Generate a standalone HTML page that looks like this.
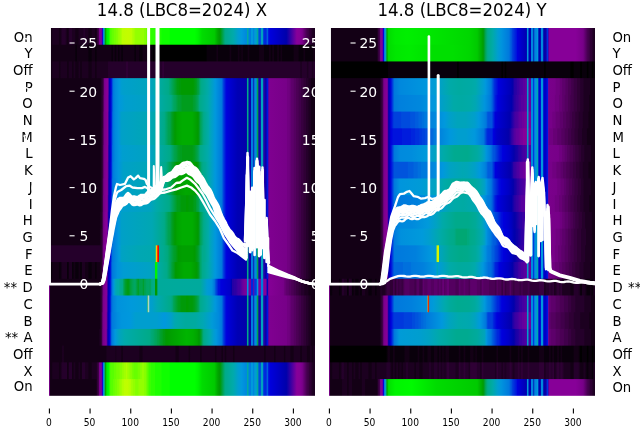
<!DOCTYPE html>
<html><head><meta charset="utf-8"><title>14.8 (LBC8=2024)</title>
<style>html,body{margin:0;padding:0;background:#fff}svg{display:block}text{font-family:"DejaVu Sans","Liberation Sans",sans-serif}</style>
</head><body>
<svg width="640" height="440" viewBox="0 0 640 440">
<defs><linearGradient id="gL0"><stop offset="0" stop-color="#7d008e"/><stop offset="0.001543" stop-color="#7d008e"/><stop offset="0.00463" stop-color="#1c0020"/><stop offset="0.007716" stop-color="#130015"/><stop offset="0.0108" stop-color="#130015"/><stop offset="0.01389" stop-color="#1c0020"/><stop offset="0.03549" stop-color="#1c0020"/><stop offset="0.03858" stop-color="#130015"/><stop offset="0.04167" stop-color="#130015"/><stop offset="0.05093" stop-color="#25002b"/><stop offset="0.06019" stop-color="#25002b"/><stop offset="0.06944" stop-color="#130015"/><stop offset="0.07253" stop-color="#130015"/><stop offset="0.07562" stop-color="#25002b"/><stop offset="0.08488" stop-color="#25002b"/><stop offset="0.08796" stop-color="#1c0020"/><stop offset="0.09722" stop-color="#1c0020"/><stop offset="0.1003" stop-color="#130015"/><stop offset="0.1096" stop-color="#130015"/><stop offset="0.1127" stop-color="#1c0020"/><stop offset="0.1281" stop-color="#1c0020"/><stop offset="0.1312" stop-color="#25002b"/><stop offset="0.1343" stop-color="#25002b"/><stop offset="0.1373" stop-color="#1c0020"/><stop offset="0.1466" stop-color="#1c0020"/><stop offset="0.1497" stop-color="#130015"/><stop offset="0.159" stop-color="#130015"/><stop offset="0.162" stop-color="#1c0020"/><stop offset="0.1713" stop-color="#1c0020"/><stop offset="0.1744" stop-color="#130015"/><stop offset="0.1775" stop-color="#130015"/><stop offset="0.1836" stop-color="#380040"/><stop offset="0.1867" stop-color="#41004b"/><stop offset="0.1898" stop-color="#79008a"/><stop offset="0.196" stop-color="#870098"/><stop offset="0.1991" stop-color="#58009f"/><stop offset="0.2022" stop-color="#0000dd"/><stop offset="0.2052" stop-color="#0098dd"/><stop offset="0.2083" stop-color="#00aa98"/><stop offset="0.2114" stop-color="#009a00"/><stop offset="0.2176" stop-color="#00ea00"/><stop offset="0.2238" stop-color="#00fc00"/><stop offset="0.2269" stop-color="#1dff00"/><stop offset="0.2299" stop-color="#49ff00"/><stop offset="0.233" stop-color="#58ff00"/><stop offset="0.2361" stop-color="#58ff00"/><stop offset="0.2392" stop-color="#67ff00"/><stop offset="0.2423" stop-color="#67ff00"/><stop offset="0.2454" stop-color="#75ff00"/><stop offset="0.2515" stop-color="#75ff00"/><stop offset="0.2546" stop-color="#84ff00"/><stop offset="0.2577" stop-color="#84ff00"/><stop offset="0.2608" stop-color="#93ff00"/><stop offset="0.2639" stop-color="#93ff00"/><stop offset="0.267" stop-color="#a1ff00"/><stop offset="0.2701" stop-color="#a1ff00"/><stop offset="0.2762" stop-color="#bcff00"/><stop offset="0.2978" stop-color="#c4fc00"/><stop offset="0.3102" stop-color="#bcff00"/><stop offset="0.3133" stop-color="#b0ff00"/><stop offset="0.3164" stop-color="#b0ff00"/><stop offset="0.3194" stop-color="#a1ff00"/><stop offset="0.3225" stop-color="#a1ff00"/><stop offset="0.3256" stop-color="#93ff00"/><stop offset="0.3565" stop-color="#93ff00"/><stop offset="0.3596" stop-color="#84ff00"/><stop offset="0.3627" stop-color="#84ff00"/><stop offset="0.3781" stop-color="#3bff00"/><stop offset="0.3812" stop-color="#3bff00"/><stop offset="0.3843" stop-color="#2cff00"/><stop offset="0.3966" stop-color="#2cff00"/><stop offset="0.3997" stop-color="#1dff00"/><stop offset="0.4213" stop-color="#1dff00"/><stop offset="0.4244" stop-color="#0fff00"/><stop offset="0.4522" stop-color="#0fff00"/><stop offset="0.4552" stop-color="#00ff00"/><stop offset="0.5478" stop-color="#00ff00"/><stop offset="0.5602" stop-color="#00f400"/><stop offset="0.5756" stop-color="#00dc00"/><stop offset="0.6219" stop-color="#00ca00"/><stop offset="0.6343" stop-color="#00a700"/><stop offset="0.6404" stop-color="#009c00"/><stop offset="0.6435" stop-color="#009a08"/><stop offset="0.662" stop-color="#00aa88"/><stop offset="0.6929" stop-color="#00aaab"/><stop offset="0.7114" stop-color="#009ecf"/><stop offset="0.7238" stop-color="#0098dd"/><stop offset="0.7423" stop-color="#0088dd"/><stop offset="0.7454" stop-color="#00aaa3"/><stop offset="0.7485" stop-color="#00aaa3"/><stop offset="0.7515" stop-color="#0080dd"/><stop offset="0.7577" stop-color="#007ddd"/><stop offset="0.7608" stop-color="#0098dd"/><stop offset="0.767" stop-color="#0098dd"/><stop offset="0.7701" stop-color="#0078dd"/><stop offset="0.7731" stop-color="#009cd3"/><stop offset="0.7793" stop-color="#009cd3"/><stop offset="0.7824" stop-color="#00aa9d"/><stop offset="0.7855" stop-color="#00aa9d"/><stop offset="0.7886" stop-color="#0054dd"/><stop offset="0.7917" stop-color="#004bdd"/><stop offset="0.7948" stop-color="#004bdd"/><stop offset="0.7978" stop-color="#00a3bf"/><stop offset="0.804" stop-color="#00a3bf"/><stop offset="0.8071" stop-color="#002fdd"/><stop offset="0.8164" stop-color="#0025dd"/><stop offset="0.8194" stop-color="#005ddd"/><stop offset="0.8225" stop-color="#005ddd"/><stop offset="0.8256" stop-color="#0013dd"/><stop offset="0.8318" stop-color="#0000dd"/><stop offset="0.8904" stop-color="#0000ad"/><stop offset="0.8935" stop-color="#0300aa"/><stop offset="0.9306" stop-color="#83009a"/><stop offset="0.9336" stop-color="#870098"/><stop offset="0.9429" stop-color="#850096"/><stop offset="0.9522" stop-color="#7a008b"/><stop offset="0.9707" stop-color="#41004b"/><stop offset="0.9738" stop-color="#41004b"/><stop offset="0.9799" stop-color="#2f0035"/><stop offset="0.983" stop-color="#2f0035"/><stop offset="0.9923" stop-color="#1c0020"/><stop offset="1" stop-color="#1c0020"/></linearGradient>
<linearGradient id="gL1"><stop offset="0" stop-color="#7d008e"/><stop offset="0.001543" stop-color="#7d008e"/><stop offset="0.00463" stop-color="#130015"/><stop offset="0.09722" stop-color="#130015"/><stop offset="0.1003" stop-color="#09000b"/><stop offset="0.1034" stop-color="#09000b"/><stop offset="0.1065" stop-color="#130015"/><stop offset="0.1466" stop-color="#130015"/><stop offset="0.1497" stop-color="#09000b"/><stop offset="0.159" stop-color="#09000b"/><stop offset="0.162" stop-color="#130015"/><stop offset="0.1713" stop-color="#130015"/><stop offset="0.1744" stop-color="#09000b"/><stop offset="0.1775" stop-color="#09000b"/><stop offset="0.1806" stop-color="#130015"/><stop offset="0.233" stop-color="#130015"/><stop offset="0.2361" stop-color="#09000b"/><stop offset="0.2392" stop-color="#09000b"/><stop offset="0.2423" stop-color="#130015"/><stop offset="0.2454" stop-color="#130015"/><stop offset="0.2485" stop-color="#09000b"/><stop offset="0.2515" stop-color="#09000b"/><stop offset="0.2546" stop-color="#130015"/><stop offset="0.2577" stop-color="#130015"/><stop offset="0.2608" stop-color="#09000b"/><stop offset="0.2639" stop-color="#09000b"/><stop offset="0.267" stop-color="#130015"/><stop offset="0.2701" stop-color="#130015"/><stop offset="0.2731" stop-color="#09000b"/><stop offset="0.2762" stop-color="#09000b"/><stop offset="0.2793" stop-color="#130015"/><stop offset="0.3194" stop-color="#130015"/><stop offset="0.3225" stop-color="#09000b"/><stop offset="0.3256" stop-color="#09000b"/><stop offset="0.3287" stop-color="#130015"/><stop offset="0.338" stop-color="#130015"/><stop offset="0.341" stop-color="#09000b"/><stop offset="0.3503" stop-color="#09000b"/><stop offset="0.3534" stop-color="#130015"/><stop offset="0.3812" stop-color="#130015"/><stop offset="0.3843" stop-color="#09000b"/><stop offset="0.3904" stop-color="#09000b"/><stop offset="0.3935" stop-color="#000000"/><stop offset="0.3966" stop-color="#09000b"/><stop offset="0.3997" stop-color="#000000"/><stop offset="0.591" stop-color="#000000"/><stop offset="0.5941" stop-color="#09000b"/><stop offset="0.6281" stop-color="#09000b"/><stop offset="0.6312" stop-color="#130015"/><stop offset="0.6343" stop-color="#130015"/><stop offset="0.6373" stop-color="#09000b"/><stop offset="0.6775" stop-color="#09000b"/><stop offset="0.6806" stop-color="#130015"/><stop offset="0.6836" stop-color="#130015"/><stop offset="0.6867" stop-color="#09000b"/><stop offset="0.7083" stop-color="#09000b"/><stop offset="0.7114" stop-color="#130015"/><stop offset="0.7145" stop-color="#130015"/><stop offset="0.7176" stop-color="#09000b"/><stop offset="0.7269" stop-color="#130015"/><stop offset="0.7299" stop-color="#09000b"/><stop offset="0.7454" stop-color="#09000b"/><stop offset="0.7485" stop-color="#130015"/><stop offset="0.7515" stop-color="#130015"/><stop offset="0.7546" stop-color="#09000b"/><stop offset="0.7886" stop-color="#09000b"/><stop offset="0.7917" stop-color="#130015"/><stop offset="0.8071" stop-color="#130015"/><stop offset="0.8102" stop-color="#09000b"/><stop offset="0.8256" stop-color="#09000b"/><stop offset="0.8287" stop-color="#130015"/><stop offset="0.8318" stop-color="#130015"/><stop offset="0.8349" stop-color="#09000b"/><stop offset="0.838" stop-color="#09000b"/><stop offset="0.841" stop-color="#130015"/><stop offset="0.8441" stop-color="#130015"/><stop offset="0.8472" stop-color="#09000b"/><stop offset="0.8565" stop-color="#09000b"/><stop offset="0.8596" stop-color="#130015"/><stop offset="0.8627" stop-color="#130015"/><stop offset="0.8657" stop-color="#09000b"/><stop offset="0.8688" stop-color="#09000b"/><stop offset="0.8719" stop-color="#130015"/><stop offset="0.875" stop-color="#130015"/><stop offset="0.8781" stop-color="#09000b"/><stop offset="0.9182" stop-color="#09000b"/><stop offset="0.9213" stop-color="#130015"/><stop offset="0.9367" stop-color="#130015"/><stop offset="0.9398" stop-color="#09000b"/><stop offset="0.9552" stop-color="#09000b"/><stop offset="0.9583" stop-color="#130015"/><stop offset="0.9614" stop-color="#130015"/><stop offset="0.9645" stop-color="#09000b"/><stop offset="0.9923" stop-color="#09000b"/><stop offset="0.9954" stop-color="#130015"/><stop offset="1" stop-color="#130015"/></linearGradient>
<linearGradient id="gL2"><stop offset="0" stop-color="#7d008e"/><stop offset="0.001543" stop-color="#7d008e"/><stop offset="0.00463" stop-color="#130015"/><stop offset="0.0108" stop-color="#130015"/><stop offset="0.01389" stop-color="#1c0020"/><stop offset="0.03549" stop-color="#1c0020"/><stop offset="0.03858" stop-color="#130015"/><stop offset="0.04167" stop-color="#130015"/><stop offset="0.04475" stop-color="#1c0020"/><stop offset="0.06636" stop-color="#1c0020"/><stop offset="0.06944" stop-color="#130015"/><stop offset="0.07253" stop-color="#130015"/><stop offset="0.07562" stop-color="#1c0020"/><stop offset="0.08488" stop-color="#1c0020"/><stop offset="0.08796" stop-color="#130015"/><stop offset="0.09105" stop-color="#130015"/><stop offset="0.09414" stop-color="#1c0020"/><stop offset="0.09722" stop-color="#1c0020"/><stop offset="0.1003" stop-color="#130015"/><stop offset="0.1065" stop-color="#130015"/><stop offset="0.1096" stop-color="#130015"/><stop offset="0.1127" stop-color="#1c0020"/><stop offset="0.1157" stop-color="#1c0020"/><stop offset="0.1188" stop-color="#130015"/><stop offset="0.1219" stop-color="#130015"/><stop offset="0.125" stop-color="#1c0020"/><stop offset="0.1466" stop-color="#1c0020"/><stop offset="0.1497" stop-color="#130015"/><stop offset="0.159" stop-color="#130015"/><stop offset="0.162" stop-color="#1c0020"/><stop offset="0.1713" stop-color="#1c0020"/><stop offset="0.1744" stop-color="#130015"/><stop offset="0.1775" stop-color="#130015"/><stop offset="0.1806" stop-color="#1c0020"/><stop offset="0.2207" stop-color="#1c0020"/><stop offset="0.2238" stop-color="#25002b"/><stop offset="0.2886" stop-color="#25002b"/><stop offset="0.2917" stop-color="#2f0035"/><stop offset="0.2948" stop-color="#2f0035"/><stop offset="0.2978" stop-color="#25002b"/><stop offset="0.375" stop-color="#25002b"/><stop offset="0.3781" stop-color="#2f0035"/><stop offset="0.3812" stop-color="#2f0035"/><stop offset="0.3843" stop-color="#25002b"/><stop offset="0.4244" stop-color="#25002b"/><stop offset="0.4275" stop-color="#2f0035"/><stop offset="0.4306" stop-color="#2f0035"/><stop offset="0.4336" stop-color="#25002b"/><stop offset="0.9429" stop-color="#25002b"/><stop offset="0.946" stop-color="#1c0020"/><stop offset="0.9491" stop-color="#1c0020"/><stop offset="0.9522" stop-color="#25002b"/><stop offset="0.9676" stop-color="#25002b"/><stop offset="0.9707" stop-color="#1c0020"/><stop offset="0.9738" stop-color="#1c0020"/><stop offset="0.9769" stop-color="#25002b"/><stop offset="0.9861" stop-color="#25002b"/><stop offset="0.9892" stop-color="#1c0020"/><stop offset="0.9923" stop-color="#1c0020"/><stop offset="0.9954" stop-color="#25002b"/><stop offset="1" stop-color="#25002b"/></linearGradient>
<linearGradient id="gL3"><stop offset="0" stop-color="#7d008e"/><stop offset="0.001543" stop-color="#7d008e"/><stop offset="0.00463" stop-color="#130015"/><stop offset="0.1929" stop-color="#130015"/><stop offset="0.2022" stop-color="#2f0035"/><stop offset="0.2052" stop-color="#4b0055"/><stop offset="0.2083" stop-color="#7a008b"/><stop offset="0.2145" stop-color="#850096"/><stop offset="0.2207" stop-color="#870098"/><stop offset="0.2238" stop-color="#4d00a0"/><stop offset="0.2269" stop-color="#0000ad"/><stop offset="0.233" stop-color="#0000d9"/><stop offset="0.2361" stop-color="#0025dd"/><stop offset="0.2392" stop-color="#005ddd"/><stop offset="0.2423" stop-color="#007add"/><stop offset="0.2485" stop-color="#0088dd"/><stop offset="0.2639" stop-color="#0098dd"/><stop offset="0.2731" stop-color="#009ecf"/><stop offset="0.2824" stop-color="#009fcb"/><stop offset="0.3873" stop-color="#00a4bb"/><stop offset="0.3997" stop-color="#00aaab"/><stop offset="0.4491" stop-color="#00aa88"/><stop offset="0.483" stop-color="#009b13"/><stop offset="0.4861" stop-color="#009b13"/><stop offset="0.4892" stop-color="#009a08"/><stop offset="0.4954" stop-color="#009a08"/><stop offset="0.4985" stop-color="#009a00"/><stop offset="0.5417" stop-color="#009a00"/><stop offset="0.554" stop-color="#009d1d"/><stop offset="0.5571" stop-color="#009f33"/><stop offset="0.5633" stop-color="#00a248"/><stop offset="0.5664" stop-color="#00a668"/><stop offset="0.5694" stop-color="#00a97d"/><stop offset="0.5725" stop-color="#00aa88"/><stop offset="0.5972" stop-color="#00aaa8"/><stop offset="0.625" stop-color="#0098dd"/><stop offset="0.6497" stop-color="#0078dd"/><stop offset="0.6559" stop-color="#0041dd"/><stop offset="0.6651" stop-color="#0009dd"/><stop offset="0.6682" stop-color="#0000dd"/><stop offset="0.7083" stop-color="#0000b5"/><stop offset="0.7423" stop-color="#0300aa"/><stop offset="0.7454" stop-color="#00aa88"/><stop offset="0.7485" stop-color="#00aa88"/><stop offset="0.7515" stop-color="#0300aa"/><stop offset="0.7546" stop-color="#0d00a8"/><stop offset="0.7577" stop-color="#0d00a8"/><stop offset="0.7608" stop-color="#007ddd"/><stop offset="0.767" stop-color="#007ddd"/><stop offset="0.7701" stop-color="#0d00a8"/><stop offset="0.7731" stop-color="#008add"/><stop offset="0.7793" stop-color="#008add"/><stop offset="0.7824" stop-color="#00a353"/><stop offset="0.7855" stop-color="#00a353"/><stop offset="0.7886" stop-color="#1800a7"/><stop offset="0.7948" stop-color="#1800a7"/><stop offset="0.7978" stop-color="#00a3bf"/><stop offset="0.804" stop-color="#00a3bf"/><stop offset="0.8071" stop-color="#2300a6"/><stop offset="0.8102" stop-color="#2300a6"/><stop offset="0.8133" stop-color="#0d00a8"/><stop offset="0.8164" stop-color="#0300aa"/><stop offset="0.8194" stop-color="#0013dd"/><stop offset="0.8225" stop-color="#0013dd"/><stop offset="0.8256" stop-color="#63009e"/><stop offset="0.8287" stop-color="#7f0090"/><stop offset="0.8935" stop-color="#770088"/><stop offset="0.8966" stop-color="#700080"/><stop offset="0.9028" stop-color="#700080"/><stop offset="0.912" stop-color="#5d006b"/><stop offset="0.9182" stop-color="#5d006b"/><stop offset="0.9213" stop-color="#540060"/><stop offset="0.9275" stop-color="#540060"/><stop offset="0.9306" stop-color="#4b0055"/><stop offset="0.9367" stop-color="#4b0055"/><stop offset="0.9398" stop-color="#41004b"/><stop offset="0.946" stop-color="#41004b"/><stop offset="0.9491" stop-color="#380040"/><stop offset="0.9552" stop-color="#380040"/><stop offset="0.9583" stop-color="#2f0035"/><stop offset="0.9645" stop-color="#2f0035"/><stop offset="0.9676" stop-color="#25002b"/><stop offset="0.9738" stop-color="#25002b"/><stop offset="0.9769" stop-color="#1c0020"/><stop offset="0.983" stop-color="#1c0020"/><stop offset="0.9861" stop-color="#130015"/><stop offset="1" stop-color="#130015"/></linearGradient>
<linearGradient id="gL4"><stop offset="0" stop-color="#7d008e"/><stop offset="0.001543" stop-color="#7d008e"/><stop offset="0.00463" stop-color="#130015"/><stop offset="0.1929" stop-color="#130015"/><stop offset="0.2022" stop-color="#2f0035"/><stop offset="0.2083" stop-color="#7a008b"/><stop offset="0.2145" stop-color="#850096"/><stop offset="0.2207" stop-color="#870098"/><stop offset="0.2269" stop-color="#0000b1"/><stop offset="0.233" stop-color="#0000d9"/><stop offset="0.2392" stop-color="#005ddd"/><stop offset="0.2423" stop-color="#007add"/><stop offset="0.2485" stop-color="#0088dd"/><stop offset="0.2639" stop-color="#0098dd"/><stop offset="0.2855" stop-color="#009ecf"/><stop offset="0.375" stop-color="#00a2c3"/><stop offset="0.3935" stop-color="#00a4bb"/><stop offset="0.4059" stop-color="#00aaab"/><stop offset="0.4583" stop-color="#00aa88"/><stop offset="0.4707" stop-color="#00a55d"/><stop offset="0.4738" stop-color="#00a55d"/><stop offset="0.4861" stop-color="#009f33"/><stop offset="0.4923" stop-color="#009f33"/><stop offset="0.5015" stop-color="#009d1d"/><stop offset="0.5386" stop-color="#009d1d"/><stop offset="0.5448" stop-color="#009f33"/><stop offset="0.5478" stop-color="#009f33"/><stop offset="0.5602" stop-color="#00a55d"/><stop offset="0.5664" stop-color="#00aa88"/><stop offset="0.5972" stop-color="#00aaab"/><stop offset="0.625" stop-color="#0098dd"/><stop offset="0.6497" stop-color="#0078dd"/><stop offset="0.6559" stop-color="#0041dd"/><stop offset="0.6651" stop-color="#0009dd"/><stop offset="0.6682" stop-color="#0000dd"/><stop offset="0.7083" stop-color="#0000b5"/><stop offset="0.7423" stop-color="#0300aa"/><stop offset="0.7454" stop-color="#00aa88"/><stop offset="0.7485" stop-color="#00aa88"/><stop offset="0.7515" stop-color="#0300aa"/><stop offset="0.7546" stop-color="#0d00a8"/><stop offset="0.7577" stop-color="#0d00a8"/><stop offset="0.7608" stop-color="#007ddd"/><stop offset="0.767" stop-color="#007ddd"/><stop offset="0.7701" stop-color="#0d00a8"/><stop offset="0.7731" stop-color="#008add"/><stop offset="0.7793" stop-color="#008add"/><stop offset="0.7824" stop-color="#00a353"/><stop offset="0.7855" stop-color="#00a353"/><stop offset="0.7886" stop-color="#1800a7"/><stop offset="0.7948" stop-color="#1800a7"/><stop offset="0.7978" stop-color="#00a3bf"/><stop offset="0.804" stop-color="#00a3bf"/><stop offset="0.8071" stop-color="#2300a6"/><stop offset="0.8102" stop-color="#2300a6"/><stop offset="0.8133" stop-color="#0d00a8"/><stop offset="0.8164" stop-color="#0300aa"/><stop offset="0.8194" stop-color="#0013dd"/><stop offset="0.8225" stop-color="#0013dd"/><stop offset="0.8256" stop-color="#63009e"/><stop offset="0.8287" stop-color="#7f0090"/><stop offset="0.8935" stop-color="#770088"/><stop offset="0.8966" stop-color="#700080"/><stop offset="0.9028" stop-color="#700080"/><stop offset="0.912" stop-color="#5d006b"/><stop offset="0.9182" stop-color="#5d006b"/><stop offset="0.9213" stop-color="#540060"/><stop offset="0.9275" stop-color="#540060"/><stop offset="0.9306" stop-color="#4b0055"/><stop offset="0.9367" stop-color="#4b0055"/><stop offset="0.9398" stop-color="#41004b"/><stop offset="0.946" stop-color="#41004b"/><stop offset="0.9491" stop-color="#380040"/><stop offset="0.9552" stop-color="#380040"/><stop offset="0.9583" stop-color="#2f0035"/><stop offset="0.9645" stop-color="#2f0035"/><stop offset="0.9676" stop-color="#25002b"/><stop offset="0.9738" stop-color="#25002b"/><stop offset="0.9769" stop-color="#1c0020"/><stop offset="0.983" stop-color="#1c0020"/><stop offset="0.9861" stop-color="#130015"/><stop offset="1" stop-color="#130015"/></linearGradient>
<linearGradient id="gL5"><stop offset="0" stop-color="#7d008e"/><stop offset="0.001543" stop-color="#7d008e"/><stop offset="0.00463" stop-color="#130015"/><stop offset="0.1929" stop-color="#130015"/><stop offset="0.2022" stop-color="#2f0035"/><stop offset="0.2052" stop-color="#5d006b"/><stop offset="0.2083" stop-color="#7b008c"/><stop offset="0.2207" stop-color="#870098"/><stop offset="0.2238" stop-color="#3800a3"/><stop offset="0.2269" stop-color="#0000b1"/><stop offset="0.233" stop-color="#0000dd"/><stop offset="0.2361" stop-color="#002fdd"/><stop offset="0.2392" stop-color="#0067dd"/><stop offset="0.2423" stop-color="#007add"/><stop offset="0.2485" stop-color="#0088dd"/><stop offset="0.2608" stop-color="#0095dd"/><stop offset="0.2731" stop-color="#00a0c7"/><stop offset="0.3873" stop-color="#00a7b3"/><stop offset="0.4336" stop-color="#00aa88"/><stop offset="0.4491" stop-color="#00a353"/><stop offset="0.4522" stop-color="#00a353"/><stop offset="0.4583" stop-color="#00a13d"/><stop offset="0.4614" stop-color="#009e28"/><stop offset="0.4738" stop-color="#009a00"/><stop offset="0.483" stop-color="#00a400"/><stop offset="0.5015" stop-color="#00ac00"/><stop offset="0.5386" stop-color="#00ac00"/><stop offset="0.5602" stop-color="#009a00"/><stop offset="0.5633" stop-color="#009b13"/><stop offset="0.5694" stop-color="#00a353"/><stop offset="0.5818" stop-color="#00aa8b"/><stop offset="0.6003" stop-color="#00aaab"/><stop offset="0.6034" stop-color="#00a6b7"/><stop offset="0.625" stop-color="#0098dd"/><stop offset="0.6497" stop-color="#0078dd"/><stop offset="0.6559" stop-color="#0041dd"/><stop offset="0.6651" stop-color="#0009dd"/><stop offset="0.6682" stop-color="#0000dd"/><stop offset="0.7083" stop-color="#0000b5"/><stop offset="0.7423" stop-color="#0300aa"/><stop offset="0.7454" stop-color="#00aa88"/><stop offset="0.7485" stop-color="#00aa88"/><stop offset="0.7515" stop-color="#0300aa"/><stop offset="0.7546" stop-color="#0d00a8"/><stop offset="0.7577" stop-color="#0d00a8"/><stop offset="0.7608" stop-color="#007ddd"/><stop offset="0.767" stop-color="#007ddd"/><stop offset="0.7701" stop-color="#0d00a8"/><stop offset="0.7731" stop-color="#008add"/><stop offset="0.7793" stop-color="#008add"/><stop offset="0.7824" stop-color="#00a353"/><stop offset="0.7855" stop-color="#00a353"/><stop offset="0.7886" stop-color="#1800a7"/><stop offset="0.7948" stop-color="#1800a7"/><stop offset="0.7978" stop-color="#00a3bf"/><stop offset="0.804" stop-color="#00a3bf"/><stop offset="0.8071" stop-color="#2300a6"/><stop offset="0.8102" stop-color="#2300a6"/><stop offset="0.8133" stop-color="#0d00a8"/><stop offset="0.8164" stop-color="#0300aa"/><stop offset="0.8194" stop-color="#0013dd"/><stop offset="0.8225" stop-color="#0013dd"/><stop offset="0.8256" stop-color="#63009e"/><stop offset="0.8287" stop-color="#7f0090"/><stop offset="0.8935" stop-color="#770088"/><stop offset="0.8966" stop-color="#700080"/><stop offset="0.9028" stop-color="#700080"/><stop offset="0.912" stop-color="#5d006b"/><stop offset="0.9182" stop-color="#5d006b"/><stop offset="0.9213" stop-color="#540060"/><stop offset="0.9275" stop-color="#540060"/><stop offset="0.9306" stop-color="#4b0055"/><stop offset="0.9367" stop-color="#4b0055"/><stop offset="0.9398" stop-color="#41004b"/><stop offset="0.946" stop-color="#41004b"/><stop offset="0.9491" stop-color="#380040"/><stop offset="0.9552" stop-color="#380040"/><stop offset="0.9583" stop-color="#2f0035"/><stop offset="0.9645" stop-color="#2f0035"/><stop offset="0.9676" stop-color="#25002b"/><stop offset="0.9738" stop-color="#25002b"/><stop offset="0.9769" stop-color="#1c0020"/><stop offset="0.983" stop-color="#1c0020"/><stop offset="0.9861" stop-color="#130015"/><stop offset="1" stop-color="#130015"/></linearGradient>
<linearGradient id="gL6"><stop offset="0" stop-color="#7d008e"/><stop offset="0.001543" stop-color="#7d008e"/><stop offset="0.00463" stop-color="#130015"/><stop offset="0.1929" stop-color="#130015"/><stop offset="0.1991" stop-color="#25002b"/><stop offset="0.2022" stop-color="#380040"/><stop offset="0.2052" stop-color="#5d006b"/><stop offset="0.2083" stop-color="#7b008c"/><stop offset="0.2207" stop-color="#870098"/><stop offset="0.2238" stop-color="#3800a3"/><stop offset="0.2269" stop-color="#0000b5"/><stop offset="0.233" stop-color="#0000dd"/><stop offset="0.2361" stop-color="#0038dd"/><stop offset="0.2392" stop-color="#0067dd"/><stop offset="0.2423" stop-color="#007add"/><stop offset="0.2485" stop-color="#0088dd"/><stop offset="0.2608" stop-color="#0095dd"/><stop offset="0.2731" stop-color="#00a0c7"/><stop offset="0.3873" stop-color="#00a7b3"/><stop offset="0.4336" stop-color="#00aa88"/><stop offset="0.4491" stop-color="#00a353"/><stop offset="0.4522" stop-color="#00a353"/><stop offset="0.4583" stop-color="#00a13d"/><stop offset="0.4614" stop-color="#009e28"/><stop offset="0.4738" stop-color="#009a00"/><stop offset="0.483" stop-color="#00a400"/><stop offset="0.5015" stop-color="#00ac00"/><stop offset="0.5386" stop-color="#00ac00"/><stop offset="0.5602" stop-color="#009a00"/><stop offset="0.5633" stop-color="#009b13"/><stop offset="0.5694" stop-color="#00a353"/><stop offset="0.5818" stop-color="#00aa8b"/><stop offset="0.6003" stop-color="#00aaab"/><stop offset="0.6034" stop-color="#00a6b7"/><stop offset="0.625" stop-color="#0098dd"/><stop offset="0.6497" stop-color="#0078dd"/><stop offset="0.6559" stop-color="#0041dd"/><stop offset="0.6651" stop-color="#0009dd"/><stop offset="0.6682" stop-color="#0000dd"/><stop offset="0.7083" stop-color="#0000b5"/><stop offset="0.7423" stop-color="#0300aa"/><stop offset="0.7454" stop-color="#00aa88"/><stop offset="0.7485" stop-color="#00aa88"/><stop offset="0.7515" stop-color="#0300aa"/><stop offset="0.7546" stop-color="#0d00a8"/><stop offset="0.7577" stop-color="#0d00a8"/><stop offset="0.7608" stop-color="#007ddd"/><stop offset="0.767" stop-color="#007ddd"/><stop offset="0.7701" stop-color="#0d00a8"/><stop offset="0.7731" stop-color="#008add"/><stop offset="0.7793" stop-color="#008add"/><stop offset="0.7824" stop-color="#00a353"/><stop offset="0.7855" stop-color="#00a353"/><stop offset="0.7886" stop-color="#1800a7"/><stop offset="0.7948" stop-color="#1800a7"/><stop offset="0.7978" stop-color="#00a3bf"/><stop offset="0.804" stop-color="#00a3bf"/><stop offset="0.8071" stop-color="#2300a6"/><stop offset="0.8102" stop-color="#2300a6"/><stop offset="0.8133" stop-color="#0d00a8"/><stop offset="0.8164" stop-color="#0300aa"/><stop offset="0.8194" stop-color="#0013dd"/><stop offset="0.8225" stop-color="#0013dd"/><stop offset="0.8256" stop-color="#63009e"/><stop offset="0.8287" stop-color="#7f0090"/><stop offset="0.8935" stop-color="#770088"/><stop offset="0.8966" stop-color="#700080"/><stop offset="0.9028" stop-color="#700080"/><stop offset="0.912" stop-color="#5d006b"/><stop offset="0.9182" stop-color="#5d006b"/><stop offset="0.9213" stop-color="#540060"/><stop offset="0.9275" stop-color="#540060"/><stop offset="0.9306" stop-color="#4b0055"/><stop offset="0.9367" stop-color="#4b0055"/><stop offset="0.9398" stop-color="#41004b"/><stop offset="0.946" stop-color="#41004b"/><stop offset="0.9491" stop-color="#380040"/><stop offset="0.9552" stop-color="#380040"/><stop offset="0.9583" stop-color="#2f0035"/><stop offset="0.9645" stop-color="#2f0035"/><stop offset="0.9676" stop-color="#25002b"/><stop offset="0.9738" stop-color="#25002b"/><stop offset="0.9769" stop-color="#1c0020"/><stop offset="0.983" stop-color="#1c0020"/><stop offset="0.9861" stop-color="#130015"/><stop offset="1" stop-color="#130015"/></linearGradient>
<linearGradient id="gL7"><stop offset="0" stop-color="#7d008e"/><stop offset="0.001543" stop-color="#7d008e"/><stop offset="0.00463" stop-color="#130015"/><stop offset="0.1929" stop-color="#130015"/><stop offset="0.1991" stop-color="#25002b"/><stop offset="0.2022" stop-color="#380040"/><stop offset="0.2052" stop-color="#670075"/><stop offset="0.2083" stop-color="#7b008c"/><stop offset="0.2176" stop-color="#860097"/><stop offset="0.2207" stop-color="#83009a"/><stop offset="0.2238" stop-color="#2d00a4"/><stop offset="0.2269" stop-color="#0000b5"/><stop offset="0.233" stop-color="#0000dd"/><stop offset="0.2392" stop-color="#0070dd"/><stop offset="0.2485" stop-color="#0088dd"/><stop offset="0.2639" stop-color="#0098dd"/><stop offset="0.2762" stop-color="#009ecf"/><stop offset="0.3873" stop-color="#00a3bf"/><stop offset="0.3997" stop-color="#00a8af"/><stop offset="0.4552" stop-color="#00aa88"/><stop offset="0.4738" stop-color="#00a248"/><stop offset="0.4769" stop-color="#00a248"/><stop offset="0.4861" stop-color="#009e28"/><stop offset="0.4892" stop-color="#009e28"/><stop offset="0.4923" stop-color="#009d1d"/><stop offset="0.4985" stop-color="#009d1d"/><stop offset="0.5015" stop-color="#009b13"/><stop offset="0.5386" stop-color="#009b13"/><stop offset="0.5417" stop-color="#009d1d"/><stop offset="0.5448" stop-color="#009d1d"/><stop offset="0.5602" stop-color="#00a353"/><stop offset="0.5664" stop-color="#00a97d"/><stop offset="0.5694" stop-color="#00aa8b"/><stop offset="0.5972" stop-color="#00aaab"/><stop offset="0.625" stop-color="#0098dd"/><stop offset="0.6497" stop-color="#0078dd"/><stop offset="0.6559" stop-color="#0041dd"/><stop offset="0.6651" stop-color="#0009dd"/><stop offset="0.6682" stop-color="#0000dd"/><stop offset="0.7083" stop-color="#0000b5"/><stop offset="0.7423" stop-color="#0300aa"/><stop offset="0.7454" stop-color="#00aa88"/><stop offset="0.7485" stop-color="#00aa88"/><stop offset="0.7515" stop-color="#0300aa"/><stop offset="0.7546" stop-color="#0d00a8"/><stop offset="0.7577" stop-color="#0d00a8"/><stop offset="0.7608" stop-color="#007ddd"/><stop offset="0.767" stop-color="#007ddd"/><stop offset="0.7701" stop-color="#0d00a8"/><stop offset="0.7731" stop-color="#008add"/><stop offset="0.7793" stop-color="#008add"/><stop offset="0.7824" stop-color="#00a353"/><stop offset="0.7855" stop-color="#00a353"/><stop offset="0.7886" stop-color="#1800a7"/><stop offset="0.7948" stop-color="#1800a7"/><stop offset="0.7978" stop-color="#00a3bf"/><stop offset="0.804" stop-color="#00a3bf"/><stop offset="0.8071" stop-color="#2300a6"/><stop offset="0.8102" stop-color="#2300a6"/><stop offset="0.8133" stop-color="#0d00a8"/><stop offset="0.8164" stop-color="#0300aa"/><stop offset="0.8194" stop-color="#0013dd"/><stop offset="0.8225" stop-color="#0013dd"/><stop offset="0.8256" stop-color="#63009e"/><stop offset="0.8287" stop-color="#7f0090"/><stop offset="0.8935" stop-color="#770088"/><stop offset="0.8966" stop-color="#700080"/><stop offset="0.9028" stop-color="#700080"/><stop offset="0.912" stop-color="#5d006b"/><stop offset="0.9182" stop-color="#5d006b"/><stop offset="0.9213" stop-color="#540060"/><stop offset="0.9275" stop-color="#540060"/><stop offset="0.9306" stop-color="#4b0055"/><stop offset="0.9367" stop-color="#4b0055"/><stop offset="0.9398" stop-color="#41004b"/><stop offset="0.946" stop-color="#41004b"/><stop offset="0.9491" stop-color="#380040"/><stop offset="0.9552" stop-color="#380040"/><stop offset="0.9583" stop-color="#2f0035"/><stop offset="0.9645" stop-color="#2f0035"/><stop offset="0.9676" stop-color="#25002b"/><stop offset="0.9738" stop-color="#25002b"/><stop offset="0.9769" stop-color="#1c0020"/><stop offset="0.983" stop-color="#1c0020"/><stop offset="0.9861" stop-color="#130015"/><stop offset="1" stop-color="#130015"/></linearGradient>
<linearGradient id="gL8"><stop offset="0" stop-color="#7d008e"/><stop offset="0.001543" stop-color="#7d008e"/><stop offset="0.00463" stop-color="#130015"/><stop offset="0.1929" stop-color="#130015"/><stop offset="0.1991" stop-color="#25002b"/><stop offset="0.2022" stop-color="#380040"/><stop offset="0.2052" stop-color="#670075"/><stop offset="0.2083" stop-color="#7b008c"/><stop offset="0.2176" stop-color="#860097"/><stop offset="0.2207" stop-color="#78009b"/><stop offset="0.2238" stop-color="#2d00a4"/><stop offset="0.2269" stop-color="#0000b9"/><stop offset="0.2299" stop-color="#0000cd"/><stop offset="0.233" stop-color="#0009dd"/><stop offset="0.2361" stop-color="#0038dd"/><stop offset="0.2392" stop-color="#0070dd"/><stop offset="0.2423" stop-color="#007ddd"/><stop offset="0.2485" stop-color="#0088dd"/><stop offset="0.2608" stop-color="#0095dd"/><stop offset="0.2793" stop-color="#00a0c7"/><stop offset="0.3873" stop-color="#00a6b7"/><stop offset="0.4398" stop-color="#00aa88"/><stop offset="0.4552" stop-color="#00a353"/><stop offset="0.4583" stop-color="#00a353"/><stop offset="0.4614" stop-color="#00a13d"/><stop offset="0.4799" stop-color="#009a00"/><stop offset="0.5139" stop-color="#00a700"/><stop offset="0.5386" stop-color="#00a400"/><stop offset="0.554" stop-color="#009a00"/><stop offset="0.5602" stop-color="#009b13"/><stop offset="0.5633" stop-color="#009e28"/><stop offset="0.5664" stop-color="#00a248"/><stop offset="0.5725" stop-color="#00a773"/><stop offset="0.5787" stop-color="#00aa8b"/><stop offset="0.588" stop-color="#00aa95"/><stop offset="0.5972" stop-color="#00aaa8"/><stop offset="0.625" stop-color="#0098dd"/><stop offset="0.6497" stop-color="#0078dd"/><stop offset="0.6559" stop-color="#0041dd"/><stop offset="0.6651" stop-color="#0009dd"/><stop offset="0.6682" stop-color="#0000dd"/><stop offset="0.7083" stop-color="#0000b5"/><stop offset="0.7423" stop-color="#0300aa"/><stop offset="0.7454" stop-color="#00aa88"/><stop offset="0.7485" stop-color="#00aa88"/><stop offset="0.7515" stop-color="#0300aa"/><stop offset="0.7546" stop-color="#0d00a8"/><stop offset="0.7577" stop-color="#0d00a8"/><stop offset="0.7608" stop-color="#007ddd"/><stop offset="0.767" stop-color="#007ddd"/><stop offset="0.7701" stop-color="#0d00a8"/><stop offset="0.7731" stop-color="#008add"/><stop offset="0.7793" stop-color="#008add"/><stop offset="0.7824" stop-color="#00a353"/><stop offset="0.7855" stop-color="#00a353"/><stop offset="0.7886" stop-color="#1800a7"/><stop offset="0.7948" stop-color="#1800a7"/><stop offset="0.7978" stop-color="#00a3bf"/><stop offset="0.804" stop-color="#00a3bf"/><stop offset="0.8071" stop-color="#2300a6"/><stop offset="0.8102" stop-color="#2300a6"/><stop offset="0.8133" stop-color="#0d00a8"/><stop offset="0.8164" stop-color="#0300aa"/><stop offset="0.8194" stop-color="#0013dd"/><stop offset="0.8225" stop-color="#0013dd"/><stop offset="0.8256" stop-color="#63009e"/><stop offset="0.8287" stop-color="#7f0090"/><stop offset="0.8935" stop-color="#770088"/><stop offset="0.8966" stop-color="#700080"/><stop offset="0.9028" stop-color="#700080"/><stop offset="0.912" stop-color="#5d006b"/><stop offset="0.9182" stop-color="#5d006b"/><stop offset="0.9213" stop-color="#540060"/><stop offset="0.9275" stop-color="#540060"/><stop offset="0.9306" stop-color="#4b0055"/><stop offset="0.9367" stop-color="#4b0055"/><stop offset="0.9398" stop-color="#41004b"/><stop offset="0.946" stop-color="#41004b"/><stop offset="0.9491" stop-color="#380040"/><stop offset="0.9552" stop-color="#380040"/><stop offset="0.9583" stop-color="#2f0035"/><stop offset="0.9645" stop-color="#2f0035"/><stop offset="0.9676" stop-color="#25002b"/><stop offset="0.9738" stop-color="#25002b"/><stop offset="0.9769" stop-color="#1c0020"/><stop offset="0.983" stop-color="#1c0020"/><stop offset="0.9861" stop-color="#130015"/><stop offset="1" stop-color="#130015"/></linearGradient>
<linearGradient id="gL9"><stop offset="0" stop-color="#7d008e"/><stop offset="0.001543" stop-color="#7d008e"/><stop offset="0.00463" stop-color="#130015"/><stop offset="0.1929" stop-color="#130015"/><stop offset="0.1991" stop-color="#25002b"/><stop offset="0.2022" stop-color="#41004b"/><stop offset="0.2052" stop-color="#700080"/><stop offset="0.2083" stop-color="#7d008e"/><stop offset="0.2176" stop-color="#860097"/><stop offset="0.2207" stop-color="#78009b"/><stop offset="0.2238" stop-color="#2300a6"/><stop offset="0.2269" stop-color="#0000b9"/><stop offset="0.2299" stop-color="#0000cd"/><stop offset="0.233" stop-color="#0009dd"/><stop offset="0.2392" stop-color="#0078dd"/><stop offset="0.2608" stop-color="#0095dd"/><stop offset="0.2793" stop-color="#00a0c7"/><stop offset="0.3873" stop-color="#00a6b7"/><stop offset="0.4398" stop-color="#00aa88"/><stop offset="0.4552" stop-color="#00a353"/><stop offset="0.4583" stop-color="#00a353"/><stop offset="0.4614" stop-color="#00a13d"/><stop offset="0.4799" stop-color="#009a00"/><stop offset="0.5139" stop-color="#00a700"/><stop offset="0.5386" stop-color="#00a400"/><stop offset="0.554" stop-color="#009a00"/><stop offset="0.5602" stop-color="#009b13"/><stop offset="0.5633" stop-color="#009e28"/><stop offset="0.5664" stop-color="#00a248"/><stop offset="0.5725" stop-color="#00a773"/><stop offset="0.5787" stop-color="#00aa8b"/><stop offset="0.588" stop-color="#00aa95"/><stop offset="0.5972" stop-color="#00aaa8"/><stop offset="0.625" stop-color="#0098dd"/><stop offset="0.6497" stop-color="#0078dd"/><stop offset="0.6559" stop-color="#0041dd"/><stop offset="0.6651" stop-color="#0009dd"/><stop offset="0.6682" stop-color="#0000dd"/><stop offset="0.7083" stop-color="#0000b5"/><stop offset="0.7423" stop-color="#0300aa"/><stop offset="0.7454" stop-color="#00aa88"/><stop offset="0.7485" stop-color="#00aa88"/><stop offset="0.7515" stop-color="#0300aa"/><stop offset="0.7546" stop-color="#0d00a8"/><stop offset="0.7577" stop-color="#0d00a8"/><stop offset="0.7608" stop-color="#007ddd"/><stop offset="0.767" stop-color="#007ddd"/><stop offset="0.7701" stop-color="#0d00a8"/><stop offset="0.7731" stop-color="#008add"/><stop offset="0.7793" stop-color="#008add"/><stop offset="0.7824" stop-color="#00a353"/><stop offset="0.7855" stop-color="#00a353"/><stop offset="0.7886" stop-color="#1800a7"/><stop offset="0.7948" stop-color="#1800a7"/><stop offset="0.7978" stop-color="#00a3bf"/><stop offset="0.804" stop-color="#00a3bf"/><stop offset="0.8071" stop-color="#2300a6"/><stop offset="0.8102" stop-color="#2300a6"/><stop offset="0.8133" stop-color="#0d00a8"/><stop offset="0.8164" stop-color="#0300aa"/><stop offset="0.8194" stop-color="#0013dd"/><stop offset="0.8225" stop-color="#0013dd"/><stop offset="0.8256" stop-color="#63009e"/><stop offset="0.8287" stop-color="#7f0090"/><stop offset="0.8935" stop-color="#770088"/><stop offset="0.8966" stop-color="#700080"/><stop offset="0.9028" stop-color="#700080"/><stop offset="0.912" stop-color="#5d006b"/><stop offset="0.9182" stop-color="#5d006b"/><stop offset="0.9213" stop-color="#540060"/><stop offset="0.9275" stop-color="#540060"/><stop offset="0.9306" stop-color="#4b0055"/><stop offset="0.9367" stop-color="#4b0055"/><stop offset="0.9398" stop-color="#41004b"/><stop offset="0.946" stop-color="#41004b"/><stop offset="0.9491" stop-color="#380040"/><stop offset="0.9552" stop-color="#380040"/><stop offset="0.9583" stop-color="#2f0035"/><stop offset="0.9645" stop-color="#2f0035"/><stop offset="0.9676" stop-color="#25002b"/><stop offset="0.9738" stop-color="#25002b"/><stop offset="0.9769" stop-color="#1c0020"/><stop offset="0.983" stop-color="#1c0020"/><stop offset="0.9861" stop-color="#130015"/><stop offset="1" stop-color="#130015"/></linearGradient>
<linearGradient id="gL10"><stop offset="0" stop-color="#7d008e"/><stop offset="0.001543" stop-color="#7d008e"/><stop offset="0.00463" stop-color="#130015"/><stop offset="0.1929" stop-color="#130015"/><stop offset="0.1991" stop-color="#25002b"/><stop offset="0.2022" stop-color="#41004b"/><stop offset="0.2052" stop-color="#770088"/><stop offset="0.2176" stop-color="#860097"/><stop offset="0.2207" stop-color="#6d009c"/><stop offset="0.2238" stop-color="#1800a7"/><stop offset="0.2269" stop-color="#0000bd"/><stop offset="0.2299" stop-color="#0000d1"/><stop offset="0.233" stop-color="#0013dd"/><stop offset="0.2361" stop-color="#004bdd"/><stop offset="0.2392" stop-color="#0078dd"/><stop offset="0.2577" stop-color="#0092dd"/><stop offset="0.267" stop-color="#009adb"/><stop offset="0.2731" stop-color="#009ecf"/><stop offset="0.3812" stop-color="#00a3bf"/><stop offset="0.4059" stop-color="#00aaa8"/><stop offset="0.4522" stop-color="#00aa88"/><stop offset="0.483" stop-color="#009d1d"/><stop offset="0.4892" stop-color="#009d1d"/><stop offset="0.4985" stop-color="#009a08"/><stop offset="0.5139" stop-color="#009a08"/><stop offset="0.517" stop-color="#009a00"/><stop offset="0.5231" stop-color="#009a00"/><stop offset="0.5262" stop-color="#009a08"/><stop offset="0.5386" stop-color="#009a08"/><stop offset="0.5478" stop-color="#009d1d"/><stop offset="0.5509" stop-color="#009d1d"/><stop offset="0.554" stop-color="#009f33"/><stop offset="0.5633" stop-color="#00a353"/><stop offset="0.5664" stop-color="#00a773"/><stop offset="0.5694" stop-color="#00aa88"/><stop offset="0.5972" stop-color="#00aaab"/><stop offset="0.625" stop-color="#0098dd"/><stop offset="0.6497" stop-color="#0078dd"/><stop offset="0.6559" stop-color="#0041dd"/><stop offset="0.6651" stop-color="#0009dd"/><stop offset="0.6682" stop-color="#0000dd"/><stop offset="0.7083" stop-color="#0000b5"/><stop offset="0.7423" stop-color="#0300aa"/><stop offset="0.7454" stop-color="#00aa88"/><stop offset="0.7485" stop-color="#00aa88"/><stop offset="0.7515" stop-color="#0300aa"/><stop offset="0.7546" stop-color="#0d00a8"/><stop offset="0.7577" stop-color="#0d00a8"/><stop offset="0.7608" stop-color="#007ddd"/><stop offset="0.767" stop-color="#007ddd"/><stop offset="0.7701" stop-color="#0d00a8"/><stop offset="0.7731" stop-color="#008add"/><stop offset="0.7793" stop-color="#008add"/><stop offset="0.7824" stop-color="#00a353"/><stop offset="0.7855" stop-color="#00a353"/><stop offset="0.7886" stop-color="#1800a7"/><stop offset="0.7948" stop-color="#1800a7"/><stop offset="0.7978" stop-color="#00a3bf"/><stop offset="0.804" stop-color="#00a3bf"/><stop offset="0.8071" stop-color="#2300a6"/><stop offset="0.8102" stop-color="#2300a6"/><stop offset="0.8133" stop-color="#0d00a8"/><stop offset="0.8164" stop-color="#0300aa"/><stop offset="0.8194" stop-color="#0013dd"/><stop offset="0.8225" stop-color="#0013dd"/><stop offset="0.8256" stop-color="#63009e"/><stop offset="0.8287" stop-color="#7f0090"/><stop offset="0.8935" stop-color="#770088"/><stop offset="0.8966" stop-color="#700080"/><stop offset="0.9028" stop-color="#700080"/><stop offset="0.912" stop-color="#5d006b"/><stop offset="0.9182" stop-color="#5d006b"/><stop offset="0.9213" stop-color="#540060"/><stop offset="0.9275" stop-color="#540060"/><stop offset="0.9306" stop-color="#4b0055"/><stop offset="0.9367" stop-color="#4b0055"/><stop offset="0.9398" stop-color="#41004b"/><stop offset="0.946" stop-color="#41004b"/><stop offset="0.9491" stop-color="#380040"/><stop offset="0.9552" stop-color="#380040"/><stop offset="0.9583" stop-color="#2f0035"/><stop offset="0.9645" stop-color="#2f0035"/><stop offset="0.9676" stop-color="#25002b"/><stop offset="0.9738" stop-color="#25002b"/><stop offset="0.9769" stop-color="#1c0020"/><stop offset="0.983" stop-color="#1c0020"/><stop offset="0.9861" stop-color="#130015"/><stop offset="1" stop-color="#130015"/></linearGradient>
<linearGradient id="gL11"><stop offset="0" stop-color="#7d008e"/><stop offset="0.001543" stop-color="#7d008e"/><stop offset="0.00463" stop-color="#130015"/><stop offset="0.1898" stop-color="#130015"/><stop offset="0.1991" stop-color="#25002b"/><stop offset="0.2022" stop-color="#4b0055"/><stop offset="0.2052" stop-color="#770088"/><stop offset="0.2114" stop-color="#830094"/><stop offset="0.2176" stop-color="#870098"/><stop offset="0.2207" stop-color="#63009e"/><stop offset="0.2238" stop-color="#0d00a8"/><stop offset="0.2269" stop-color="#0000bd"/><stop offset="0.2299" stop-color="#0000d1"/><stop offset="0.233" stop-color="#001cdd"/><stop offset="0.2392" stop-color="#0078dd"/><stop offset="0.2608" stop-color="#0095dd"/><stop offset="0.2731" stop-color="#00a0c7"/><stop offset="0.3873" stop-color="#00a7b3"/><stop offset="0.4336" stop-color="#00aa88"/><stop offset="0.4491" stop-color="#00a353"/><stop offset="0.4522" stop-color="#00a353"/><stop offset="0.4583" stop-color="#00a13d"/><stop offset="0.4614" stop-color="#009e28"/><stop offset="0.4738" stop-color="#009a00"/><stop offset="0.483" stop-color="#00a400"/><stop offset="0.5015" stop-color="#00ac00"/><stop offset="0.5386" stop-color="#00ac00"/><stop offset="0.5602" stop-color="#009a00"/><stop offset="0.5633" stop-color="#009b13"/><stop offset="0.5694" stop-color="#00a353"/><stop offset="0.5818" stop-color="#00aa8b"/><stop offset="0.6003" stop-color="#00aaab"/><stop offset="0.6034" stop-color="#00a6b7"/><stop offset="0.625" stop-color="#0098dd"/><stop offset="0.6497" stop-color="#0078dd"/><stop offset="0.6559" stop-color="#0041dd"/><stop offset="0.6651" stop-color="#0009dd"/><stop offset="0.6682" stop-color="#0000dd"/><stop offset="0.7083" stop-color="#0000b5"/><stop offset="0.7423" stop-color="#0300aa"/><stop offset="0.7454" stop-color="#00aa88"/><stop offset="0.7485" stop-color="#00aa88"/><stop offset="0.7515" stop-color="#0300aa"/><stop offset="0.7546" stop-color="#0d00a8"/><stop offset="0.7577" stop-color="#0d00a8"/><stop offset="0.7608" stop-color="#007ddd"/><stop offset="0.767" stop-color="#007ddd"/><stop offset="0.7701" stop-color="#0d00a8"/><stop offset="0.7731" stop-color="#008add"/><stop offset="0.7793" stop-color="#008add"/><stop offset="0.7824" stop-color="#00a353"/><stop offset="0.7855" stop-color="#00a353"/><stop offset="0.7886" stop-color="#1800a7"/><stop offset="0.7948" stop-color="#1800a7"/><stop offset="0.7978" stop-color="#00a3bf"/><stop offset="0.804" stop-color="#00a3bf"/><stop offset="0.8071" stop-color="#2300a6"/><stop offset="0.8102" stop-color="#2300a6"/><stop offset="0.8133" stop-color="#0d00a8"/><stop offset="0.8164" stop-color="#0300aa"/><stop offset="0.8194" stop-color="#0013dd"/><stop offset="0.8225" stop-color="#0013dd"/><stop offset="0.8256" stop-color="#63009e"/><stop offset="0.8287" stop-color="#7f0090"/><stop offset="0.8935" stop-color="#770088"/><stop offset="0.8966" stop-color="#700080"/><stop offset="0.9028" stop-color="#700080"/><stop offset="0.912" stop-color="#5d006b"/><stop offset="0.9182" stop-color="#5d006b"/><stop offset="0.9213" stop-color="#540060"/><stop offset="0.9275" stop-color="#540060"/><stop offset="0.9306" stop-color="#4b0055"/><stop offset="0.9367" stop-color="#4b0055"/><stop offset="0.9398" stop-color="#41004b"/><stop offset="0.946" stop-color="#41004b"/><stop offset="0.9491" stop-color="#380040"/><stop offset="0.9552" stop-color="#380040"/><stop offset="0.9583" stop-color="#2f0035"/><stop offset="0.9645" stop-color="#2f0035"/><stop offset="0.9676" stop-color="#25002b"/><stop offset="0.9738" stop-color="#25002b"/><stop offset="0.9769" stop-color="#1c0020"/><stop offset="0.983" stop-color="#1c0020"/><stop offset="0.9861" stop-color="#130015"/><stop offset="1" stop-color="#130015"/></linearGradient>
<linearGradient id="gL12"><stop offset="0" stop-color="#7d008e"/><stop offset="0.001543" stop-color="#7d008e"/><stop offset="0.00463" stop-color="#130015"/><stop offset="0.1898" stop-color="#130015"/><stop offset="0.1991" stop-color="#2f0035"/><stop offset="0.2022" stop-color="#4b0055"/><stop offset="0.2052" stop-color="#79008a"/><stop offset="0.2176" stop-color="#870098"/><stop offset="0.2207" stop-color="#58009f"/><stop offset="0.2238" stop-color="#0300aa"/><stop offset="0.2299" stop-color="#0000d5"/><stop offset="0.233" stop-color="#0025dd"/><stop offset="0.2361" stop-color="#0054dd"/><stop offset="0.2392" stop-color="#0078dd"/><stop offset="0.2608" stop-color="#0095dd"/><stop offset="0.2731" stop-color="#00a0c7"/><stop offset="0.3873" stop-color="#00a7b3"/><stop offset="0.4336" stop-color="#00aa88"/><stop offset="0.4491" stop-color="#00a353"/><stop offset="0.4522" stop-color="#00a353"/><stop offset="0.4583" stop-color="#00a13d"/><stop offset="0.4614" stop-color="#009e28"/><stop offset="0.4738" stop-color="#009a00"/><stop offset="0.483" stop-color="#00a400"/><stop offset="0.5015" stop-color="#00ac00"/><stop offset="0.5386" stop-color="#00ac00"/><stop offset="0.5602" stop-color="#009a00"/><stop offset="0.5633" stop-color="#009b13"/><stop offset="0.5694" stop-color="#00a353"/><stop offset="0.5818" stop-color="#00aa8b"/><stop offset="0.6003" stop-color="#00aaab"/><stop offset="0.6034" stop-color="#00a6b7"/><stop offset="0.625" stop-color="#0098dd"/><stop offset="0.6497" stop-color="#0078dd"/><stop offset="0.6559" stop-color="#0041dd"/><stop offset="0.6651" stop-color="#0009dd"/><stop offset="0.6682" stop-color="#0000dd"/><stop offset="0.7083" stop-color="#0000b5"/><stop offset="0.7423" stop-color="#0300aa"/><stop offset="0.7454" stop-color="#00aa88"/><stop offset="0.7485" stop-color="#00aa88"/><stop offset="0.7515" stop-color="#0300aa"/><stop offset="0.7546" stop-color="#0d00a8"/><stop offset="0.7577" stop-color="#0d00a8"/><stop offset="0.7608" stop-color="#007ddd"/><stop offset="0.767" stop-color="#007ddd"/><stop offset="0.7701" stop-color="#0d00a8"/><stop offset="0.7731" stop-color="#008add"/><stop offset="0.7793" stop-color="#008add"/><stop offset="0.7824" stop-color="#00a353"/><stop offset="0.7855" stop-color="#00a353"/><stop offset="0.7886" stop-color="#1800a7"/><stop offset="0.7948" stop-color="#1800a7"/><stop offset="0.7978" stop-color="#00a3bf"/><stop offset="0.804" stop-color="#00a3bf"/><stop offset="0.8071" stop-color="#2300a6"/><stop offset="0.8102" stop-color="#2300a6"/><stop offset="0.8133" stop-color="#0d00a8"/><stop offset="0.8164" stop-color="#0300aa"/><stop offset="0.8194" stop-color="#0013dd"/><stop offset="0.8225" stop-color="#0013dd"/><stop offset="0.8256" stop-color="#63009e"/><stop offset="0.8287" stop-color="#7f0090"/><stop offset="0.8935" stop-color="#770088"/><stop offset="0.8966" stop-color="#700080"/><stop offset="0.9028" stop-color="#700080"/><stop offset="0.912" stop-color="#5d006b"/><stop offset="0.9182" stop-color="#5d006b"/><stop offset="0.9213" stop-color="#540060"/><stop offset="0.9275" stop-color="#540060"/><stop offset="0.9306" stop-color="#4b0055"/><stop offset="0.9367" stop-color="#4b0055"/><stop offset="0.9398" stop-color="#41004b"/><stop offset="0.946" stop-color="#41004b"/><stop offset="0.9491" stop-color="#380040"/><stop offset="0.9552" stop-color="#380040"/><stop offset="0.9583" stop-color="#2f0035"/><stop offset="0.9645" stop-color="#2f0035"/><stop offset="0.9676" stop-color="#25002b"/><stop offset="0.9738" stop-color="#25002b"/><stop offset="0.9769" stop-color="#1c0020"/><stop offset="0.983" stop-color="#1c0020"/><stop offset="0.9861" stop-color="#130015"/><stop offset="1" stop-color="#130015"/></linearGradient>
<linearGradient id="gL13"><stop offset="0" stop-color="#7d008e"/><stop offset="0.001543" stop-color="#7d008e"/><stop offset="0.00463" stop-color="#25002b"/><stop offset="0.196" stop-color="#25002b"/><stop offset="0.1991" stop-color="#2f0035"/><stop offset="0.2052" stop-color="#7a008b"/><stop offset="0.2114" stop-color="#850096"/><stop offset="0.2176" stop-color="#870098"/><stop offset="0.2207" stop-color="#4d00a0"/><stop offset="0.2238" stop-color="#0000ad"/><stop offset="0.2299" stop-color="#0000d9"/><stop offset="0.233" stop-color="#0025dd"/><stop offset="0.2361" stop-color="#005ddd"/><stop offset="0.2392" stop-color="#0078dd"/><stop offset="0.2639" stop-color="#009adb"/><stop offset="0.2731" stop-color="#00a2c3"/><stop offset="0.341" stop-color="#00a7b3"/><stop offset="0.3873" stop-color="#00a8af"/><stop offset="0.3997" stop-color="#00aaa3"/><stop offset="0.4028" stop-color="#f5df00"/><stop offset="0.4059" stop-color="#ffad00"/><stop offset="0.409" stop-color="#f60000"/><stop offset="0.412" stop-color="#f60000"/><stop offset="0.4151" stop-color="#00aa98"/><stop offset="0.4306" stop-color="#00aa90"/><stop offset="0.446" stop-color="#00a97d"/><stop offset="0.4707" stop-color="#009e28"/><stop offset="0.4738" stop-color="#009e28"/><stop offset="0.4861" stop-color="#009a00"/><stop offset="0.5015" stop-color="#009f00"/><stop offset="0.5386" stop-color="#009f00"/><stop offset="0.5478" stop-color="#009a00"/><stop offset="0.5602" stop-color="#009e28"/><stop offset="0.5694" stop-color="#00a668"/><stop offset="0.5725" stop-color="#00a773"/><stop offset="0.5756" stop-color="#00aa88"/><stop offset="0.5849" stop-color="#00aa90"/><stop offset="0.6003" stop-color="#00aaab"/><stop offset="0.6034" stop-color="#00a6b7"/><stop offset="0.625" stop-color="#0098dd"/><stop offset="0.6497" stop-color="#0078dd"/><stop offset="0.6559" stop-color="#0041dd"/><stop offset="0.6651" stop-color="#0009dd"/><stop offset="0.6682" stop-color="#0000dd"/><stop offset="0.7083" stop-color="#0000b5"/><stop offset="0.7423" stop-color="#0300aa"/><stop offset="0.7454" stop-color="#00aa88"/><stop offset="0.7485" stop-color="#00aa88"/><stop offset="0.7515" stop-color="#0300aa"/><stop offset="0.7546" stop-color="#0d00a8"/><stop offset="0.7577" stop-color="#0d00a8"/><stop offset="0.7608" stop-color="#007ddd"/><stop offset="0.767" stop-color="#007ddd"/><stop offset="0.7701" stop-color="#0d00a8"/><stop offset="0.7731" stop-color="#008add"/><stop offset="0.7793" stop-color="#008add"/><stop offset="0.7824" stop-color="#00a353"/><stop offset="0.7855" stop-color="#00a353"/><stop offset="0.7886" stop-color="#1800a7"/><stop offset="0.7948" stop-color="#1800a7"/><stop offset="0.7978" stop-color="#00a3bf"/><stop offset="0.804" stop-color="#00a3bf"/><stop offset="0.8071" stop-color="#2300a6"/><stop offset="0.8102" stop-color="#2300a6"/><stop offset="0.8133" stop-color="#0d00a8"/><stop offset="0.8164" stop-color="#0300aa"/><stop offset="0.8194" stop-color="#0013dd"/><stop offset="0.8225" stop-color="#0013dd"/><stop offset="0.8256" stop-color="#63009e"/><stop offset="0.8287" stop-color="#7f0090"/><stop offset="0.8935" stop-color="#770088"/><stop offset="0.8966" stop-color="#700080"/><stop offset="0.9028" stop-color="#700080"/><stop offset="0.912" stop-color="#5d006b"/><stop offset="0.9182" stop-color="#5d006b"/><stop offset="0.9213" stop-color="#540060"/><stop offset="0.9275" stop-color="#540060"/><stop offset="0.9306" stop-color="#4b0055"/><stop offset="0.9367" stop-color="#4b0055"/><stop offset="0.9398" stop-color="#41004b"/><stop offset="0.946" stop-color="#41004b"/><stop offset="0.9491" stop-color="#380040"/><stop offset="0.9552" stop-color="#380040"/><stop offset="0.9583" stop-color="#2f0035"/><stop offset="0.9645" stop-color="#2f0035"/><stop offset="0.9676" stop-color="#25002b"/><stop offset="0.9738" stop-color="#25002b"/><stop offset="0.9769" stop-color="#1c0020"/><stop offset="0.983" stop-color="#1c0020"/><stop offset="0.9861" stop-color="#130015"/><stop offset="1" stop-color="#130015"/></linearGradient>
<linearGradient id="gL14"><stop offset="0" stop-color="#7d008e"/><stop offset="0.001543" stop-color="#7d008e"/><stop offset="0.00463" stop-color="#09000b"/><stop offset="0.0108" stop-color="#09000b"/><stop offset="0.01389" stop-color="#130015"/><stop offset="0.03549" stop-color="#130015"/><stop offset="0.03858" stop-color="#09000b"/><stop offset="0.04167" stop-color="#09000b"/><stop offset="0.05093" stop-color="#1c0020"/><stop offset="0.06636" stop-color="#1c0020"/><stop offset="0.06944" stop-color="#09000b"/><stop offset="0.07253" stop-color="#09000b"/><stop offset="0.07562" stop-color="#1c0020"/><stop offset="0.08488" stop-color="#1c0020"/><stop offset="0.08796" stop-color="#09000b"/><stop offset="0.09105" stop-color="#09000b"/><stop offset="0.09414" stop-color="#130015"/><stop offset="0.09722" stop-color="#130015"/><stop offset="0.1003" stop-color="#09000b"/><stop offset="0.1096" stop-color="#09000b"/><stop offset="0.1127" stop-color="#130015"/><stop offset="0.1157" stop-color="#130015"/><stop offset="0.1188" stop-color="#09000b"/><stop offset="0.1219" stop-color="#09000b"/><stop offset="0.125" stop-color="#1c0020"/><stop offset="0.1343" stop-color="#1c0020"/><stop offset="0.1373" stop-color="#130015"/><stop offset="0.1466" stop-color="#130015"/><stop offset="0.1497" stop-color="#09000b"/><stop offset="0.159" stop-color="#09000b"/><stop offset="0.162" stop-color="#130015"/><stop offset="0.1713" stop-color="#130015"/><stop offset="0.1744" stop-color="#09000b"/><stop offset="0.1775" stop-color="#09000b"/><stop offset="0.1806" stop-color="#130015"/><stop offset="0.1898" stop-color="#130015"/><stop offset="0.1991" stop-color="#2f0035"/><stop offset="0.2022" stop-color="#5d006b"/><stop offset="0.2052" stop-color="#7b008c"/><stop offset="0.2176" stop-color="#870098"/><stop offset="0.2207" stop-color="#3800a3"/><stop offset="0.2238" stop-color="#0000b1"/><stop offset="0.2299" stop-color="#0000dd"/><stop offset="0.233" stop-color="#002fdd"/><stop offset="0.2361" stop-color="#0067dd"/><stop offset="0.2392" stop-color="#007add"/><stop offset="0.2577" stop-color="#0092dd"/><stop offset="0.2793" stop-color="#009cd3"/><stop offset="0.3812" stop-color="#00a2c3"/><stop offset="0.3966" stop-color="#00a7b3"/><stop offset="0.3997" stop-color="#00f400"/><stop offset="0.4059" stop-color="#00f400"/><stop offset="0.409" stop-color="#00aaa5"/><stop offset="0.4429" stop-color="#00aa88"/><stop offset="0.4583" stop-color="#00a353"/><stop offset="0.4614" stop-color="#00a13d"/><stop offset="0.4707" stop-color="#009d1d"/><stop offset="0.4738" stop-color="#009a08"/><stop offset="0.4769" stop-color="#009a00"/><stop offset="0.5077" stop-color="#00aa00"/><stop offset="0.5324" stop-color="#00aa00"/><stop offset="0.554" stop-color="#009c00"/><stop offset="0.5602" stop-color="#009b13"/><stop offset="0.5633" stop-color="#009e28"/><stop offset="0.5694" stop-color="#00a668"/><stop offset="0.5725" stop-color="#00a773"/><stop offset="0.5756" stop-color="#00aa88"/><stop offset="0.5972" stop-color="#00aaa8"/><stop offset="0.625" stop-color="#0098dd"/><stop offset="0.6497" stop-color="#0078dd"/><stop offset="0.6559" stop-color="#0041dd"/><stop offset="0.6651" stop-color="#0009dd"/><stop offset="0.6682" stop-color="#0000dd"/><stop offset="0.7083" stop-color="#0000b5"/><stop offset="0.7423" stop-color="#0300aa"/><stop offset="0.7454" stop-color="#00aa88"/><stop offset="0.7485" stop-color="#00aa88"/><stop offset="0.7515" stop-color="#0300aa"/><stop offset="0.7546" stop-color="#0d00a8"/><stop offset="0.7577" stop-color="#0d00a8"/><stop offset="0.7608" stop-color="#007ddd"/><stop offset="0.767" stop-color="#007ddd"/><stop offset="0.7701" stop-color="#0d00a8"/><stop offset="0.7731" stop-color="#008add"/><stop offset="0.7793" stop-color="#008add"/><stop offset="0.7824" stop-color="#00a353"/><stop offset="0.7855" stop-color="#00a353"/><stop offset="0.7886" stop-color="#1800a7"/><stop offset="0.7948" stop-color="#1800a7"/><stop offset="0.7978" stop-color="#00a3bf"/><stop offset="0.804" stop-color="#00a3bf"/><stop offset="0.8071" stop-color="#2300a6"/><stop offset="0.8102" stop-color="#2300a6"/><stop offset="0.8133" stop-color="#0d00a8"/><stop offset="0.8164" stop-color="#0300aa"/><stop offset="0.8194" stop-color="#0013dd"/><stop offset="0.8225" stop-color="#0013dd"/><stop offset="0.8256" stop-color="#63009e"/><stop offset="0.8287" stop-color="#7f0090"/><stop offset="0.8349" stop-color="#7f0090"/><stop offset="0.8935" stop-color="#770088"/><stop offset="0.8966" stop-color="#700080"/><stop offset="0.9028" stop-color="#700080"/><stop offset="0.912" stop-color="#5d006b"/><stop offset="0.9182" stop-color="#5d006b"/><stop offset="0.9213" stop-color="#540060"/><stop offset="0.9275" stop-color="#540060"/><stop offset="0.9306" stop-color="#4b0055"/><stop offset="0.9367" stop-color="#4b0055"/><stop offset="0.9398" stop-color="#41004b"/><stop offset="0.946" stop-color="#41004b"/><stop offset="0.9491" stop-color="#380040"/><stop offset="0.9552" stop-color="#380040"/><stop offset="0.9583" stop-color="#2f0035"/><stop offset="0.9645" stop-color="#2f0035"/><stop offset="0.9676" stop-color="#25002b"/><stop offset="0.9738" stop-color="#25002b"/><stop offset="0.9769" stop-color="#1c0020"/><stop offset="0.983" stop-color="#1c0020"/><stop offset="0.9861" stop-color="#130015"/><stop offset="1" stop-color="#130015"/></linearGradient>
<linearGradient id="gL15"><stop offset="0" stop-color="#7d008e"/><stop offset="0.001543" stop-color="#7d008e"/><stop offset="0.00463" stop-color="#130015"/><stop offset="0.1898" stop-color="#130015"/><stop offset="0.196" stop-color="#25002b"/><stop offset="0.1991" stop-color="#380040"/><stop offset="0.2022" stop-color="#5d006b"/><stop offset="0.2052" stop-color="#7b008c"/><stop offset="0.2145" stop-color="#860097"/><stop offset="0.2176" stop-color="#83009a"/><stop offset="0.2207" stop-color="#2d00a4"/><stop offset="0.2238" stop-color="#0000b5"/><stop offset="0.2299" stop-color="#0000dd"/><stop offset="0.233" stop-color="#0038dd"/><stop offset="0.2361" stop-color="#0067dd"/><stop offset="0.2392" stop-color="#0082dd"/><stop offset="0.2423" stop-color="#0090dd"/><stop offset="0.2454" stop-color="#009cd3"/><stop offset="0.2485" stop-color="#00a3bf"/><stop offset="0.2546" stop-color="#00a8af"/><stop offset="0.2577" stop-color="#00aaa8"/><stop offset="0.2608" stop-color="#00aaab"/><stop offset="0.267" stop-color="#00aa95"/><stop offset="0.2762" stop-color="#00aa8b"/><stop offset="0.2793" stop-color="#00a668"/><stop offset="0.2824" stop-color="#00a353"/><stop offset="0.2855" stop-color="#009f33"/><stop offset="0.2948" stop-color="#009b13"/><stop offset="0.3009" stop-color="#009b13"/><stop offset="0.304" stop-color="#009f33"/><stop offset="0.3164" stop-color="#00a55d"/><stop offset="0.3194" stop-color="#00a55d"/><stop offset="0.3225" stop-color="#00a668"/><stop offset="0.3256" stop-color="#00a55d"/><stop offset="0.3349" stop-color="#009e28"/><stop offset="0.338" stop-color="#009e28"/><stop offset="0.341" stop-color="#00a353"/><stop offset="0.3441" stop-color="#00a248"/><stop offset="0.3472" stop-color="#00a248"/><stop offset="0.3503" stop-color="#00a353"/><stop offset="0.3534" stop-color="#009e28"/><stop offset="0.3565" stop-color="#009f33"/><stop offset="0.3596" stop-color="#00a353"/><stop offset="0.3627" stop-color="#00a353"/><stop offset="0.3688" stop-color="#00a668"/><stop offset="0.3719" stop-color="#00a55d"/><stop offset="0.375" stop-color="#00a668"/><stop offset="0.3781" stop-color="#00a55d"/><stop offset="0.3812" stop-color="#00a55d"/><stop offset="0.3843" stop-color="#00a97d"/><stop offset="0.3873" stop-color="#00a97d"/><stop offset="0.3904" stop-color="#00aa88"/><stop offset="0.3966" stop-color="#00aa88"/><stop offset="0.3997" stop-color="#009a00"/><stop offset="0.4059" stop-color="#009a00"/><stop offset="0.409" stop-color="#00aa9b"/><stop offset="0.5694" stop-color="#00aa9d"/><stop offset="0.5941" stop-color="#009cd3"/><stop offset="0.6096" stop-color="#0095dd"/><stop offset="0.6127" stop-color="#0092dd"/><stop offset="0.6219" stop-color="#0078dd"/><stop offset="0.625" stop-color="#005ddd"/><stop offset="0.6373" stop-color="#0013dd"/><stop offset="0.6404" stop-color="#0013dd"/><stop offset="0.6466" stop-color="#0000dd"/><stop offset="0.6806" stop-color="#0000c9"/><stop offset="0.6867" stop-color="#0000ad"/><stop offset="0.6898" stop-color="#2300a6"/><stop offset="0.6929" stop-color="#2300a6"/><stop offset="0.696" stop-color="#2d00a4"/><stop offset="0.7022" stop-color="#2d00a4"/><stop offset="0.7114" stop-color="#4300a2"/><stop offset="0.7176" stop-color="#4300a2"/><stop offset="0.7299" stop-color="#6d009c"/><stop offset="0.733" stop-color="#6d009c"/><stop offset="0.7361" stop-color="#78009b"/><stop offset="0.7423" stop-color="#78009b"/><stop offset="0.7454" stop-color="#0092dd"/><stop offset="0.7485" stop-color="#0092dd"/><stop offset="0.7515" stop-color="#78009b"/><stop offset="0.7577" stop-color="#78009b"/><stop offset="0.7608" stop-color="#0025dd"/><stop offset="0.767" stop-color="#0025dd"/><stop offset="0.7701" stop-color="#83009a"/><stop offset="0.7731" stop-color="#0038dd"/><stop offset="0.7793" stop-color="#0038dd"/><stop offset="0.7824" stop-color="#0098dd"/><stop offset="0.7855" stop-color="#0098dd"/><stop offset="0.7886" stop-color="#83009a"/><stop offset="0.7948" stop-color="#83009a"/><stop offset="0.7978" stop-color="#007ddd"/><stop offset="0.804" stop-color="#007ddd"/><stop offset="0.8071" stop-color="#870098"/><stop offset="0.8164" stop-color="#870098"/><stop offset="0.8194" stop-color="#0000bd"/><stop offset="0.8225" stop-color="#0000bd"/><stop offset="0.8256" stop-color="#850096"/><stop offset="0.8812" stop-color="#770088"/><stop offset="0.8873" stop-color="#670075"/><stop offset="0.8904" stop-color="#670075"/><stop offset="0.8935" stop-color="#5d006b"/><stop offset="0.8997" stop-color="#5d006b"/><stop offset="0.9028" stop-color="#540060"/><stop offset="0.909" stop-color="#540060"/><stop offset="0.912" stop-color="#4b0055"/><stop offset="0.9182" stop-color="#4b0055"/><stop offset="0.9213" stop-color="#41004b"/><stop offset="0.9275" stop-color="#41004b"/><stop offset="0.9306" stop-color="#380040"/><stop offset="0.9367" stop-color="#380040"/><stop offset="0.9398" stop-color="#2f0035"/><stop offset="0.946" stop-color="#2f0035"/><stop offset="0.9491" stop-color="#25002b"/><stop offset="0.9583" stop-color="#25002b"/><stop offset="0.9614" stop-color="#1c0020"/><stop offset="0.9738" stop-color="#1c0020"/><stop offset="0.9769" stop-color="#130015"/><stop offset="1" stop-color="#130015"/></linearGradient>
<linearGradient id="gL16"><stop offset="0" stop-color="#7d008e"/><stop offset="0.001543" stop-color="#7d008e"/><stop offset="0.00463" stop-color="#130015"/><stop offset="0.1898" stop-color="#130015"/><stop offset="0.196" stop-color="#25002b"/><stop offset="0.1991" stop-color="#380040"/><stop offset="0.2022" stop-color="#670075"/><stop offset="0.2052" stop-color="#7d008e"/><stop offset="0.2145" stop-color="#860097"/><stop offset="0.2176" stop-color="#78009b"/><stop offset="0.2207" stop-color="#2300a6"/><stop offset="0.2238" stop-color="#0000b9"/><stop offset="0.2269" stop-color="#0000cd"/><stop offset="0.2299" stop-color="#0009dd"/><stop offset="0.233" stop-color="#0041dd"/><stop offset="0.2361" stop-color="#0070dd"/><stop offset="0.2423" stop-color="#0080dd"/><stop offset="0.2577" stop-color="#0092dd"/><stop offset="0.3102" stop-color="#009adb"/><stop offset="0.375" stop-color="#009ecf"/><stop offset="0.3873" stop-color="#009fcb"/><stop offset="0.409" stop-color="#00a8af"/><stop offset="0.4583" stop-color="#00aa88"/><stop offset="0.4645" stop-color="#00a773"/><stop offset="0.4676" stop-color="#00a55d"/><stop offset="0.4861" stop-color="#009d1d"/><stop offset="0.4892" stop-color="#009d1d"/><stop offset="0.4985" stop-color="#009a08"/><stop offset="0.5139" stop-color="#009a08"/><stop offset="0.517" stop-color="#009a00"/><stop offset="0.5231" stop-color="#009a00"/><stop offset="0.5262" stop-color="#009a08"/><stop offset="0.5386" stop-color="#009a08"/><stop offset="0.5417" stop-color="#009b13"/><stop offset="0.5448" stop-color="#009b13"/><stop offset="0.5571" stop-color="#00a13d"/><stop offset="0.5602" stop-color="#00a353"/><stop offset="0.5633" stop-color="#00a55d"/><stop offset="0.5664" stop-color="#00a97d"/><stop offset="0.5694" stop-color="#00aa8d"/><stop offset="0.5941" stop-color="#00aaab"/><stop offset="0.6065" stop-color="#00a4bb"/><stop offset="0.625" stop-color="#0098dd"/><stop offset="0.6497" stop-color="#0078dd"/><stop offset="0.6559" stop-color="#0041dd"/><stop offset="0.6651" stop-color="#0009dd"/><stop offset="0.6682" stop-color="#0000dd"/><stop offset="0.7083" stop-color="#0000b5"/><stop offset="0.7423" stop-color="#0300aa"/><stop offset="0.7454" stop-color="#00aa88"/><stop offset="0.7485" stop-color="#00aa88"/><stop offset="0.7515" stop-color="#0300aa"/><stop offset="0.7546" stop-color="#0d00a8"/><stop offset="0.7577" stop-color="#0d00a8"/><stop offset="0.7608" stop-color="#007ddd"/><stop offset="0.767" stop-color="#007ddd"/><stop offset="0.7701" stop-color="#0d00a8"/><stop offset="0.7731" stop-color="#008add"/><stop offset="0.7793" stop-color="#008add"/><stop offset="0.7824" stop-color="#00a353"/><stop offset="0.7855" stop-color="#00a353"/><stop offset="0.7886" stop-color="#1800a7"/><stop offset="0.7948" stop-color="#1800a7"/><stop offset="0.7978" stop-color="#00a3bf"/><stop offset="0.804" stop-color="#00a3bf"/><stop offset="0.8071" stop-color="#2300a6"/><stop offset="0.8102" stop-color="#2300a6"/><stop offset="0.8133" stop-color="#0d00a8"/><stop offset="0.8164" stop-color="#0300aa"/><stop offset="0.8194" stop-color="#0013dd"/><stop offset="0.8225" stop-color="#0013dd"/><stop offset="0.8256" stop-color="#63009e"/><stop offset="0.8287" stop-color="#7f0090"/><stop offset="0.8935" stop-color="#770088"/><stop offset="0.8966" stop-color="#700080"/><stop offset="0.9028" stop-color="#700080"/><stop offset="0.912" stop-color="#5d006b"/><stop offset="0.9182" stop-color="#5d006b"/><stop offset="0.9213" stop-color="#540060"/><stop offset="0.9275" stop-color="#540060"/><stop offset="0.9306" stop-color="#4b0055"/><stop offset="0.9367" stop-color="#4b0055"/><stop offset="0.9398" stop-color="#41004b"/><stop offset="0.946" stop-color="#41004b"/><stop offset="0.9491" stop-color="#380040"/><stop offset="0.9552" stop-color="#380040"/><stop offset="0.9583" stop-color="#2f0035"/><stop offset="0.9645" stop-color="#2f0035"/><stop offset="0.9676" stop-color="#25002b"/><stop offset="0.9738" stop-color="#25002b"/><stop offset="0.9769" stop-color="#1c0020"/><stop offset="0.983" stop-color="#1c0020"/><stop offset="0.9861" stop-color="#130015"/><stop offset="1" stop-color="#130015"/></linearGradient>
<linearGradient id="gL17"><stop offset="0" stop-color="#7d008e"/><stop offset="0.001543" stop-color="#7d008e"/><stop offset="0.00463" stop-color="#130015"/><stop offset="0.1898" stop-color="#130015"/><stop offset="0.196" stop-color="#25002b"/><stop offset="0.1991" stop-color="#41004b"/><stop offset="0.2022" stop-color="#700080"/><stop offset="0.2052" stop-color="#7d008e"/><stop offset="0.2145" stop-color="#860097"/><stop offset="0.2176" stop-color="#6d009c"/><stop offset="0.2207" stop-color="#1800a7"/><stop offset="0.2238" stop-color="#0000b9"/><stop offset="0.2269" stop-color="#0000cd"/><stop offset="0.2299" stop-color="#0013dd"/><stop offset="0.2361" stop-color="#0078dd"/><stop offset="0.2577" stop-color="#008ddd"/><stop offset="0.2731" stop-color="#0095dd"/><stop offset="0.304" stop-color="#0098dd"/><stop offset="0.3256" stop-color="#009ecf"/><stop offset="0.4059" stop-color="#009ecf"/><stop offset="0.4336" stop-color="#0098dd"/><stop offset="0.4583" stop-color="#009fcb"/><stop offset="0.4738" stop-color="#00a8af"/><stop offset="0.4861" stop-color="#00aaa8"/><stop offset="0.5139" stop-color="#00aa9d"/><stop offset="0.5509" stop-color="#00aaa0"/><stop offset="0.5787" stop-color="#00a7b3"/><stop offset="0.6127" stop-color="#009bd7"/><stop offset="0.6373" stop-color="#008add"/><stop offset="0.6497" stop-color="#0078dd"/><stop offset="0.6559" stop-color="#0041dd"/><stop offset="0.6651" stop-color="#0009dd"/><stop offset="0.6682" stop-color="#0000dd"/><stop offset="0.7083" stop-color="#0000b5"/><stop offset="0.7423" stop-color="#0300aa"/><stop offset="0.7454" stop-color="#00aa88"/><stop offset="0.7485" stop-color="#00aa88"/><stop offset="0.7515" stop-color="#0300aa"/><stop offset="0.7546" stop-color="#0d00a8"/><stop offset="0.7577" stop-color="#0d00a8"/><stop offset="0.7608" stop-color="#007ddd"/><stop offset="0.767" stop-color="#007ddd"/><stop offset="0.7701" stop-color="#0d00a8"/><stop offset="0.7731" stop-color="#008add"/><stop offset="0.7793" stop-color="#008add"/><stop offset="0.7824" stop-color="#00a353"/><stop offset="0.7855" stop-color="#00a353"/><stop offset="0.7886" stop-color="#1800a7"/><stop offset="0.7948" stop-color="#1800a7"/><stop offset="0.7978" stop-color="#00a3bf"/><stop offset="0.804" stop-color="#00a3bf"/><stop offset="0.8071" stop-color="#2300a6"/><stop offset="0.8102" stop-color="#2300a6"/><stop offset="0.8133" stop-color="#0d00a8"/><stop offset="0.8164" stop-color="#0300aa"/><stop offset="0.8194" stop-color="#0013dd"/><stop offset="0.8225" stop-color="#0013dd"/><stop offset="0.8256" stop-color="#63009e"/><stop offset="0.8287" stop-color="#7f0090"/><stop offset="0.8935" stop-color="#770088"/><stop offset="0.8966" stop-color="#700080"/><stop offset="0.9028" stop-color="#700080"/><stop offset="0.912" stop-color="#5d006b"/><stop offset="0.9182" stop-color="#5d006b"/><stop offset="0.9213" stop-color="#540060"/><stop offset="0.9275" stop-color="#540060"/><stop offset="0.9306" stop-color="#4b0055"/><stop offset="0.9367" stop-color="#4b0055"/><stop offset="0.9398" stop-color="#41004b"/><stop offset="0.946" stop-color="#41004b"/><stop offset="0.9491" stop-color="#380040"/><stop offset="0.9552" stop-color="#380040"/><stop offset="0.9583" stop-color="#2f0035"/><stop offset="0.9645" stop-color="#2f0035"/><stop offset="0.9676" stop-color="#25002b"/><stop offset="0.9738" stop-color="#25002b"/><stop offset="0.9769" stop-color="#1c0020"/><stop offset="0.983" stop-color="#1c0020"/><stop offset="0.9861" stop-color="#130015"/><stop offset="1" stop-color="#130015"/></linearGradient>
<linearGradient id="gL18"><stop offset="0" stop-color="#7d008e"/><stop offset="0.001543" stop-color="#7d008e"/><stop offset="0.00463" stop-color="#130015"/><stop offset="0.1867" stop-color="#130015"/><stop offset="0.196" stop-color="#25002b"/><stop offset="0.1991" stop-color="#41004b"/><stop offset="0.2022" stop-color="#770088"/><stop offset="0.2145" stop-color="#870098"/><stop offset="0.2176" stop-color="#63009e"/><stop offset="0.2207" stop-color="#0d00a8"/><stop offset="0.2238" stop-color="#0000bd"/><stop offset="0.2269" stop-color="#0000d1"/><stop offset="0.2299" stop-color="#0013dd"/><stop offset="0.233" stop-color="#004bdd"/><stop offset="0.2361" stop-color="#0078dd"/><stop offset="0.2485" stop-color="#0098dd"/><stop offset="0.2639" stop-color="#00a3bf"/><stop offset="0.2855" stop-color="#00aaab"/><stop offset="0.3781" stop-color="#00aa88"/><stop offset="0.3873" stop-color="#00a773"/><stop offset="0.3904" stop-color="#00a773"/><stop offset="0.3997" stop-color="#00a55d"/><stop offset="0.4028" stop-color="#00a55d"/><stop offset="0.409" stop-color="#00a248"/><stop offset="0.412" stop-color="#00a248"/><stop offset="0.4213" stop-color="#009e28"/><stop offset="0.4244" stop-color="#009e28"/><stop offset="0.4306" stop-color="#009b13"/><stop offset="0.4336" stop-color="#009b13"/><stop offset="0.4367" stop-color="#009a08"/><stop offset="0.4429" stop-color="#009a00"/><stop offset="0.517" stop-color="#00b400"/><stop offset="0.5417" stop-color="#00af00"/><stop offset="0.5571" stop-color="#00a400"/><stop offset="0.5633" stop-color="#009a00"/><stop offset="0.5664" stop-color="#009a08"/><stop offset="0.5725" stop-color="#009f33"/><stop offset="0.5787" stop-color="#00a773"/><stop offset="0.5818" stop-color="#00aa88"/><stop offset="0.6034" stop-color="#00aaab"/><stop offset="0.6188" stop-color="#009ecf"/><stop offset="0.6281" stop-color="#0098dd"/><stop offset="0.6497" stop-color="#0078dd"/><stop offset="0.6559" stop-color="#0041dd"/><stop offset="0.6651" stop-color="#0009dd"/><stop offset="0.6682" stop-color="#0000dd"/><stop offset="0.7083" stop-color="#0000b5"/><stop offset="0.7423" stop-color="#0300aa"/><stop offset="0.7454" stop-color="#00aa88"/><stop offset="0.7485" stop-color="#00aa88"/><stop offset="0.7515" stop-color="#0300aa"/><stop offset="0.7546" stop-color="#0d00a8"/><stop offset="0.7577" stop-color="#0d00a8"/><stop offset="0.7608" stop-color="#007ddd"/><stop offset="0.767" stop-color="#007ddd"/><stop offset="0.7701" stop-color="#0d00a8"/><stop offset="0.7731" stop-color="#008add"/><stop offset="0.7793" stop-color="#008add"/><stop offset="0.7824" stop-color="#00a353"/><stop offset="0.7855" stop-color="#00a353"/><stop offset="0.7886" stop-color="#1800a7"/><stop offset="0.7948" stop-color="#1800a7"/><stop offset="0.7978" stop-color="#00a3bf"/><stop offset="0.804" stop-color="#00a3bf"/><stop offset="0.8071" stop-color="#2300a6"/><stop offset="0.8102" stop-color="#2300a6"/><stop offset="0.8133" stop-color="#0d00a8"/><stop offset="0.8164" stop-color="#0300aa"/><stop offset="0.8194" stop-color="#0013dd"/><stop offset="0.8225" stop-color="#0013dd"/><stop offset="0.8256" stop-color="#63009e"/><stop offset="0.8287" stop-color="#7f0090"/><stop offset="0.8349" stop-color="#7f0090"/><stop offset="0.8935" stop-color="#770088"/><stop offset="0.8966" stop-color="#700080"/><stop offset="0.9028" stop-color="#700080"/><stop offset="0.912" stop-color="#5d006b"/><stop offset="0.9182" stop-color="#5d006b"/><stop offset="0.9213" stop-color="#540060"/><stop offset="0.9275" stop-color="#540060"/><stop offset="0.9306" stop-color="#4b0055"/><stop offset="0.9367" stop-color="#4b0055"/><stop offset="0.9398" stop-color="#41004b"/><stop offset="0.946" stop-color="#41004b"/><stop offset="0.9491" stop-color="#380040"/><stop offset="0.9552" stop-color="#380040"/><stop offset="0.9583" stop-color="#2f0035"/><stop offset="0.9645" stop-color="#2f0035"/><stop offset="0.9676" stop-color="#25002b"/><stop offset="0.9738" stop-color="#25002b"/><stop offset="0.9769" stop-color="#1c0020"/><stop offset="0.983" stop-color="#1c0020"/><stop offset="0.9861" stop-color="#130015"/><stop offset="1" stop-color="#130015"/></linearGradient>
<linearGradient id="gL19"><stop offset="0" stop-color="#7d008e"/><stop offset="0.001543" stop-color="#7d008e"/><stop offset="0.00463" stop-color="#130015"/><stop offset="0.04784" stop-color="#130015"/><stop offset="0.05093" stop-color="#1c0020"/><stop offset="0.05401" stop-color="#1c0020"/><stop offset="0.0571" stop-color="#130015"/><stop offset="0.2145" stop-color="#130015"/><stop offset="0.2176" stop-color="#1c0020"/><stop offset="0.2485" stop-color="#1c0020"/><stop offset="0.2515" stop-color="#130015"/><stop offset="0.2546" stop-color="#1c0020"/><stop offset="0.2639" stop-color="#1c0020"/><stop offset="0.2701" stop-color="#1c0020"/><stop offset="0.2731" stop-color="#130015"/><stop offset="0.2762" stop-color="#130015"/><stop offset="0.2793" stop-color="#1c0020"/><stop offset="0.2886" stop-color="#1c0020"/><stop offset="0.338" stop-color="#1c0020"/><stop offset="0.341" stop-color="#130015"/><stop offset="0.3472" stop-color="#130015"/><stop offset="0.3503" stop-color="#130015"/><stop offset="0.3534" stop-color="#1c0020"/><stop offset="0.4738" stop-color="#1c0020"/><stop offset="0.4769" stop-color="#130015"/><stop offset="0.4861" stop-color="#130015"/><stop offset="0.4892" stop-color="#1c0020"/><stop offset="0.5231" stop-color="#1c0020"/><stop offset="0.5262" stop-color="#130015"/><stop offset="0.5293" stop-color="#130015"/><stop offset="0.5324" stop-color="#1c0020"/><stop offset="0.5664" stop-color="#1c0020"/><stop offset="0.5694" stop-color="#130015"/><stop offset="0.5725" stop-color="#130015"/><stop offset="0.5756" stop-color="#1c0020"/><stop offset="0.6219" stop-color="#1c0020"/><stop offset="0.625" stop-color="#130015"/><stop offset="0.6281" stop-color="#130015"/><stop offset="0.6312" stop-color="#1c0020"/><stop offset="0.6466" stop-color="#1c0020"/><stop offset="0.6497" stop-color="#130015"/><stop offset="0.6528" stop-color="#130015"/><stop offset="0.6559" stop-color="#1c0020"/><stop offset="0.659" stop-color="#1c0020"/><stop offset="0.662" stop-color="#130015"/><stop offset="0.6651" stop-color="#130015"/><stop offset="0.6682" stop-color="#1c0020"/><stop offset="0.6898" stop-color="#1c0020"/><stop offset="0.6929" stop-color="#130015"/><stop offset="0.696" stop-color="#130015"/><stop offset="0.6991" stop-color="#1c0020"/><stop offset="0.8071" stop-color="#1c0020"/><stop offset="0.8102" stop-color="#130015"/><stop offset="0.8133" stop-color="#130015"/><stop offset="0.8164" stop-color="#1c0020"/><stop offset="0.8441" stop-color="#1c0020"/><stop offset="0.8472" stop-color="#130015"/><stop offset="0.8503" stop-color="#130015"/><stop offset="0.8534" stop-color="#1c0020"/><stop offset="0.8812" stop-color="#1c0020"/><stop offset="0.8843" stop-color="#130015"/><stop offset="0.8873" stop-color="#130015"/><stop offset="0.8904" stop-color="#1c0020"/><stop offset="0.9059" stop-color="#1c0020"/><stop offset="0.909" stop-color="#130015"/><stop offset="0.912" stop-color="#130015"/><stop offset="0.9182" stop-color="#130015"/><stop offset="0.9213" stop-color="#1c0020"/><stop offset="0.9429" stop-color="#1c0020"/><stop offset="0.946" stop-color="#130015"/><stop offset="0.9491" stop-color="#130015"/><stop offset="0.9522" stop-color="#1c0020"/><stop offset="0.9676" stop-color="#1c0020"/><stop offset="0.9707" stop-color="#130015"/><stop offset="0.9799" stop-color="#130015"/><stop offset="0.983" stop-color="#1c0020"/><stop offset="0.9861" stop-color="#1c0020"/><stop offset="0.9892" stop-color="#130015"/><stop offset="0.9923" stop-color="#130015"/><stop offset="0.9954" stop-color="#1c0020"/><stop offset="1" stop-color="#1c0020"/></linearGradient>
<linearGradient id="gL20"><stop offset="0" stop-color="#7d008e"/><stop offset="0.001543" stop-color="#7d008e"/><stop offset="0.00463" stop-color="#130015"/><stop offset="0.0108" stop-color="#130015"/><stop offset="0.01389" stop-color="#1c0020"/><stop offset="0.03549" stop-color="#1c0020"/><stop offset="0.03858" stop-color="#130015"/><stop offset="0.04167" stop-color="#130015"/><stop offset="0.05093" stop-color="#25002b"/><stop offset="0.06636" stop-color="#25002b"/><stop offset="0.06944" stop-color="#130015"/><stop offset="0.07253" stop-color="#130015"/><stop offset="0.07562" stop-color="#25002b"/><stop offset="0.08488" stop-color="#25002b"/><stop offset="0.08796" stop-color="#130015"/><stop offset="0.09105" stop-color="#130015"/><stop offset="0.09414" stop-color="#1c0020"/><stop offset="0.09722" stop-color="#1c0020"/><stop offset="0.1003" stop-color="#130015"/><stop offset="0.1096" stop-color="#130015"/><stop offset="0.1127" stop-color="#1c0020"/><stop offset="0.1157" stop-color="#1c0020"/><stop offset="0.1188" stop-color="#130015"/><stop offset="0.1219" stop-color="#130015"/><stop offset="0.125" stop-color="#25002b"/><stop offset="0.1343" stop-color="#25002b"/><stop offset="0.1373" stop-color="#1c0020"/><stop offset="0.1466" stop-color="#1c0020"/><stop offset="0.1497" stop-color="#130015"/><stop offset="0.159" stop-color="#130015"/><stop offset="0.162" stop-color="#1c0020"/><stop offset="0.1775" stop-color="#1c0020"/><stop offset="0.1806" stop-color="#25002b"/><stop offset="0.1836" stop-color="#380040"/><stop offset="0.1867" stop-color="#41004b"/><stop offset="0.1898" stop-color="#79008a"/><stop offset="0.196" stop-color="#870098"/><stop offset="0.1991" stop-color="#58009f"/><stop offset="0.2022" stop-color="#0000dd"/><stop offset="0.2052" stop-color="#0098dd"/><stop offset="0.2083" stop-color="#00aa98"/><stop offset="0.2114" stop-color="#009a00"/><stop offset="0.2176" stop-color="#00ea00"/><stop offset="0.2238" stop-color="#00fc00"/><stop offset="0.2269" stop-color="#1dff00"/><stop offset="0.2299" stop-color="#49ff00"/><stop offset="0.233" stop-color="#58ff00"/><stop offset="0.2423" stop-color="#58ff00"/><stop offset="0.2454" stop-color="#67ff00"/><stop offset="0.2515" stop-color="#67ff00"/><stop offset="0.2546" stop-color="#75ff00"/><stop offset="0.2639" stop-color="#75ff00"/><stop offset="0.267" stop-color="#84ff00"/><stop offset="0.2731" stop-color="#84ff00"/><stop offset="0.2762" stop-color="#93ff00"/><stop offset="0.2793" stop-color="#93ff00"/><stop offset="0.2824" stop-color="#a1ff00"/><stop offset="0.2886" stop-color="#a1ff00"/><stop offset="0.2917" stop-color="#b0ff00"/><stop offset="0.2948" stop-color="#a1ff00"/><stop offset="0.2978" stop-color="#a1ff00"/><stop offset="0.3009" stop-color="#93ff00"/><stop offset="0.304" stop-color="#93ff00"/><stop offset="0.3071" stop-color="#84ff00"/><stop offset="0.3102" stop-color="#84ff00"/><stop offset="0.3133" stop-color="#75ff00"/><stop offset="0.3164" stop-color="#75ff00"/><stop offset="0.3194" stop-color="#67ff00"/><stop offset="0.3318" stop-color="#67ff00"/><stop offset="0.3349" stop-color="#75ff00"/><stop offset="0.341" stop-color="#75ff00"/><stop offset="0.3441" stop-color="#84ff00"/><stop offset="0.3472" stop-color="#84ff00"/><stop offset="0.3503" stop-color="#93ff00"/><stop offset="0.3565" stop-color="#93ff00"/><stop offset="0.3596" stop-color="#84ff00"/><stop offset="0.3627" stop-color="#84ff00"/><stop offset="0.3781" stop-color="#3bff00"/><stop offset="0.3812" stop-color="#3bff00"/><stop offset="0.3843" stop-color="#2cff00"/><stop offset="0.3966" stop-color="#2cff00"/><stop offset="0.3997" stop-color="#1dff00"/><stop offset="0.4213" stop-color="#1dff00"/><stop offset="0.4244" stop-color="#0fff00"/><stop offset="0.4522" stop-color="#0fff00"/><stop offset="0.4552" stop-color="#00ff00"/><stop offset="0.5478" stop-color="#00ff00"/><stop offset="0.5602" stop-color="#00f400"/><stop offset="0.5756" stop-color="#00dc00"/><stop offset="0.6219" stop-color="#00ca00"/><stop offset="0.6343" stop-color="#00a700"/><stop offset="0.6404" stop-color="#009c00"/><stop offset="0.6435" stop-color="#009a08"/><stop offset="0.662" stop-color="#00aa88"/><stop offset="0.6929" stop-color="#00aaab"/><stop offset="0.7114" stop-color="#009ecf"/><stop offset="0.7238" stop-color="#0098dd"/><stop offset="0.7423" stop-color="#0088dd"/><stop offset="0.7454" stop-color="#00aaa3"/><stop offset="0.7485" stop-color="#00aaa3"/><stop offset="0.7515" stop-color="#0080dd"/><stop offset="0.7577" stop-color="#007ddd"/><stop offset="0.7608" stop-color="#0098dd"/><stop offset="0.767" stop-color="#0098dd"/><stop offset="0.7701" stop-color="#0078dd"/><stop offset="0.7731" stop-color="#009cd3"/><stop offset="0.7793" stop-color="#009cd3"/><stop offset="0.7824" stop-color="#00aa9d"/><stop offset="0.7855" stop-color="#00aa9d"/><stop offset="0.7886" stop-color="#0054dd"/><stop offset="0.7917" stop-color="#004bdd"/><stop offset="0.7948" stop-color="#004bdd"/><stop offset="0.7978" stop-color="#00a3bf"/><stop offset="0.804" stop-color="#00a3bf"/><stop offset="0.8071" stop-color="#002fdd"/><stop offset="0.8164" stop-color="#0025dd"/><stop offset="0.8194" stop-color="#005ddd"/><stop offset="0.8225" stop-color="#005ddd"/><stop offset="0.8256" stop-color="#0013dd"/><stop offset="0.8318" stop-color="#0000dd"/><stop offset="0.8904" stop-color="#0000ad"/><stop offset="0.8935" stop-color="#0300aa"/><stop offset="0.9306" stop-color="#83009a"/><stop offset="0.9336" stop-color="#870098"/><stop offset="0.9429" stop-color="#850096"/><stop offset="0.9522" stop-color="#7a008b"/><stop offset="0.9707" stop-color="#41004b"/><stop offset="0.9738" stop-color="#41004b"/><stop offset="0.9799" stop-color="#2f0035"/><stop offset="0.983" stop-color="#2f0035"/><stop offset="0.9923" stop-color="#1c0020"/><stop offset="1" stop-color="#1c0020"/></linearGradient>
<linearGradient id="gL21"><stop offset="0" stop-color="#7d008e"/><stop offset="0.001543" stop-color="#7d008e"/><stop offset="0.00463" stop-color="#130015"/><stop offset="0.1775" stop-color="#130015"/><stop offset="0.1836" stop-color="#380040"/><stop offset="0.1867" stop-color="#41004b"/><stop offset="0.1898" stop-color="#79008a"/><stop offset="0.196" stop-color="#870098"/><stop offset="0.1991" stop-color="#58009f"/><stop offset="0.2022" stop-color="#0000dd"/><stop offset="0.2052" stop-color="#0098dd"/><stop offset="0.2083" stop-color="#00aa98"/><stop offset="0.2114" stop-color="#009a00"/><stop offset="0.2176" stop-color="#00ea00"/><stop offset="0.2238" stop-color="#00fc00"/><stop offset="0.2269" stop-color="#1dff00"/><stop offset="0.2299" stop-color="#49ff00"/><stop offset="0.233" stop-color="#58ff00"/><stop offset="0.2392" stop-color="#58ff00"/><stop offset="0.2423" stop-color="#67ff00"/><stop offset="0.2454" stop-color="#67ff00"/><stop offset="0.2485" stop-color="#75ff00"/><stop offset="0.2546" stop-color="#75ff00"/><stop offset="0.2577" stop-color="#84ff00"/><stop offset="0.2608" stop-color="#84ff00"/><stop offset="0.2639" stop-color="#93ff00"/><stop offset="0.267" stop-color="#93ff00"/><stop offset="0.2701" stop-color="#a1ff00"/><stop offset="0.2731" stop-color="#a1ff00"/><stop offset="0.2762" stop-color="#b0ff00"/><stop offset="0.2793" stop-color="#b0ff00"/><stop offset="0.2824" stop-color="#bcff00"/><stop offset="0.2948" stop-color="#c0fd00"/><stop offset="0.3071" stop-color="#b0ff00"/><stop offset="0.3102" stop-color="#a1ff00"/><stop offset="0.3133" stop-color="#a1ff00"/><stop offset="0.3164" stop-color="#93ff00"/><stop offset="0.3225" stop-color="#93ff00"/><stop offset="0.3256" stop-color="#84ff00"/><stop offset="0.3349" stop-color="#84ff00"/><stop offset="0.338" stop-color="#93ff00"/><stop offset="0.3565" stop-color="#93ff00"/><stop offset="0.3596" stop-color="#84ff00"/><stop offset="0.3627" stop-color="#84ff00"/><stop offset="0.3781" stop-color="#3bff00"/><stop offset="0.3812" stop-color="#3bff00"/><stop offset="0.3843" stop-color="#2cff00"/><stop offset="0.3966" stop-color="#2cff00"/><stop offset="0.3997" stop-color="#1dff00"/><stop offset="0.4213" stop-color="#1dff00"/><stop offset="0.4244" stop-color="#0fff00"/><stop offset="0.4522" stop-color="#0fff00"/><stop offset="0.4552" stop-color="#00ff00"/><stop offset="0.5478" stop-color="#00ff00"/><stop offset="0.5602" stop-color="#00f400"/><stop offset="0.5756" stop-color="#00dc00"/><stop offset="0.6219" stop-color="#00ca00"/><stop offset="0.6343" stop-color="#00a700"/><stop offset="0.6404" stop-color="#009c00"/><stop offset="0.6435" stop-color="#009a08"/><stop offset="0.662" stop-color="#00aa88"/><stop offset="0.6929" stop-color="#00aaab"/><stop offset="0.7114" stop-color="#009ecf"/><stop offset="0.7238" stop-color="#0098dd"/><stop offset="0.7423" stop-color="#0088dd"/><stop offset="0.7454" stop-color="#00aaa3"/><stop offset="0.7485" stop-color="#00aaa3"/><stop offset="0.7515" stop-color="#0080dd"/><stop offset="0.7577" stop-color="#007ddd"/><stop offset="0.7608" stop-color="#0098dd"/><stop offset="0.767" stop-color="#0098dd"/><stop offset="0.7701" stop-color="#0078dd"/><stop offset="0.7731" stop-color="#009cd3"/><stop offset="0.7793" stop-color="#009cd3"/><stop offset="0.7824" stop-color="#00aa9d"/><stop offset="0.7855" stop-color="#00aa9d"/><stop offset="0.7886" stop-color="#0054dd"/><stop offset="0.7917" stop-color="#004bdd"/><stop offset="0.7948" stop-color="#004bdd"/><stop offset="0.7978" stop-color="#00a3bf"/><stop offset="0.804" stop-color="#00a3bf"/><stop offset="0.8071" stop-color="#002fdd"/><stop offset="0.8164" stop-color="#0025dd"/><stop offset="0.8194" stop-color="#005ddd"/><stop offset="0.8225" stop-color="#005ddd"/><stop offset="0.8256" stop-color="#0013dd"/><stop offset="0.8318" stop-color="#0000dd"/><stop offset="0.8904" stop-color="#0000ad"/><stop offset="0.8935" stop-color="#0300aa"/><stop offset="0.9306" stop-color="#83009a"/><stop offset="0.9336" stop-color="#870098"/><stop offset="0.9429" stop-color="#850096"/><stop offset="0.9522" stop-color="#7a008b"/><stop offset="0.9707" stop-color="#41004b"/><stop offset="0.9738" stop-color="#41004b"/><stop offset="0.9799" stop-color="#2f0035"/><stop offset="0.983" stop-color="#2f0035"/><stop offset="0.9923" stop-color="#1c0020"/><stop offset="1" stop-color="#1c0020"/></linearGradient>
<linearGradient id="gR0"><stop offset="0" stop-color="#7d008e"/><stop offset="0.001543" stop-color="#7d008e"/><stop offset="0.00463" stop-color="#130015"/><stop offset="0.1806" stop-color="#130015"/><stop offset="0.1867" stop-color="#380040"/><stop offset="0.1898" stop-color="#41004b"/><stop offset="0.1929" stop-color="#79008a"/><stop offset="0.1991" stop-color="#870098"/><stop offset="0.2022" stop-color="#58009f"/><stop offset="0.2052" stop-color="#0000dd"/><stop offset="0.2083" stop-color="#0078dd"/><stop offset="0.2114" stop-color="#0098dd"/><stop offset="0.2145" stop-color="#00aa98"/><stop offset="0.2176" stop-color="#009a00"/><stop offset="0.2238" stop-color="#00dc00"/><stop offset="0.2485" stop-color="#00ea00"/><stop offset="0.2948" stop-color="#00ef00"/><stop offset="0.5262" stop-color="#00d700"/><stop offset="0.5571" stop-color="#00ca00"/><stop offset="0.5787" stop-color="#009f00"/><stop offset="0.5818" stop-color="#009b13"/><stop offset="0.588" stop-color="#00a353"/><stop offset="0.5941" stop-color="#00a97d"/><stop offset="0.5972" stop-color="#00aa8b"/><stop offset="0.6157" stop-color="#00aaa8"/><stop offset="0.6343" stop-color="#009ecf"/><stop offset="0.6466" stop-color="#0095dd"/><stop offset="0.6775" stop-color="#0078dd"/><stop offset="0.6806" stop-color="#0067dd"/><stop offset="0.6867" stop-color="#0054dd"/><stop offset="0.6898" stop-color="#0041dd"/><stop offset="0.7052" stop-color="#0013dd"/><stop offset="0.7083" stop-color="#0000dd"/><stop offset="0.7423" stop-color="#0000b1"/><stop offset="0.7454" stop-color="#0098dd"/><stop offset="0.7485" stop-color="#0098dd"/><stop offset="0.7515" stop-color="#0000b1"/><stop offset="0.7577" stop-color="#0000b1"/><stop offset="0.7608" stop-color="#0085dd"/><stop offset="0.767" stop-color="#0085dd"/><stop offset="0.7701" stop-color="#0000ad"/><stop offset="0.7731" stop-color="#0085dd"/><stop offset="0.7793" stop-color="#0085dd"/><stop offset="0.7824" stop-color="#0098dd"/><stop offset="0.7855" stop-color="#0098dd"/><stop offset="0.7886" stop-color="#0000ad"/><stop offset="0.7948" stop-color="#0300aa"/><stop offset="0.7978" stop-color="#008add"/><stop offset="0.804" stop-color="#008add"/><stop offset="0.8071" stop-color="#0300aa"/><stop offset="0.8164" stop-color="#0d00a8"/><stop offset="0.8194" stop-color="#002fdd"/><stop offset="0.8225" stop-color="#002fdd"/><stop offset="0.8256" stop-color="#58009f"/><stop offset="0.8287" stop-color="#870098"/><stop offset="0.9275" stop-color="#870098"/><stop offset="0.9552" stop-color="#770088"/><stop offset="0.9738" stop-color="#41004b"/><stop offset="0.9769" stop-color="#41004b"/><stop offset="0.983" stop-color="#2f0035"/><stop offset="0.9861" stop-color="#2f0035"/><stop offset="0.9954" stop-color="#1c0020"/><stop offset="1" stop-color="#1c0020"/></linearGradient>
<linearGradient id="gR1"><stop offset="0" stop-color="#7d008e"/><stop offset="0.001543" stop-color="#7d008e"/><stop offset="0.00463" stop-color="#130015"/><stop offset="0.1806" stop-color="#130015"/><stop offset="0.1867" stop-color="#380040"/><stop offset="0.1898" stop-color="#41004b"/><stop offset="0.1929" stop-color="#79008a"/><stop offset="0.1991" stop-color="#870098"/><stop offset="0.2022" stop-color="#58009f"/><stop offset="0.2052" stop-color="#0000dd"/><stop offset="0.2083" stop-color="#0078dd"/><stop offset="0.2114" stop-color="#0098dd"/><stop offset="0.2145" stop-color="#00aa98"/><stop offset="0.2176" stop-color="#009a00"/><stop offset="0.2238" stop-color="#00dc00"/><stop offset="0.2515" stop-color="#00e700"/><stop offset="0.3009" stop-color="#00ec00"/><stop offset="0.3904" stop-color="#00df00"/><stop offset="0.4645" stop-color="#00df00"/><stop offset="0.5262" stop-color="#00d700"/><stop offset="0.5571" stop-color="#00ca00"/><stop offset="0.5787" stop-color="#009f00"/><stop offset="0.5818" stop-color="#009b13"/><stop offset="0.588" stop-color="#00a353"/><stop offset="0.5941" stop-color="#00a97d"/><stop offset="0.5972" stop-color="#00aa8b"/><stop offset="0.6157" stop-color="#00aaa8"/><stop offset="0.6343" stop-color="#009ecf"/><stop offset="0.6466" stop-color="#0095dd"/><stop offset="0.6775" stop-color="#0078dd"/><stop offset="0.6806" stop-color="#0067dd"/><stop offset="0.6867" stop-color="#0054dd"/><stop offset="0.6898" stop-color="#0041dd"/><stop offset="0.7052" stop-color="#0013dd"/><stop offset="0.7083" stop-color="#0000dd"/><stop offset="0.7423" stop-color="#0000b1"/><stop offset="0.7454" stop-color="#0098dd"/><stop offset="0.7485" stop-color="#0098dd"/><stop offset="0.7515" stop-color="#0000b1"/><stop offset="0.7577" stop-color="#0000b1"/><stop offset="0.7608" stop-color="#0085dd"/><stop offset="0.767" stop-color="#0085dd"/><stop offset="0.7701" stop-color="#0000ad"/><stop offset="0.7731" stop-color="#0085dd"/><stop offset="0.7793" stop-color="#0085dd"/><stop offset="0.7824" stop-color="#0098dd"/><stop offset="0.7855" stop-color="#0098dd"/><stop offset="0.7886" stop-color="#0000ad"/><stop offset="0.7948" stop-color="#0300aa"/><stop offset="0.7978" stop-color="#008add"/><stop offset="0.804" stop-color="#008add"/><stop offset="0.8071" stop-color="#0300aa"/><stop offset="0.8164" stop-color="#0d00a8"/><stop offset="0.8194" stop-color="#002fdd"/><stop offset="0.8225" stop-color="#002fdd"/><stop offset="0.8256" stop-color="#58009f"/><stop offset="0.8287" stop-color="#870098"/><stop offset="0.9275" stop-color="#870098"/><stop offset="0.9552" stop-color="#770088"/><stop offset="0.9738" stop-color="#41004b"/><stop offset="0.9769" stop-color="#41004b"/><stop offset="0.983" stop-color="#2f0035"/><stop offset="0.9861" stop-color="#2f0035"/><stop offset="0.9954" stop-color="#1c0020"/><stop offset="1" stop-color="#1c0020"/></linearGradient>
<linearGradient id="gR2"><stop offset="0" stop-color="#7d008e"/><stop offset="0.001543" stop-color="#7d008e"/><stop offset="0.00463" stop-color="#000000"/><stop offset="0.2207" stop-color="#000000"/><stop offset="0.2238" stop-color="#09000b"/><stop offset="0.4799" stop-color="#09000b"/><stop offset="0.483" stop-color="#000000"/><stop offset="0.4861" stop-color="#000000"/><stop offset="0.4892" stop-color="#09000b"/><stop offset="0.6466" stop-color="#09000b"/><stop offset="0.6497" stop-color="#000000"/><stop offset="0.6528" stop-color="#000000"/><stop offset="0.6559" stop-color="#09000b"/><stop offset="0.659" stop-color="#09000b"/><stop offset="0.662" stop-color="#000000"/><stop offset="0.6651" stop-color="#000000"/><stop offset="0.6682" stop-color="#09000b"/><stop offset="0.8071" stop-color="#09000b"/><stop offset="0.8102" stop-color="#000000"/><stop offset="0.8133" stop-color="#000000"/><stop offset="0.8164" stop-color="#09000b"/><stop offset="0.9059" stop-color="#09000b"/><stop offset="0.909" stop-color="#000000"/><stop offset="0.9182" stop-color="#000000"/><stop offset="0.9213" stop-color="#09000b"/><stop offset="0.9429" stop-color="#09000b"/><stop offset="0.946" stop-color="#000000"/><stop offset="0.9491" stop-color="#000000"/><stop offset="0.9522" stop-color="#09000b"/><stop offset="0.9676" stop-color="#09000b"/><stop offset="0.9707" stop-color="#000000"/><stop offset="0.9738" stop-color="#000000"/><stop offset="0.9769" stop-color="#09000b"/><stop offset="0.9861" stop-color="#09000b"/><stop offset="0.9892" stop-color="#000000"/><stop offset="0.9923" stop-color="#000000"/><stop offset="0.9954" stop-color="#09000b"/><stop offset="1" stop-color="#09000b"/></linearGradient>
<linearGradient id="gR3"><stop offset="0" stop-color="#7d008e"/><stop offset="0.001543" stop-color="#7d008e"/><stop offset="0.00463" stop-color="#130015"/><stop offset="0.1898" stop-color="#130015"/><stop offset="0.196" stop-color="#25002b"/><stop offset="0.1991" stop-color="#380040"/><stop offset="0.2022" stop-color="#41004b"/><stop offset="0.2052" stop-color="#700080"/><stop offset="0.2083" stop-color="#7d008e"/><stop offset="0.2176" stop-color="#860097"/><stop offset="0.2207" stop-color="#63009e"/><stop offset="0.2238" stop-color="#0d00a8"/><stop offset="0.2269" stop-color="#0000bd"/><stop offset="0.2299" stop-color="#0000d1"/><stop offset="0.233" stop-color="#0009dd"/><stop offset="0.2454" stop-color="#0078dd"/><stop offset="0.267" stop-color="#0088dd"/><stop offset="0.3781" stop-color="#0098dd"/><stop offset="0.4059" stop-color="#009ecf"/><stop offset="0.4552" stop-color="#00aaa8"/><stop offset="0.4892" stop-color="#00aaa0"/><stop offset="0.5355" stop-color="#00aaa5"/><stop offset="0.5509" stop-color="#00aaab"/><stop offset="0.5849" stop-color="#009bd7"/><stop offset="0.588" stop-color="#0098dd"/><stop offset="0.6096" stop-color="#0078dd"/><stop offset="0.6219" stop-color="#002fdd"/><stop offset="0.6373" stop-color="#0000dd"/><stop offset="0.6806" stop-color="#0000b9"/><stop offset="0.6898" stop-color="#0300aa"/><stop offset="0.6929" stop-color="#0d00a8"/><stop offset="0.696" stop-color="#2300a6"/><stop offset="0.7052" stop-color="#2d00a4"/><stop offset="0.7083" stop-color="#3800a3"/><stop offset="0.7114" stop-color="#3800a3"/><stop offset="0.7207" stop-color="#4d00a0"/><stop offset="0.7269" stop-color="#4d00a0"/><stop offset="0.7299" stop-color="#58009f"/><stop offset="0.7361" stop-color="#58009f"/><stop offset="0.7392" stop-color="#63009e"/><stop offset="0.7423" stop-color="#63009e"/><stop offset="0.7454" stop-color="#009fcb"/><stop offset="0.7485" stop-color="#009fcb"/><stop offset="0.7515" stop-color="#63009e"/><stop offset="0.7577" stop-color="#63009e"/><stop offset="0.7608" stop-color="#008add"/><stop offset="0.767" stop-color="#008add"/><stop offset="0.7701" stop-color="#0000dd"/><stop offset="0.7731" stop-color="#0092dd"/><stop offset="0.7793" stop-color="#0092dd"/><stop offset="0.7824" stop-color="#00a7b3"/><stop offset="0.7855" stop-color="#00a7b3"/><stop offset="0.7886" stop-color="#0000d1"/><stop offset="0.7948" stop-color="#0000d1"/><stop offset="0.7978" stop-color="#0098dd"/><stop offset="0.804" stop-color="#0098dd"/><stop offset="0.8071" stop-color="#0000c9"/><stop offset="0.8164" stop-color="#0000c9"/><stop offset="0.8194" stop-color="#0013dd"/><stop offset="0.8225" stop-color="#0013dd"/><stop offset="0.8256" stop-color="#810092"/><stop offset="0.8287" stop-color="#79008a"/><stop offset="0.8503" stop-color="#770088"/><stop offset="0.8534" stop-color="#700080"/><stop offset="0.8657" stop-color="#700080"/><stop offset="0.8688" stop-color="#670075"/><stop offset="0.875" stop-color="#670075"/><stop offset="0.8781" stop-color="#5d006b"/><stop offset="0.8873" stop-color="#5d006b"/><stop offset="0.8904" stop-color="#540060"/><stop offset="0.8966" stop-color="#540060"/><stop offset="0.8997" stop-color="#4b0055"/><stop offset="0.909" stop-color="#4b0055"/><stop offset="0.912" stop-color="#41004b"/><stop offset="0.9182" stop-color="#41004b"/><stop offset="0.9213" stop-color="#380040"/><stop offset="0.9306" stop-color="#380040"/><stop offset="0.9336" stop-color="#2f0035"/><stop offset="0.9429" stop-color="#2f0035"/><stop offset="0.946" stop-color="#25002b"/><stop offset="0.9552" stop-color="#25002b"/><stop offset="0.9583" stop-color="#1c0020"/><stop offset="0.9799" stop-color="#1c0020"/><stop offset="0.983" stop-color="#130015"/><stop offset="1" stop-color="#130015"/></linearGradient>
<linearGradient id="gR4"><stop offset="0" stop-color="#7d008e"/><stop offset="0.001543" stop-color="#7d008e"/><stop offset="0.00463" stop-color="#130015"/><stop offset="0.1898" stop-color="#130015"/><stop offset="0.196" stop-color="#25002b"/><stop offset="0.1991" stop-color="#380040"/><stop offset="0.2022" stop-color="#41004b"/><stop offset="0.2052" stop-color="#700080"/><stop offset="0.2083" stop-color="#7d008e"/><stop offset="0.2176" stop-color="#860097"/><stop offset="0.2207" stop-color="#63009e"/><stop offset="0.2238" stop-color="#0d00a8"/><stop offset="0.2269" stop-color="#0000bd"/><stop offset="0.2299" stop-color="#0000d1"/><stop offset="0.233" stop-color="#0009dd"/><stop offset="0.2454" stop-color="#0078dd"/><stop offset="0.267" stop-color="#0080dd"/><stop offset="0.3441" stop-color="#0088dd"/><stop offset="0.3935" stop-color="#0098dd"/><stop offset="0.4676" stop-color="#00aaa8"/><stop offset="0.4985" stop-color="#00aaa3"/><stop offset="0.5324" stop-color="#00aaa8"/><stop offset="0.5509" stop-color="#00a7b3"/><stop offset="0.5849" stop-color="#0095dd"/><stop offset="0.6065" stop-color="#007add"/><stop offset="0.6127" stop-color="#0067dd"/><stop offset="0.625" stop-color="#001cdd"/><stop offset="0.6343" stop-color="#0000dd"/><stop offset="0.6867" stop-color="#0000ad"/><stop offset="0.6991" stop-color="#2d00a4"/><stop offset="0.7022" stop-color="#2d00a4"/><stop offset="0.7052" stop-color="#3800a3"/><stop offset="0.7083" stop-color="#3800a3"/><stop offset="0.7176" stop-color="#4d00a0"/><stop offset="0.7207" stop-color="#4d00a0"/><stop offset="0.7238" stop-color="#58009f"/><stop offset="0.733" stop-color="#58009f"/><stop offset="0.7361" stop-color="#63009e"/><stop offset="0.7423" stop-color="#63009e"/><stop offset="0.7454" stop-color="#009fcb"/><stop offset="0.7485" stop-color="#009fcb"/><stop offset="0.7515" stop-color="#63009e"/><stop offset="0.7577" stop-color="#63009e"/><stop offset="0.7608" stop-color="#008add"/><stop offset="0.767" stop-color="#008add"/><stop offset="0.7701" stop-color="#0000dd"/><stop offset="0.7731" stop-color="#0092dd"/><stop offset="0.7793" stop-color="#0092dd"/><stop offset="0.7824" stop-color="#00a7b3"/><stop offset="0.7855" stop-color="#00a7b3"/><stop offset="0.7886" stop-color="#0000d1"/><stop offset="0.7948" stop-color="#0000d1"/><stop offset="0.7978" stop-color="#0098dd"/><stop offset="0.804" stop-color="#0098dd"/><stop offset="0.8071" stop-color="#0000c9"/><stop offset="0.8164" stop-color="#0000c9"/><stop offset="0.8194" stop-color="#0013dd"/><stop offset="0.8225" stop-color="#0013dd"/><stop offset="0.8256" stop-color="#7f0090"/><stop offset="0.8287" stop-color="#79008a"/><stop offset="0.8472" stop-color="#770088"/><stop offset="0.8503" stop-color="#700080"/><stop offset="0.8627" stop-color="#700080"/><stop offset="0.8657" stop-color="#670075"/><stop offset="0.875" stop-color="#670075"/><stop offset="0.8781" stop-color="#5d006b"/><stop offset="0.8843" stop-color="#5d006b"/><stop offset="0.8873" stop-color="#540060"/><stop offset="0.8966" stop-color="#540060"/><stop offset="0.8997" stop-color="#4b0055"/><stop offset="0.9059" stop-color="#4b0055"/><stop offset="0.909" stop-color="#41004b"/><stop offset="0.9182" stop-color="#41004b"/><stop offset="0.9213" stop-color="#380040"/><stop offset="0.9306" stop-color="#380040"/><stop offset="0.9336" stop-color="#2f0035"/><stop offset="0.9429" stop-color="#2f0035"/><stop offset="0.946" stop-color="#25002b"/><stop offset="0.9552" stop-color="#25002b"/><stop offset="0.9583" stop-color="#1c0020"/><stop offset="0.9769" stop-color="#1c0020"/><stop offset="0.9799" stop-color="#130015"/><stop offset="1" stop-color="#130015"/></linearGradient>
<linearGradient id="gR5"><stop offset="0" stop-color="#7d008e"/><stop offset="0.001543" stop-color="#7d008e"/><stop offset="0.00463" stop-color="#130015"/><stop offset="0.1898" stop-color="#130015"/><stop offset="0.196" stop-color="#25002b"/><stop offset="0.1991" stop-color="#380040"/><stop offset="0.2022" stop-color="#41004b"/><stop offset="0.2052" stop-color="#700080"/><stop offset="0.2083" stop-color="#7d008e"/><stop offset="0.2176" stop-color="#860097"/><stop offset="0.2207" stop-color="#63009e"/><stop offset="0.2238" stop-color="#0d00a8"/><stop offset="0.2269" stop-color="#0000bd"/><stop offset="0.2299" stop-color="#0000d1"/><stop offset="0.233" stop-color="#0009dd"/><stop offset="0.2361" stop-color="#0013dd"/><stop offset="0.2423" stop-color="#0038dd"/><stop offset="0.2454" stop-color="#0041dd"/><stop offset="0.2701" stop-color="#0041dd"/><stop offset="0.2731" stop-color="#004bdd"/><stop offset="0.304" stop-color="#004bdd"/><stop offset="0.3071" stop-color="#0054dd"/><stop offset="0.3225" stop-color="#0054dd"/><stop offset="0.3256" stop-color="#005ddd"/><stop offset="0.3349" stop-color="#005ddd"/><stop offset="0.338" stop-color="#0067dd"/><stop offset="0.3472" stop-color="#0067dd"/><stop offset="0.3503" stop-color="#0070dd"/><stop offset="0.3565" stop-color="#0070dd"/><stop offset="0.3596" stop-color="#0078dd"/><stop offset="0.4336" stop-color="#0098dd"/><stop offset="0.4522" stop-color="#009fcb"/><stop offset="0.483" stop-color="#00a4bb"/><stop offset="0.5139" stop-color="#00a4bb"/><stop offset="0.5478" stop-color="#009fcb"/><stop offset="0.5633" stop-color="#0098dd"/><stop offset="0.5818" stop-color="#0085dd"/><stop offset="0.591" stop-color="#0078dd"/><stop offset="0.5972" stop-color="#0054dd"/><stop offset="0.6127" stop-color="#0054dd"/><stop offset="0.6157" stop-color="#0038dd"/><stop offset="0.625" stop-color="#0000d9"/><stop offset="0.6806" stop-color="#0000ad"/><stop offset="0.6991" stop-color="#4300a2"/><stop offset="0.7083" stop-color="#4d00a0"/><stop offset="0.7176" stop-color="#63009e"/><stop offset="0.7238" stop-color="#63009e"/><stop offset="0.7269" stop-color="#6d009c"/><stop offset="0.733" stop-color="#6d009c"/><stop offset="0.7361" stop-color="#78009b"/><stop offset="0.7423" stop-color="#78009b"/><stop offset="0.7454" stop-color="#009fcb"/><stop offset="0.7485" stop-color="#009fcb"/><stop offset="0.7515" stop-color="#78009b"/><stop offset="0.7577" stop-color="#78009b"/><stop offset="0.7608" stop-color="#008add"/><stop offset="0.767" stop-color="#008add"/><stop offset="0.7701" stop-color="#0000dd"/><stop offset="0.7731" stop-color="#0092dd"/><stop offset="0.7793" stop-color="#0092dd"/><stop offset="0.7824" stop-color="#00a7b3"/><stop offset="0.7855" stop-color="#00a7b3"/><stop offset="0.7886" stop-color="#0000d1"/><stop offset="0.7948" stop-color="#0000d1"/><stop offset="0.7978" stop-color="#0098dd"/><stop offset="0.804" stop-color="#0098dd"/><stop offset="0.8071" stop-color="#0000c9"/><stop offset="0.8164" stop-color="#0000c9"/><stop offset="0.8194" stop-color="#0013dd"/><stop offset="0.8225" stop-color="#0013dd"/><stop offset="0.8256" stop-color="#7e008f"/><stop offset="0.8287" stop-color="#770088"/><stop offset="0.838" stop-color="#770088"/><stop offset="0.841" stop-color="#700080"/><stop offset="0.8503" stop-color="#700080"/><stop offset="0.8534" stop-color="#670075"/><stop offset="0.8657" stop-color="#670075"/><stop offset="0.8688" stop-color="#5d006b"/><stop offset="0.8781" stop-color="#5d006b"/><stop offset="0.8812" stop-color="#540060"/><stop offset="0.8904" stop-color="#540060"/><stop offset="0.8935" stop-color="#4b0055"/><stop offset="0.9028" stop-color="#4b0055"/><stop offset="0.9059" stop-color="#41004b"/><stop offset="0.912" stop-color="#41004b"/><stop offset="0.9151" stop-color="#380040"/><stop offset="0.9244" stop-color="#380040"/><stop offset="0.9275" stop-color="#2f0035"/><stop offset="0.9367" stop-color="#2f0035"/><stop offset="0.9398" stop-color="#25002b"/><stop offset="0.9522" stop-color="#25002b"/><stop offset="0.9552" stop-color="#1c0020"/><stop offset="0.9738" stop-color="#1c0020"/><stop offset="0.9769" stop-color="#130015"/><stop offset="1" stop-color="#130015"/></linearGradient>
<linearGradient id="gR6"><stop offset="0" stop-color="#7d008e"/><stop offset="0.001543" stop-color="#7d008e"/><stop offset="0.00463" stop-color="#130015"/><stop offset="0.1898" stop-color="#130015"/><stop offset="0.196" stop-color="#25002b"/><stop offset="0.1991" stop-color="#380040"/><stop offset="0.2022" stop-color="#41004b"/><stop offset="0.2052" stop-color="#700080"/><stop offset="0.2083" stop-color="#7d008e"/><stop offset="0.2176" stop-color="#860097"/><stop offset="0.2207" stop-color="#63009e"/><stop offset="0.2238" stop-color="#0d00a8"/><stop offset="0.2269" stop-color="#0000bd"/><stop offset="0.2299" stop-color="#0000d1"/><stop offset="0.233" stop-color="#0000dd"/><stop offset="0.2423" stop-color="#0013dd"/><stop offset="0.2731" stop-color="#0013dd"/><stop offset="0.2762" stop-color="#001cdd"/><stop offset="0.3071" stop-color="#001cdd"/><stop offset="0.3102" stop-color="#0025dd"/><stop offset="0.3225" stop-color="#0025dd"/><stop offset="0.3256" stop-color="#002fdd"/><stop offset="0.338" stop-color="#002fdd"/><stop offset="0.341" stop-color="#0038dd"/><stop offset="0.3472" stop-color="#0038dd"/><stop offset="0.3503" stop-color="#0041dd"/><stop offset="0.3596" stop-color="#0041dd"/><stop offset="0.3627" stop-color="#004bdd"/><stop offset="0.3688" stop-color="#004bdd"/><stop offset="0.3719" stop-color="#0054dd"/><stop offset="0.375" stop-color="#0054dd"/><stop offset="0.3781" stop-color="#005ddd"/><stop offset="0.3812" stop-color="#005ddd"/><stop offset="0.3843" stop-color="#0067dd"/><stop offset="0.3873" stop-color="#0067dd"/><stop offset="0.3966" stop-color="#0078dd"/><stop offset="0.4552" stop-color="#0098dd"/><stop offset="0.4861" stop-color="#009ecf"/><stop offset="0.5139" stop-color="#009ecf"/><stop offset="0.5478" stop-color="#0098dd"/><stop offset="0.5818" stop-color="#0078dd"/><stop offset="0.5941" stop-color="#002fdd"/><stop offset="0.5972" stop-color="#0025dd"/><stop offset="0.6127" stop-color="#0025dd"/><stop offset="0.6188" stop-color="#0000dd"/><stop offset="0.6312" stop-color="#0000c9"/><stop offset="0.6744" stop-color="#0300aa"/><stop offset="0.6775" stop-color="#0d00a8"/><stop offset="0.6806" stop-color="#0d00a8"/><stop offset="0.6836" stop-color="#2300a6"/><stop offset="0.6991" stop-color="#58009f"/><stop offset="0.7022" stop-color="#58009f"/><stop offset="0.7052" stop-color="#63009e"/><stop offset="0.7114" stop-color="#63009e"/><stop offset="0.7145" stop-color="#6d009c"/><stop offset="0.7176" stop-color="#6d009c"/><stop offset="0.7207" stop-color="#78009b"/><stop offset="0.7269" stop-color="#78009b"/><stop offset="0.7299" stop-color="#83009a"/><stop offset="0.7423" stop-color="#870098"/><stop offset="0.7454" stop-color="#009fcb"/><stop offset="0.7485" stop-color="#009fcb"/><stop offset="0.7515" stop-color="#870098"/><stop offset="0.7577" stop-color="#870098"/><stop offset="0.7608" stop-color="#008add"/><stop offset="0.767" stop-color="#008add"/><stop offset="0.7701" stop-color="#0000dd"/><stop offset="0.7731" stop-color="#0092dd"/><stop offset="0.7793" stop-color="#0092dd"/><stop offset="0.7824" stop-color="#00a7b3"/><stop offset="0.7855" stop-color="#00a7b3"/><stop offset="0.7886" stop-color="#0000d1"/><stop offset="0.7948" stop-color="#0000d1"/><stop offset="0.7978" stop-color="#0098dd"/><stop offset="0.804" stop-color="#0098dd"/><stop offset="0.8071" stop-color="#0000c9"/><stop offset="0.8164" stop-color="#0000c9"/><stop offset="0.8194" stop-color="#0013dd"/><stop offset="0.8225" stop-color="#0013dd"/><stop offset="0.8256" stop-color="#7d008e"/><stop offset="0.8287" stop-color="#700080"/><stop offset="0.841" stop-color="#700080"/><stop offset="0.8441" stop-color="#670075"/><stop offset="0.8565" stop-color="#670075"/><stop offset="0.8596" stop-color="#5d006b"/><stop offset="0.8719" stop-color="#5d006b"/><stop offset="0.875" stop-color="#540060"/><stop offset="0.8843" stop-color="#540060"/><stop offset="0.8873" stop-color="#4b0055"/><stop offset="0.8966" stop-color="#4b0055"/><stop offset="0.8997" stop-color="#41004b"/><stop offset="0.909" stop-color="#41004b"/><stop offset="0.912" stop-color="#380040"/><stop offset="0.9213" stop-color="#380040"/><stop offset="0.9244" stop-color="#2f0035"/><stop offset="0.9336" stop-color="#2f0035"/><stop offset="0.9367" stop-color="#25002b"/><stop offset="0.9491" stop-color="#25002b"/><stop offset="0.9522" stop-color="#1c0020"/><stop offset="0.9676" stop-color="#1c0020"/><stop offset="0.9707" stop-color="#130015"/><stop offset="1" stop-color="#130015"/></linearGradient>
<linearGradient id="gR7"><stop offset="0" stop-color="#7d008e"/><stop offset="0.001543" stop-color="#7d008e"/><stop offset="0.00463" stop-color="#130015"/><stop offset="0.1898" stop-color="#130015"/><stop offset="0.196" stop-color="#25002b"/><stop offset="0.1991" stop-color="#380040"/><stop offset="0.2022" stop-color="#41004b"/><stop offset="0.2052" stop-color="#700080"/><stop offset="0.2083" stop-color="#7d008e"/><stop offset="0.2176" stop-color="#860097"/><stop offset="0.2207" stop-color="#63009e"/><stop offset="0.2238" stop-color="#0d00a8"/><stop offset="0.2269" stop-color="#0000bd"/><stop offset="0.2299" stop-color="#0000d1"/><stop offset="0.233" stop-color="#0009dd"/><stop offset="0.2454" stop-color="#0078dd"/><stop offset="0.267" stop-color="#008add"/><stop offset="0.3102" stop-color="#008ddd"/><stop offset="0.3657" stop-color="#009adb"/><stop offset="0.4306" stop-color="#00aaa8"/><stop offset="0.4707" stop-color="#00aa90"/><stop offset="0.5201" stop-color="#00aa8d"/><stop offset="0.5571" stop-color="#00aaa0"/><stop offset="0.5725" stop-color="#00a7b3"/><stop offset="0.5849" stop-color="#009fcb"/><stop offset="0.591" stop-color="#0095dd"/><stop offset="0.6096" stop-color="#0078dd"/><stop offset="0.6127" stop-color="#0067dd"/><stop offset="0.6188" stop-color="#0054dd"/><stop offset="0.6219" stop-color="#0054dd"/><stop offset="0.6435" stop-color="#0013dd"/><stop offset="0.6466" stop-color="#0013dd"/><stop offset="0.6528" stop-color="#0000dd"/><stop offset="0.6775" stop-color="#0000c9"/><stop offset="0.696" stop-color="#0300aa"/><stop offset="0.6991" stop-color="#0d00a8"/><stop offset="0.7083" stop-color="#1800a7"/><stop offset="0.7145" stop-color="#2d00a4"/><stop offset="0.7207" stop-color="#2d00a4"/><stop offset="0.7299" stop-color="#4300a2"/><stop offset="0.7361" stop-color="#4300a2"/><stop offset="0.7392" stop-color="#4d00a0"/><stop offset="0.7423" stop-color="#4d00a0"/><stop offset="0.7454" stop-color="#009fcb"/><stop offset="0.7485" stop-color="#009fcb"/><stop offset="0.7515" stop-color="#4d00a0"/><stop offset="0.7577" stop-color="#4d00a0"/><stop offset="0.7608" stop-color="#008add"/><stop offset="0.767" stop-color="#008add"/><stop offset="0.7701" stop-color="#0000dd"/><stop offset="0.7731" stop-color="#0092dd"/><stop offset="0.7793" stop-color="#0092dd"/><stop offset="0.7824" stop-color="#00a7b3"/><stop offset="0.7855" stop-color="#00a7b3"/><stop offset="0.7886" stop-color="#0000d1"/><stop offset="0.7948" stop-color="#0000d1"/><stop offset="0.7978" stop-color="#0098dd"/><stop offset="0.804" stop-color="#0098dd"/><stop offset="0.8071" stop-color="#0000c9"/><stop offset="0.8164" stop-color="#0000c9"/><stop offset="0.8194" stop-color="#0013dd"/><stop offset="0.8225" stop-color="#0013dd"/><stop offset="0.8256" stop-color="#820093"/><stop offset="0.8287" stop-color="#7a008b"/><stop offset="0.8627" stop-color="#770088"/><stop offset="0.8657" stop-color="#700080"/><stop offset="0.875" stop-color="#700080"/><stop offset="0.8781" stop-color="#670075"/><stop offset="0.8843" stop-color="#670075"/><stop offset="0.8873" stop-color="#5d006b"/><stop offset="0.8935" stop-color="#5d006b"/><stop offset="0.8966" stop-color="#540060"/><stop offset="0.9028" stop-color="#540060"/><stop offset="0.9059" stop-color="#4b0055"/><stop offset="0.9151" stop-color="#4b0055"/><stop offset="0.9182" stop-color="#41004b"/><stop offset="0.9244" stop-color="#41004b"/><stop offset="0.9275" stop-color="#380040"/><stop offset="0.9367" stop-color="#380040"/><stop offset="0.9398" stop-color="#2f0035"/><stop offset="0.946" stop-color="#2f0035"/><stop offset="0.9491" stop-color="#25002b"/><stop offset="0.9583" stop-color="#25002b"/><stop offset="0.9614" stop-color="#1c0020"/><stop offset="0.983" stop-color="#1c0020"/><stop offset="0.9861" stop-color="#130015"/><stop offset="1" stop-color="#130015"/></linearGradient>
<linearGradient id="gR8"><stop offset="0" stop-color="#7d008e"/><stop offset="0.001543" stop-color="#7d008e"/><stop offset="0.00463" stop-color="#130015"/><stop offset="0.1898" stop-color="#130015"/><stop offset="0.196" stop-color="#25002b"/><stop offset="0.1991" stop-color="#380040"/><stop offset="0.2022" stop-color="#41004b"/><stop offset="0.2052" stop-color="#700080"/><stop offset="0.2083" stop-color="#7d008e"/><stop offset="0.2176" stop-color="#860097"/><stop offset="0.2207" stop-color="#63009e"/><stop offset="0.2238" stop-color="#0d00a8"/><stop offset="0.2269" stop-color="#0000bd"/><stop offset="0.2299" stop-color="#0000d1"/><stop offset="0.233" stop-color="#0009dd"/><stop offset="0.2454" stop-color="#0054dd"/><stop offset="0.2948" stop-color="#0054dd"/><stop offset="0.2978" stop-color="#005ddd"/><stop offset="0.3164" stop-color="#005ddd"/><stop offset="0.3194" stop-color="#0067dd"/><stop offset="0.3318" stop-color="#0067dd"/><stop offset="0.3349" stop-color="#0070dd"/><stop offset="0.3441" stop-color="#0070dd"/><stop offset="0.3472" stop-color="#0078dd"/><stop offset="0.3657" stop-color="#007add"/><stop offset="0.4275" stop-color="#0098dd"/><stop offset="0.4552" stop-color="#00a2c3"/><stop offset="0.5015" stop-color="#00a7b3"/><stop offset="0.5201" stop-color="#00a6b7"/><stop offset="0.5478" stop-color="#00a0c7"/><stop offset="0.5664" stop-color="#0098dd"/><stop offset="0.5849" stop-color="#0085dd"/><stop offset="0.591" stop-color="#007add"/><stop offset="0.5941" stop-color="#0070dd"/><stop offset="0.5972" stop-color="#005ddd"/><stop offset="0.6127" stop-color="#005ddd"/><stop offset="0.6157" stop-color="#0041dd"/><stop offset="0.6219" stop-color="#001cdd"/><stop offset="0.625" stop-color="#0000dd"/><stop offset="0.6836" stop-color="#0300aa"/><stop offset="0.6898" stop-color="#1800a7"/><stop offset="0.6929" stop-color="#2d00a4"/><stop offset="0.696" stop-color="#3800a3"/><stop offset="0.6991" stop-color="#3800a3"/><stop offset="0.7083" stop-color="#4d00a0"/><stop offset="0.7114" stop-color="#4d00a0"/><stop offset="0.7207" stop-color="#63009e"/><stop offset="0.7269" stop-color="#63009e"/><stop offset="0.7299" stop-color="#6d009c"/><stop offset="0.7361" stop-color="#6d009c"/><stop offset="0.7392" stop-color="#78009b"/><stop offset="0.7423" stop-color="#78009b"/><stop offset="0.7454" stop-color="#009fcb"/><stop offset="0.7485" stop-color="#009fcb"/><stop offset="0.7515" stop-color="#78009b"/><stop offset="0.7577" stop-color="#78009b"/><stop offset="0.7608" stop-color="#008add"/><stop offset="0.767" stop-color="#008add"/><stop offset="0.7701" stop-color="#0000dd"/><stop offset="0.7731" stop-color="#0092dd"/><stop offset="0.7793" stop-color="#0092dd"/><stop offset="0.7824" stop-color="#00a7b3"/><stop offset="0.7855" stop-color="#00a7b3"/><stop offset="0.7886" stop-color="#0000d1"/><stop offset="0.7948" stop-color="#0000d1"/><stop offset="0.7978" stop-color="#0098dd"/><stop offset="0.804" stop-color="#0098dd"/><stop offset="0.8071" stop-color="#0000c9"/><stop offset="0.8164" stop-color="#0000c9"/><stop offset="0.8194" stop-color="#0013dd"/><stop offset="0.8225" stop-color="#0013dd"/><stop offset="0.8256" stop-color="#7e008f"/><stop offset="0.8287" stop-color="#770088"/><stop offset="0.838" stop-color="#770088"/><stop offset="0.841" stop-color="#700080"/><stop offset="0.8534" stop-color="#700080"/><stop offset="0.8565" stop-color="#670075"/><stop offset="0.8688" stop-color="#670075"/><stop offset="0.8719" stop-color="#5d006b"/><stop offset="0.8781" stop-color="#5d006b"/><stop offset="0.8812" stop-color="#540060"/><stop offset="0.8904" stop-color="#540060"/><stop offset="0.8935" stop-color="#4b0055"/><stop offset="0.9028" stop-color="#4b0055"/><stop offset="0.9059" stop-color="#41004b"/><stop offset="0.9151" stop-color="#41004b"/><stop offset="0.9182" stop-color="#380040"/><stop offset="0.9275" stop-color="#380040"/><stop offset="0.9306" stop-color="#2f0035"/><stop offset="0.9398" stop-color="#2f0035"/><stop offset="0.9429" stop-color="#25002b"/><stop offset="0.9522" stop-color="#25002b"/><stop offset="0.9552" stop-color="#1c0020"/><stop offset="0.9738" stop-color="#1c0020"/><stop offset="0.9769" stop-color="#130015"/><stop offset="1" stop-color="#130015"/></linearGradient>
<linearGradient id="gR9"><stop offset="0" stop-color="#7d008e"/><stop offset="0.001543" stop-color="#7d008e"/><stop offset="0.00463" stop-color="#130015"/><stop offset="0.1898" stop-color="#130015"/><stop offset="0.196" stop-color="#25002b"/><stop offset="0.1991" stop-color="#380040"/><stop offset="0.2022" stop-color="#41004b"/><stop offset="0.2052" stop-color="#700080"/><stop offset="0.2083" stop-color="#7d008e"/><stop offset="0.2176" stop-color="#860097"/><stop offset="0.2207" stop-color="#63009e"/><stop offset="0.2238" stop-color="#0d00a8"/><stop offset="0.2269" stop-color="#0000bd"/><stop offset="0.2299" stop-color="#0000d1"/><stop offset="0.233" stop-color="#0009dd"/><stop offset="0.2454" stop-color="#0078dd"/><stop offset="0.267" stop-color="#0095dd"/><stop offset="0.3472" stop-color="#009bd7"/><stop offset="0.4028" stop-color="#00a3bf"/><stop offset="0.4336" stop-color="#00aaa8"/><stop offset="0.4738" stop-color="#00aa98"/><stop offset="0.5262" stop-color="#00aa98"/><stop offset="0.5509" stop-color="#00aaa0"/><stop offset="0.5694" stop-color="#00a8af"/><stop offset="0.5849" stop-color="#00a0c7"/><stop offset="0.591" stop-color="#0098dd"/><stop offset="0.5972" stop-color="#0088dd"/><stop offset="0.6096" stop-color="#0078dd"/><stop offset="0.6188" stop-color="#004bdd"/><stop offset="0.6404" stop-color="#0009dd"/><stop offset="0.6435" stop-color="#0009dd"/><stop offset="0.6466" stop-color="#0000dd"/><stop offset="0.6744" stop-color="#0000c5"/><stop offset="0.6929" stop-color="#0300aa"/><stop offset="0.6991" stop-color="#1800a7"/><stop offset="0.7022" stop-color="#1800a7"/><stop offset="0.7083" stop-color="#2d00a4"/><stop offset="0.7114" stop-color="#2d00a4"/><stop offset="0.7145" stop-color="#3800a3"/><stop offset="0.7423" stop-color="#58009f"/><stop offset="0.7454" stop-color="#009fcb"/><stop offset="0.7485" stop-color="#009fcb"/><stop offset="0.7515" stop-color="#58009f"/><stop offset="0.7577" stop-color="#58009f"/><stop offset="0.7608" stop-color="#008add"/><stop offset="0.767" stop-color="#008add"/><stop offset="0.7701" stop-color="#0000dd"/><stop offset="0.7731" stop-color="#0092dd"/><stop offset="0.7793" stop-color="#0092dd"/><stop offset="0.7824" stop-color="#00a7b3"/><stop offset="0.7855" stop-color="#00a7b3"/><stop offset="0.7886" stop-color="#0000d1"/><stop offset="0.7948" stop-color="#0000d1"/><stop offset="0.7978" stop-color="#0098dd"/><stop offset="0.804" stop-color="#0098dd"/><stop offset="0.8071" stop-color="#0000c9"/><stop offset="0.8164" stop-color="#0000c9"/><stop offset="0.8194" stop-color="#0013dd"/><stop offset="0.8225" stop-color="#0013dd"/><stop offset="0.8256" stop-color="#810092"/><stop offset="0.8287" stop-color="#7a008b"/><stop offset="0.8565" stop-color="#770088"/><stop offset="0.8596" stop-color="#700080"/><stop offset="0.8688" stop-color="#700080"/><stop offset="0.8719" stop-color="#670075"/><stop offset="0.8812" stop-color="#670075"/><stop offset="0.8843" stop-color="#5d006b"/><stop offset="0.8904" stop-color="#5d006b"/><stop offset="0.8935" stop-color="#540060"/><stop offset="0.8997" stop-color="#540060"/><stop offset="0.9028" stop-color="#4b0055"/><stop offset="0.912" stop-color="#4b0055"/><stop offset="0.9151" stop-color="#41004b"/><stop offset="0.9213" stop-color="#41004b"/><stop offset="0.9244" stop-color="#380040"/><stop offset="0.9336" stop-color="#380040"/><stop offset="0.9367" stop-color="#2f0035"/><stop offset="0.946" stop-color="#2f0035"/><stop offset="0.9491" stop-color="#25002b"/><stop offset="0.9552" stop-color="#25002b"/><stop offset="0.9583" stop-color="#1c0020"/><stop offset="0.983" stop-color="#1c0020"/><stop offset="0.9861" stop-color="#130015"/><stop offset="1" stop-color="#130015"/></linearGradient>
<linearGradient id="gR10"><stop offset="0" stop-color="#7d008e"/><stop offset="0.001543" stop-color="#7d008e"/><stop offset="0.00463" stop-color="#130015"/><stop offset="0.1898" stop-color="#130015"/><stop offset="0.196" stop-color="#25002b"/><stop offset="0.1991" stop-color="#380040"/><stop offset="0.2022" stop-color="#41004b"/><stop offset="0.2052" stop-color="#700080"/><stop offset="0.2083" stop-color="#7d008e"/><stop offset="0.2176" stop-color="#860097"/><stop offset="0.2207" stop-color="#63009e"/><stop offset="0.2238" stop-color="#0d00a8"/><stop offset="0.2269" stop-color="#0000bd"/><stop offset="0.2299" stop-color="#0000d1"/><stop offset="0.233" stop-color="#0009dd"/><stop offset="0.2454" stop-color="#0078dd"/><stop offset="0.3318" stop-color="#0080dd"/><stop offset="0.4028" stop-color="#0098dd"/><stop offset="0.4552" stop-color="#00a8af"/><stop offset="0.4707" stop-color="#00aaa8"/><stop offset="0.5046" stop-color="#00aaa3"/><stop offset="0.5448" stop-color="#00a8af"/><stop offset="0.5509" stop-color="#00a7b3"/><stop offset="0.5787" stop-color="#0098dd"/><stop offset="0.5849" stop-color="#0092dd"/><stop offset="0.5972" stop-color="#007ddd"/><stop offset="0.6065" stop-color="#0078dd"/><stop offset="0.6096" stop-color="#0070dd"/><stop offset="0.6127" stop-color="#0067dd"/><stop offset="0.625" stop-color="#001cdd"/><stop offset="0.6343" stop-color="#0000dd"/><stop offset="0.6867" stop-color="#0000ad"/><stop offset="0.6991" stop-color="#2d00a4"/><stop offset="0.7022" stop-color="#2d00a4"/><stop offset="0.7052" stop-color="#3800a3"/><stop offset="0.7083" stop-color="#3800a3"/><stop offset="0.7176" stop-color="#4d00a0"/><stop offset="0.7207" stop-color="#4d00a0"/><stop offset="0.7238" stop-color="#58009f"/><stop offset="0.733" stop-color="#58009f"/><stop offset="0.7361" stop-color="#63009e"/><stop offset="0.7423" stop-color="#63009e"/><stop offset="0.7454" stop-color="#009fcb"/><stop offset="0.7485" stop-color="#009fcb"/><stop offset="0.7515" stop-color="#63009e"/><stop offset="0.7577" stop-color="#63009e"/><stop offset="0.7608" stop-color="#008add"/><stop offset="0.767" stop-color="#008add"/><stop offset="0.7701" stop-color="#0000dd"/><stop offset="0.7731" stop-color="#0092dd"/><stop offset="0.7793" stop-color="#0092dd"/><stop offset="0.7824" stop-color="#00a7b3"/><stop offset="0.7855" stop-color="#00a7b3"/><stop offset="0.7886" stop-color="#0000d1"/><stop offset="0.7948" stop-color="#0000d1"/><stop offset="0.7978" stop-color="#0098dd"/><stop offset="0.804" stop-color="#0098dd"/><stop offset="0.8071" stop-color="#0000c9"/><stop offset="0.8164" stop-color="#0000c9"/><stop offset="0.8194" stop-color="#0013dd"/><stop offset="0.8225" stop-color="#0013dd"/><stop offset="0.8256" stop-color="#7f0090"/><stop offset="0.8287" stop-color="#79008a"/><stop offset="0.8472" stop-color="#770088"/><stop offset="0.8503" stop-color="#700080"/><stop offset="0.8627" stop-color="#700080"/><stop offset="0.8657" stop-color="#670075"/><stop offset="0.875" stop-color="#670075"/><stop offset="0.8781" stop-color="#5d006b"/><stop offset="0.8843" stop-color="#5d006b"/><stop offset="0.8873" stop-color="#540060"/><stop offset="0.8966" stop-color="#540060"/><stop offset="0.8997" stop-color="#4b0055"/><stop offset="0.9059" stop-color="#4b0055"/><stop offset="0.909" stop-color="#41004b"/><stop offset="0.9182" stop-color="#41004b"/><stop offset="0.9213" stop-color="#380040"/><stop offset="0.9306" stop-color="#380040"/><stop offset="0.9336" stop-color="#2f0035"/><stop offset="0.9429" stop-color="#2f0035"/><stop offset="0.946" stop-color="#25002b"/><stop offset="0.9552" stop-color="#25002b"/><stop offset="0.9583" stop-color="#1c0020"/><stop offset="0.9769" stop-color="#1c0020"/><stop offset="0.9799" stop-color="#130015"/><stop offset="1" stop-color="#130015"/></linearGradient>
<linearGradient id="gR11"><stop offset="0" stop-color="#7d008e"/><stop offset="0.001543" stop-color="#7d008e"/><stop offset="0.00463" stop-color="#130015"/><stop offset="0.1898" stop-color="#130015"/><stop offset="0.196" stop-color="#25002b"/><stop offset="0.1991" stop-color="#380040"/><stop offset="0.2022" stop-color="#41004b"/><stop offset="0.2052" stop-color="#700080"/><stop offset="0.2083" stop-color="#7d008e"/><stop offset="0.2176" stop-color="#860097"/><stop offset="0.2207" stop-color="#63009e"/><stop offset="0.2238" stop-color="#0d00a8"/><stop offset="0.2269" stop-color="#0000bd"/><stop offset="0.2299" stop-color="#0000d1"/><stop offset="0.233" stop-color="#0009dd"/><stop offset="0.2454" stop-color="#0078dd"/><stop offset="0.267" stop-color="#0088dd"/><stop offset="0.3133" stop-color="#008add"/><stop offset="0.3719" stop-color="#009adb"/><stop offset="0.4028" stop-color="#00a2c3"/><stop offset="0.4275" stop-color="#00aaa8"/><stop offset="0.4769" stop-color="#00aa8b"/><stop offset="0.5231" stop-color="#00aa8b"/><stop offset="0.5509" stop-color="#00aa98"/><stop offset="0.5725" stop-color="#00a7b3"/><stop offset="0.5818" stop-color="#00a0c7"/><stop offset="0.591" stop-color="#0095dd"/><stop offset="0.6096" stop-color="#0078dd"/><stop offset="0.6157" stop-color="#005ddd"/><stop offset="0.6188" stop-color="#005ddd"/><stop offset="0.6281" stop-color="#0041dd"/><stop offset="0.6312" stop-color="#0041dd"/><stop offset="0.6497" stop-color="#0009dd"/><stop offset="0.6528" stop-color="#0009dd"/><stop offset="0.6559" stop-color="#0000dd"/><stop offset="0.6744" stop-color="#0000cd"/><stop offset="0.6867" stop-color="#0000bd"/><stop offset="0.696" stop-color="#0300aa"/><stop offset="0.6991" stop-color="#0300aa"/><stop offset="0.7176" stop-color="#2d00a4"/><stop offset="0.7238" stop-color="#2d00a4"/><stop offset="0.7269" stop-color="#3800a3"/><stop offset="0.733" stop-color="#3800a3"/><stop offset="0.7423" stop-color="#4d00a0"/><stop offset="0.7454" stop-color="#009fcb"/><stop offset="0.7485" stop-color="#009fcb"/><stop offset="0.7515" stop-color="#4d00a0"/><stop offset="0.7577" stop-color="#4d00a0"/><stop offset="0.7608" stop-color="#008add"/><stop offset="0.767" stop-color="#008add"/><stop offset="0.7701" stop-color="#0000dd"/><stop offset="0.7731" stop-color="#0092dd"/><stop offset="0.7793" stop-color="#0092dd"/><stop offset="0.7824" stop-color="#00a7b3"/><stop offset="0.7855" stop-color="#00a7b3"/><stop offset="0.7886" stop-color="#0000d1"/><stop offset="0.7948" stop-color="#0000d1"/><stop offset="0.7978" stop-color="#0098dd"/><stop offset="0.804" stop-color="#0098dd"/><stop offset="0.8071" stop-color="#0000c9"/><stop offset="0.8164" stop-color="#0000c9"/><stop offset="0.8194" stop-color="#0013dd"/><stop offset="0.8225" stop-color="#0013dd"/><stop offset="0.8256" stop-color="#820093"/><stop offset="0.8318" stop-color="#7a008b"/><stop offset="0.8657" stop-color="#770088"/><stop offset="0.8688" stop-color="#700080"/><stop offset="0.875" stop-color="#700080"/><stop offset="0.8781" stop-color="#670075"/><stop offset="0.8843" stop-color="#670075"/><stop offset="0.8873" stop-color="#5d006b"/><stop offset="0.8966" stop-color="#5d006b"/><stop offset="0.8997" stop-color="#540060"/><stop offset="0.9059" stop-color="#540060"/><stop offset="0.909" stop-color="#4b0055"/><stop offset="0.9151" stop-color="#4b0055"/><stop offset="0.9182" stop-color="#41004b"/><stop offset="0.9244" stop-color="#41004b"/><stop offset="0.9275" stop-color="#380040"/><stop offset="0.9367" stop-color="#380040"/><stop offset="0.9398" stop-color="#2f0035"/><stop offset="0.9491" stop-color="#2f0035"/><stop offset="0.9522" stop-color="#25002b"/><stop offset="0.9614" stop-color="#25002b"/><stop offset="0.9645" stop-color="#1c0020"/><stop offset="0.9861" stop-color="#1c0020"/><stop offset="0.9892" stop-color="#130015"/><stop offset="1" stop-color="#130015"/></linearGradient>
<linearGradient id="gR12"><stop offset="0" stop-color="#7d008e"/><stop offset="0.001543" stop-color="#7d008e"/><stop offset="0.00463" stop-color="#130015"/><stop offset="0.1898" stop-color="#130015"/><stop offset="0.196" stop-color="#25002b"/><stop offset="0.1991" stop-color="#380040"/><stop offset="0.2022" stop-color="#41004b"/><stop offset="0.2052" stop-color="#700080"/><stop offset="0.2083" stop-color="#7d008e"/><stop offset="0.2176" stop-color="#860097"/><stop offset="0.2207" stop-color="#63009e"/><stop offset="0.2238" stop-color="#0d00a8"/><stop offset="0.2269" stop-color="#0000bd"/><stop offset="0.2299" stop-color="#0000d1"/><stop offset="0.233" stop-color="#0009dd"/><stop offset="0.2454" stop-color="#0078dd"/><stop offset="0.2577" stop-color="#0085dd"/><stop offset="0.2701" stop-color="#0090dd"/><stop offset="0.3503" stop-color="#009adb"/><stop offset="0.375" stop-color="#009ecf"/><stop offset="0.4182" stop-color="#00aaa8"/><stop offset="0.4552" stop-color="#00aa8d"/><stop offset="0.4707" stop-color="#00aa88"/><stop offset="0.4799" stop-color="#00a773"/><stop offset="0.517" stop-color="#00a773"/><stop offset="0.5201" stop-color="#00a97d"/><stop offset="0.5262" stop-color="#00a97d"/><stop offset="0.5293" stop-color="#00aa88"/><stop offset="0.5478" stop-color="#00aa90"/><stop offset="0.5756" stop-color="#00a8af"/><stop offset="0.5849" stop-color="#00a2c3"/><stop offset="0.591" stop-color="#0098dd"/><stop offset="0.5972" stop-color="#0088dd"/><stop offset="0.6096" stop-color="#0078dd"/><stop offset="0.6127" stop-color="#0067dd"/><stop offset="0.6157" stop-color="#0067dd"/><stop offset="0.6188" stop-color="#005ddd"/><stop offset="0.625" stop-color="#005ddd"/><stop offset="0.6466" stop-color="#001cdd"/><stop offset="0.6497" stop-color="#001cdd"/><stop offset="0.659" stop-color="#0000dd"/><stop offset="0.6713" stop-color="#0000d5"/><stop offset="0.6867" stop-color="#0000c1"/><stop offset="0.696" stop-color="#0000ad"/><stop offset="0.6991" stop-color="#0000ad"/><stop offset="0.7052" stop-color="#0d00a8"/><stop offset="0.7083" stop-color="#0d00a8"/><stop offset="0.7114" stop-color="#1800a7"/><stop offset="0.7145" stop-color="#1800a7"/><stop offset="0.7176" stop-color="#2300a6"/><stop offset="0.7207" stop-color="#2300a6"/><stop offset="0.7238" stop-color="#2d00a4"/><stop offset="0.7299" stop-color="#2d00a4"/><stop offset="0.733" stop-color="#3800a3"/><stop offset="0.7392" stop-color="#3800a3"/><stop offset="0.7423" stop-color="#4300a2"/><stop offset="0.7454" stop-color="#009fcb"/><stop offset="0.7485" stop-color="#009fcb"/><stop offset="0.7515" stop-color="#4300a2"/><stop offset="0.7577" stop-color="#4300a2"/><stop offset="0.7608" stop-color="#008add"/><stop offset="0.767" stop-color="#008add"/><stop offset="0.7701" stop-color="#0000dd"/><stop offset="0.7731" stop-color="#0092dd"/><stop offset="0.7793" stop-color="#0092dd"/><stop offset="0.7824" stop-color="#00a7b3"/><stop offset="0.7855" stop-color="#00a7b3"/><stop offset="0.7886" stop-color="#0000d1"/><stop offset="0.7948" stop-color="#0000d1"/><stop offset="0.7978" stop-color="#0098dd"/><stop offset="0.804" stop-color="#0098dd"/><stop offset="0.8071" stop-color="#0000c9"/><stop offset="0.8164" stop-color="#0000c9"/><stop offset="0.8194" stop-color="#0013dd"/><stop offset="0.8225" stop-color="#0013dd"/><stop offset="0.8256" stop-color="#820093"/><stop offset="0.8287" stop-color="#79008a"/><stop offset="0.8503" stop-color="#770088"/><stop offset="0.8534" stop-color="#700080"/><stop offset="0.8657" stop-color="#700080"/><stop offset="0.8688" stop-color="#670075"/><stop offset="0.875" stop-color="#670075"/><stop offset="0.8781" stop-color="#5d006b"/><stop offset="0.8873" stop-color="#5d006b"/><stop offset="0.8904" stop-color="#540060"/><stop offset="0.8966" stop-color="#540060"/><stop offset="0.8997" stop-color="#4b0055"/><stop offset="0.909" stop-color="#4b0055"/><stop offset="0.912" stop-color="#41004b"/><stop offset="0.9182" stop-color="#41004b"/><stop offset="0.9213" stop-color="#380040"/><stop offset="0.9306" stop-color="#380040"/><stop offset="0.9336" stop-color="#2f0035"/><stop offset="0.946" stop-color="#2f0035"/><stop offset="0.9491" stop-color="#25002b"/><stop offset="0.9645" stop-color="#25002b"/><stop offset="0.9676" stop-color="#1c0020"/><stop offset="0.9861" stop-color="#1c0020"/><stop offset="0.9892" stop-color="#130015"/><stop offset="1" stop-color="#130015"/></linearGradient>
<linearGradient id="gR13"><stop offset="0" stop-color="#7d008e"/><stop offset="0.001543" stop-color="#7d008e"/><stop offset="0.00463" stop-color="#130015"/><stop offset="0.1898" stop-color="#130015"/><stop offset="0.196" stop-color="#25002b"/><stop offset="0.1991" stop-color="#380040"/><stop offset="0.2022" stop-color="#41004b"/><stop offset="0.2052" stop-color="#700080"/><stop offset="0.2083" stop-color="#7d008e"/><stop offset="0.2176" stop-color="#860097"/><stop offset="0.2207" stop-color="#63009e"/><stop offset="0.2238" stop-color="#0d00a8"/><stop offset="0.2269" stop-color="#0000bd"/><stop offset="0.2299" stop-color="#0000d1"/><stop offset="0.233" stop-color="#0009dd"/><stop offset="0.2454" stop-color="#0078dd"/><stop offset="0.3256" stop-color="#0080dd"/><stop offset="0.3843" stop-color="#0098dd"/><stop offset="0.4028" stop-color="#009ecf"/><stop offset="0.4059" stop-color="#d4f700"/><stop offset="0.412" stop-color="#d4f700"/><stop offset="0.4151" stop-color="#00a3bf"/><stop offset="0.4552" stop-color="#00aa95"/><stop offset="0.4954" stop-color="#00aa88"/><stop offset="0.5201" stop-color="#00aa8b"/><stop offset="0.5509" stop-color="#00aa9b"/><stop offset="0.5633" stop-color="#00aaab"/><stop offset="0.5787" stop-color="#009ecf"/><stop offset="0.588" stop-color="#0092dd"/><stop offset="0.5972" stop-color="#007ddd"/><stop offset="0.6065" stop-color="#0078dd"/><stop offset="0.6157" stop-color="#005ddd"/><stop offset="0.6188" stop-color="#005ddd"/><stop offset="0.6281" stop-color="#0041dd"/><stop offset="0.6312" stop-color="#0041dd"/><stop offset="0.6497" stop-color="#0009dd"/><stop offset="0.6528" stop-color="#0009dd"/><stop offset="0.6559" stop-color="#0000dd"/><stop offset="0.6744" stop-color="#0000cd"/><stop offset="0.6867" stop-color="#0000bd"/><stop offset="0.696" stop-color="#0300aa"/><stop offset="0.6991" stop-color="#0300aa"/><stop offset="0.7176" stop-color="#2d00a4"/><stop offset="0.7238" stop-color="#2d00a4"/><stop offset="0.7269" stop-color="#3800a3"/><stop offset="0.733" stop-color="#3800a3"/><stop offset="0.7423" stop-color="#4d00a0"/><stop offset="0.7454" stop-color="#009fcb"/><stop offset="0.7485" stop-color="#009fcb"/><stop offset="0.7515" stop-color="#4d00a0"/><stop offset="0.7577" stop-color="#4d00a0"/><stop offset="0.7608" stop-color="#008add"/><stop offset="0.767" stop-color="#008add"/><stop offset="0.7701" stop-color="#0000dd"/><stop offset="0.7731" stop-color="#0092dd"/><stop offset="0.7793" stop-color="#0092dd"/><stop offset="0.7824" stop-color="#00a7b3"/><stop offset="0.7855" stop-color="#00a7b3"/><stop offset="0.7886" stop-color="#0000d1"/><stop offset="0.7948" stop-color="#0000d1"/><stop offset="0.7978" stop-color="#0098dd"/><stop offset="0.804" stop-color="#0098dd"/><stop offset="0.8071" stop-color="#0000c9"/><stop offset="0.8164" stop-color="#0000c9"/><stop offset="0.8194" stop-color="#0013dd"/><stop offset="0.8225" stop-color="#0013dd"/><stop offset="0.8256" stop-color="#810092"/><stop offset="0.8287" stop-color="#79008a"/><stop offset="0.8472" stop-color="#770088"/><stop offset="0.8503" stop-color="#700080"/><stop offset="0.8596" stop-color="#700080"/><stop offset="0.8627" stop-color="#670075"/><stop offset="0.8719" stop-color="#670075"/><stop offset="0.875" stop-color="#5d006b"/><stop offset="0.8843" stop-color="#5d006b"/><stop offset="0.8873" stop-color="#540060"/><stop offset="0.8966" stop-color="#540060"/><stop offset="0.8997" stop-color="#4b0055"/><stop offset="0.9059" stop-color="#4b0055"/><stop offset="0.909" stop-color="#41004b"/><stop offset="0.9182" stop-color="#41004b"/><stop offset="0.9213" stop-color="#380040"/><stop offset="0.9306" stop-color="#380040"/><stop offset="0.9336" stop-color="#2f0035"/><stop offset="0.946" stop-color="#2f0035"/><stop offset="0.9491" stop-color="#25002b"/><stop offset="0.9614" stop-color="#25002b"/><stop offset="0.9645" stop-color="#1c0020"/><stop offset="0.9861" stop-color="#1c0020"/><stop offset="0.9892" stop-color="#130015"/><stop offset="1" stop-color="#130015"/></linearGradient>
<linearGradient id="gR14"><stop offset="0" stop-color="#7d008e"/><stop offset="0.001543" stop-color="#7d008e"/><stop offset="0.00463" stop-color="#130015"/><stop offset="0.1898" stop-color="#130015"/><stop offset="0.196" stop-color="#25002b"/><stop offset="0.1991" stop-color="#380040"/><stop offset="0.2022" stop-color="#41004b"/><stop offset="0.2052" stop-color="#700080"/><stop offset="0.2083" stop-color="#7d008e"/><stop offset="0.2176" stop-color="#860097"/><stop offset="0.2207" stop-color="#63009e"/><stop offset="0.2238" stop-color="#0d00a8"/><stop offset="0.2269" stop-color="#0000bd"/><stop offset="0.2299" stop-color="#0000d1"/><stop offset="0.233" stop-color="#0009dd"/><stop offset="0.2423" stop-color="#0054dd"/><stop offset="0.2454" stop-color="#0067dd"/><stop offset="0.2762" stop-color="#0067dd"/><stop offset="0.2793" stop-color="#0070dd"/><stop offset="0.3071" stop-color="#0070dd"/><stop offset="0.3102" stop-color="#0078dd"/><stop offset="0.3534" stop-color="#0080dd"/><stop offset="0.4028" stop-color="#0098dd"/><stop offset="0.4059" stop-color="#00a3bf"/><stop offset="0.409" stop-color="#00a4bb"/><stop offset="0.412" stop-color="#009bd7"/><stop offset="0.4552" stop-color="#00aaa8"/><stop offset="0.4861" stop-color="#00aa9d"/><stop offset="0.5262" stop-color="#00aaa0"/><stop offset="0.5478" stop-color="#00aaab"/><stop offset="0.5787" stop-color="#0098dd"/><stop offset="0.6003" stop-color="#0070dd"/><stop offset="0.6065" stop-color="#0070dd"/><stop offset="0.6096" stop-color="#0067dd"/><stop offset="0.6127" stop-color="#0067dd"/><stop offset="0.6157" stop-color="#0054dd"/><stop offset="0.6188" stop-color="#004bdd"/><stop offset="0.625" stop-color="#0025dd"/><stop offset="0.6281" stop-color="#001cdd"/><stop offset="0.6312" stop-color="#001cdd"/><stop offset="0.6404" stop-color="#0000dd"/><stop offset="0.6744" stop-color="#0000c1"/><stop offset="0.6898" stop-color="#0300aa"/><stop offset="0.6991" stop-color="#2300a6"/><stop offset="0.7083" stop-color="#2d00a4"/><stop offset="0.7145" stop-color="#4300a2"/><stop offset="0.7207" stop-color="#4300a2"/><stop offset="0.7238" stop-color="#4d00a0"/><stop offset="0.7299" stop-color="#4d00a0"/><stop offset="0.733" stop-color="#58009f"/><stop offset="0.7392" stop-color="#58009f"/><stop offset="0.7423" stop-color="#63009e"/><stop offset="0.7454" stop-color="#009fcb"/><stop offset="0.7485" stop-color="#009fcb"/><stop offset="0.7515" stop-color="#63009e"/><stop offset="0.7577" stop-color="#63009e"/><stop offset="0.7608" stop-color="#008add"/><stop offset="0.767" stop-color="#008add"/><stop offset="0.7701" stop-color="#0000dd"/><stop offset="0.7731" stop-color="#0092dd"/><stop offset="0.7793" stop-color="#0092dd"/><stop offset="0.7824" stop-color="#00a7b3"/><stop offset="0.7855" stop-color="#00a7b3"/><stop offset="0.7886" stop-color="#0000d1"/><stop offset="0.7948" stop-color="#0000d1"/><stop offset="0.7978" stop-color="#0098dd"/><stop offset="0.804" stop-color="#0098dd"/><stop offset="0.8071" stop-color="#0000c9"/><stop offset="0.8164" stop-color="#0000c9"/><stop offset="0.8194" stop-color="#0013dd"/><stop offset="0.8225" stop-color="#0013dd"/><stop offset="0.8256" stop-color="#7f0090"/><stop offset="0.8287" stop-color="#770088"/><stop offset="0.8349" stop-color="#770088"/><stop offset="0.838" stop-color="#700080"/><stop offset="0.8472" stop-color="#700080"/><stop offset="0.8503" stop-color="#670075"/><stop offset="0.8627" stop-color="#670075"/><stop offset="0.8657" stop-color="#5d006b"/><stop offset="0.875" stop-color="#5d006b"/><stop offset="0.8781" stop-color="#540060"/><stop offset="0.8873" stop-color="#540060"/><stop offset="0.8904" stop-color="#4b0055"/><stop offset="0.8997" stop-color="#4b0055"/><stop offset="0.9028" stop-color="#41004b"/><stop offset="0.912" stop-color="#41004b"/><stop offset="0.9151" stop-color="#380040"/><stop offset="0.9244" stop-color="#380040"/><stop offset="0.9275" stop-color="#2f0035"/><stop offset="0.9398" stop-color="#2f0035"/><stop offset="0.9429" stop-color="#25002b"/><stop offset="0.9552" stop-color="#25002b"/><stop offset="0.9583" stop-color="#1c0020"/><stop offset="0.9799" stop-color="#1c0020"/><stop offset="0.983" stop-color="#130015"/><stop offset="1" stop-color="#130015"/></linearGradient>
<linearGradient id="gR15"><stop offset="0" stop-color="#7d008e"/><stop offset="0.001543" stop-color="#7d008e"/><stop offset="0.00463" stop-color="#09000b"/><stop offset="0.0108" stop-color="#09000b"/><stop offset="0.01389" stop-color="#130015"/><stop offset="0.03549" stop-color="#130015"/><stop offset="0.03858" stop-color="#09000b"/><stop offset="0.04167" stop-color="#09000b"/><stop offset="0.04475" stop-color="#130015"/><stop offset="0.04784" stop-color="#130015"/><stop offset="0.05093" stop-color="#25002b"/><stop offset="0.05401" stop-color="#25002b"/><stop offset="0.0571" stop-color="#1c0020"/><stop offset="0.06636" stop-color="#1c0020"/><stop offset="0.06944" stop-color="#09000b"/><stop offset="0.07253" stop-color="#09000b"/><stop offset="0.07562" stop-color="#25002b"/><stop offset="0.08488" stop-color="#1c0020"/><stop offset="0.08796" stop-color="#09000b"/><stop offset="0.09105" stop-color="#09000b"/><stop offset="0.09414" stop-color="#130015"/><stop offset="0.09722" stop-color="#130015"/><stop offset="0.1003" stop-color="#09000b"/><stop offset="0.1096" stop-color="#09000b"/><stop offset="0.1127" stop-color="#130015"/><stop offset="0.1157" stop-color="#130015"/><stop offset="0.1188" stop-color="#09000b"/><stop offset="0.1219" stop-color="#09000b"/><stop offset="0.125" stop-color="#1c0020"/><stop offset="0.1343" stop-color="#1c0020"/><stop offset="0.1373" stop-color="#130015"/><stop offset="0.1466" stop-color="#130015"/><stop offset="0.1497" stop-color="#09000b"/><stop offset="0.159" stop-color="#09000b"/><stop offset="0.162" stop-color="#130015"/><stop offset="0.1713" stop-color="#130015"/><stop offset="0.1744" stop-color="#09000b"/><stop offset="0.1775" stop-color="#09000b"/><stop offset="0.1806" stop-color="#130015"/><stop offset="0.1898" stop-color="#130015"/><stop offset="0.196" stop-color="#25002b"/><stop offset="0.1991" stop-color="#1c0020"/><stop offset="0.2083" stop-color="#1c0020"/><stop offset="0.2114" stop-color="#25002b"/><stop offset="0.2145" stop-color="#25002b"/><stop offset="0.2176" stop-color="#380040"/><stop offset="0.2269" stop-color="#380040"/><stop offset="0.2299" stop-color="#2f0035"/><stop offset="0.2392" stop-color="#2f0035"/><stop offset="0.2423" stop-color="#41004b"/><stop offset="0.2454" stop-color="#41004b"/><stop offset="0.2485" stop-color="#2f0035"/><stop offset="0.2515" stop-color="#2f0035"/><stop offset="0.2546" stop-color="#41004b"/><stop offset="0.2577" stop-color="#41004b"/><stop offset="0.2608" stop-color="#380040"/><stop offset="0.2639" stop-color="#380040"/><stop offset="0.267" stop-color="#41004b"/><stop offset="0.2762" stop-color="#380040"/><stop offset="0.2855" stop-color="#540060"/><stop offset="0.3009" stop-color="#540060"/><stop offset="0.304" stop-color="#4b0055"/><stop offset="0.3194" stop-color="#4b0055"/><stop offset="0.3225" stop-color="#41004b"/><stop offset="0.3256" stop-color="#41004b"/><stop offset="0.3318" stop-color="#540060"/><stop offset="0.338" stop-color="#540060"/><stop offset="0.341" stop-color="#41004b"/><stop offset="0.3503" stop-color="#41004b"/><stop offset="0.3534" stop-color="#5d006b"/><stop offset="0.3565" stop-color="#5d006b"/><stop offset="0.3596" stop-color="#540060"/><stop offset="0.3688" stop-color="#540060"/><stop offset="0.3719" stop-color="#5d006b"/><stop offset="0.3812" stop-color="#5d006b"/><stop offset="0.3843" stop-color="#540060"/><stop offset="0.3935" stop-color="#540060"/><stop offset="0.3966" stop-color="#5d006b"/><stop offset="0.4059" stop-color="#5d006b"/><stop offset="0.409" stop-color="#540060"/><stop offset="0.412" stop-color="#540060"/><stop offset="0.4151" stop-color="#5d006b"/><stop offset="0.4182" stop-color="#5d006b"/><stop offset="0.4213" stop-color="#540060"/><stop offset="0.4244" stop-color="#540060"/><stop offset="0.4275" stop-color="#670075"/><stop offset="0.4306" stop-color="#670075"/><stop offset="0.4336" stop-color="#540060"/><stop offset="0.4429" stop-color="#5d006b"/><stop offset="0.446" stop-color="#670075"/><stop offset="0.4491" stop-color="#670075"/><stop offset="0.4522" stop-color="#540060"/><stop offset="0.4738" stop-color="#540060"/><stop offset="0.4769" stop-color="#4b0055"/><stop offset="0.4861" stop-color="#4b0055"/><stop offset="0.4892" stop-color="#5d006b"/><stop offset="0.4923" stop-color="#5d006b"/><stop offset="0.4954" stop-color="#540060"/><stop offset="0.5046" stop-color="#540060"/><stop offset="0.5077" stop-color="#5d006b"/><stop offset="0.5108" stop-color="#5d006b"/><stop offset="0.5139" stop-color="#540060"/><stop offset="0.5231" stop-color="#540060"/><stop offset="0.5262" stop-color="#4b0055"/><stop offset="0.5293" stop-color="#4b0055"/><stop offset="0.5324" stop-color="#5d006b"/><stop offset="0.554" stop-color="#5d006b"/><stop offset="0.5571" stop-color="#540060"/><stop offset="0.5664" stop-color="#540060"/><stop offset="0.5694" stop-color="#4b0055"/><stop offset="0.5725" stop-color="#4b0055"/><stop offset="0.5756" stop-color="#5d006b"/><stop offset="0.5787" stop-color="#5d006b"/><stop offset="0.5818" stop-color="#540060"/><stop offset="0.6003" stop-color="#540060"/><stop offset="0.6034" stop-color="#4b0055"/><stop offset="0.6219" stop-color="#4b0055"/><stop offset="0.625" stop-color="#41004b"/><stop offset="0.6281" stop-color="#41004b"/><stop offset="0.6312" stop-color="#540060"/><stop offset="0.6343" stop-color="#540060"/><stop offset="0.6373" stop-color="#4b0055"/><stop offset="0.6466" stop-color="#4b0055"/><stop offset="0.6497" stop-color="#380040"/><stop offset="0.6528" stop-color="#380040"/><stop offset="0.6559" stop-color="#4b0055"/><stop offset="0.659" stop-color="#4b0055"/><stop offset="0.662" stop-color="#380040"/><stop offset="0.6651" stop-color="#380040"/><stop offset="0.6682" stop-color="#41004b"/><stop offset="0.6775" stop-color="#41004b"/><stop offset="0.6806" stop-color="#540060"/><stop offset="0.6836" stop-color="#540060"/><stop offset="0.6867" stop-color="#41004b"/><stop offset="0.6898" stop-color="#41004b"/><stop offset="0.6929" stop-color="#380040"/><stop offset="0.696" stop-color="#380040"/><stop offset="0.6991" stop-color="#41004b"/><stop offset="0.7145" stop-color="#41004b"/><stop offset="0.7176" stop-color="#380040"/><stop offset="0.7207" stop-color="#380040"/><stop offset="0.7238" stop-color="#41004b"/><stop offset="0.7269" stop-color="#41004b"/><stop offset="0.7299" stop-color="#380040"/><stop offset="0.7454" stop-color="#380040"/><stop offset="0.7485" stop-color="#41004b"/><stop offset="0.7515" stop-color="#41004b"/><stop offset="0.7577" stop-color="#2f0035"/><stop offset="0.7886" stop-color="#2f0035"/><stop offset="0.7917" stop-color="#380040"/><stop offset="0.8071" stop-color="#380040"/><stop offset="0.8102" stop-color="#1c0020"/><stop offset="0.8133" stop-color="#1c0020"/><stop offset="0.8164" stop-color="#25002b"/><stop offset="0.8256" stop-color="#25002b"/><stop offset="0.8287" stop-color="#2f0035"/><stop offset="0.8318" stop-color="#2f0035"/><stop offset="0.8349" stop-color="#25002b"/><stop offset="0.8441" stop-color="#2f0035"/><stop offset="0.8472" stop-color="#1c0020"/><stop offset="0.8503" stop-color="#1c0020"/><stop offset="0.8596" stop-color="#2f0035"/><stop offset="0.8627" stop-color="#2f0035"/><stop offset="0.8657" stop-color="#25002b"/><stop offset="0.875" stop-color="#2f0035"/><stop offset="0.8781" stop-color="#1c0020"/><stop offset="0.9059" stop-color="#1c0020"/><stop offset="0.909" stop-color="#130015"/><stop offset="0.9182" stop-color="#130015"/><stop offset="0.9213" stop-color="#25002b"/><stop offset="0.9367" stop-color="#25002b"/><stop offset="0.9398" stop-color="#1c0020"/><stop offset="0.9429" stop-color="#1c0020"/><stop offset="0.946" stop-color="#09000b"/><stop offset="0.9491" stop-color="#09000b"/><stop offset="0.9522" stop-color="#1c0020"/><stop offset="0.9614" stop-color="#1c0020"/><stop offset="0.9707" stop-color="#09000b"/><stop offset="0.9799" stop-color="#09000b"/><stop offset="0.983" stop-color="#130015"/><stop offset="0.9923" stop-color="#09000b"/><stop offset="0.9954" stop-color="#1c0020"/><stop offset="1" stop-color="#1c0020"/></linearGradient>
<linearGradient id="gR16"><stop offset="0" stop-color="#7d008e"/><stop offset="0.001543" stop-color="#7d008e"/><stop offset="0.00463" stop-color="#130015"/><stop offset="0.1898" stop-color="#130015"/><stop offset="0.196" stop-color="#25002b"/><stop offset="0.1991" stop-color="#380040"/><stop offset="0.2022" stop-color="#41004b"/><stop offset="0.2052" stop-color="#700080"/><stop offset="0.2083" stop-color="#7d008e"/><stop offset="0.2176" stop-color="#860097"/><stop offset="0.2207" stop-color="#63009e"/><stop offset="0.2238" stop-color="#0d00a8"/><stop offset="0.2269" stop-color="#0000bd"/><stop offset="0.2299" stop-color="#0000d1"/><stop offset="0.233" stop-color="#0009dd"/><stop offset="0.2454" stop-color="#0078dd"/><stop offset="0.3102" stop-color="#0080dd"/><stop offset="0.3688" stop-color="#0090dd"/><stop offset="0.3719" stop-color="#ff9900"/><stop offset="0.375" stop-color="#e90000"/><stop offset="0.3781" stop-color="#0095dd"/><stop offset="0.3935" stop-color="#009bd7"/><stop offset="0.4367" stop-color="#00aaab"/><stop offset="0.4552" stop-color="#00aa9b"/><stop offset="0.483" stop-color="#00aa90"/><stop offset="0.5262" stop-color="#00aa93"/><stop offset="0.5478" stop-color="#00aa9d"/><stop offset="0.5602" stop-color="#00aaab"/><stop offset="0.5849" stop-color="#009adb"/><stop offset="0.5972" stop-color="#0080dd"/><stop offset="0.6065" stop-color="#0078dd"/><stop offset="0.6343" stop-color="#0025dd"/><stop offset="0.6373" stop-color="#0025dd"/><stop offset="0.6497" stop-color="#0000dd"/><stop offset="0.6744" stop-color="#0000c9"/><stop offset="0.6929" stop-color="#0000ad"/><stop offset="0.696" stop-color="#0300aa"/><stop offset="0.7022" stop-color="#1800a7"/><stop offset="0.7114" stop-color="#2300a6"/><stop offset="0.7176" stop-color="#3800a3"/><stop offset="0.7238" stop-color="#3800a3"/><stop offset="0.7269" stop-color="#4300a2"/><stop offset="0.733" stop-color="#4300a2"/><stop offset="0.7361" stop-color="#4d00a0"/><stop offset="0.7423" stop-color="#4d00a0"/><stop offset="0.7454" stop-color="#009fcb"/><stop offset="0.7485" stop-color="#009fcb"/><stop offset="0.7515" stop-color="#4d00a0"/><stop offset="0.7577" stop-color="#4d00a0"/><stop offset="0.7608" stop-color="#008add"/><stop offset="0.767" stop-color="#008add"/><stop offset="0.7701" stop-color="#0000dd"/><stop offset="0.7731" stop-color="#0092dd"/><stop offset="0.7793" stop-color="#0092dd"/><stop offset="0.7824" stop-color="#00a7b3"/><stop offset="0.7855" stop-color="#00a7b3"/><stop offset="0.7886" stop-color="#0000d1"/><stop offset="0.7948" stop-color="#0000d1"/><stop offset="0.7978" stop-color="#0098dd"/><stop offset="0.804" stop-color="#0098dd"/><stop offset="0.8071" stop-color="#0000c9"/><stop offset="0.8164" stop-color="#0000c9"/><stop offset="0.8194" stop-color="#0013dd"/><stop offset="0.8225" stop-color="#0013dd"/><stop offset="0.8256" stop-color="#7e008f"/><stop offset="0.8287" stop-color="#670075"/><stop offset="0.8318" stop-color="#670075"/><stop offset="0.8349" stop-color="#5d006b"/><stop offset="0.8503" stop-color="#5d006b"/><stop offset="0.8534" stop-color="#540060"/><stop offset="0.8657" stop-color="#540060"/><stop offset="0.8688" stop-color="#4b0055"/><stop offset="0.8812" stop-color="#4b0055"/><stop offset="0.8843" stop-color="#41004b"/><stop offset="0.8966" stop-color="#41004b"/><stop offset="0.8997" stop-color="#380040"/><stop offset="0.909" stop-color="#380040"/><stop offset="0.912" stop-color="#2f0035"/><stop offset="0.9244" stop-color="#2f0035"/><stop offset="0.9275" stop-color="#25002b"/><stop offset="0.9583" stop-color="#25002b"/><stop offset="0.9614" stop-color="#1c0020"/><stop offset="0.983" stop-color="#1c0020"/><stop offset="0.9861" stop-color="#130015"/><stop offset="1" stop-color="#130015"/></linearGradient>
<linearGradient id="gR17"><stop offset="0" stop-color="#7d008e"/><stop offset="0.001543" stop-color="#7d008e"/><stop offset="0.00463" stop-color="#130015"/><stop offset="0.1898" stop-color="#130015"/><stop offset="0.196" stop-color="#25002b"/><stop offset="0.1991" stop-color="#380040"/><stop offset="0.2022" stop-color="#41004b"/><stop offset="0.2052" stop-color="#700080"/><stop offset="0.2083" stop-color="#7d008e"/><stop offset="0.2176" stop-color="#860097"/><stop offset="0.2207" stop-color="#63009e"/><stop offset="0.2238" stop-color="#0d00a8"/><stop offset="0.2269" stop-color="#0000bd"/><stop offset="0.2299" stop-color="#0000d1"/><stop offset="0.233" stop-color="#0000dd"/><stop offset="0.2423" stop-color="#002fdd"/><stop offset="0.2454" stop-color="#0038dd"/><stop offset="0.2793" stop-color="#0038dd"/><stop offset="0.2824" stop-color="#0041dd"/><stop offset="0.3102" stop-color="#0041dd"/><stop offset="0.3133" stop-color="#004bdd"/><stop offset="0.3225" stop-color="#004bdd"/><stop offset="0.3256" stop-color="#0054dd"/><stop offset="0.3349" stop-color="#0054dd"/><stop offset="0.338" stop-color="#005ddd"/><stop offset="0.3441" stop-color="#005ddd"/><stop offset="0.3472" stop-color="#0067dd"/><stop offset="0.3534" stop-color="#0067dd"/><stop offset="0.3565" stop-color="#0070dd"/><stop offset="0.3627" stop-color="#0070dd"/><stop offset="0.3657" stop-color="#0078dd"/><stop offset="0.4244" stop-color="#0098dd"/><stop offset="0.4522" stop-color="#00a3bf"/><stop offset="0.4892" stop-color="#00aaab"/><stop offset="0.5262" stop-color="#00a8af"/><stop offset="0.5478" stop-color="#00a3bf"/><stop offset="0.5664" stop-color="#009adb"/><stop offset="0.5725" stop-color="#0092dd"/><stop offset="0.588" stop-color="#007add"/><stop offset="0.591" stop-color="#0070dd"/><stop offset="0.5941" stop-color="#005ddd"/><stop offset="0.5972" stop-color="#0041dd"/><stop offset="0.6127" stop-color="#0041dd"/><stop offset="0.6157" stop-color="#0038dd"/><stop offset="0.6188" stop-color="#0025dd"/><stop offset="0.6312" stop-color="#0000dd"/><stop offset="0.6867" stop-color="#0300aa"/><stop offset="0.6898" stop-color="#1800a7"/><stop offset="0.6991" stop-color="#3800a3"/><stop offset="0.7083" stop-color="#4300a2"/><stop offset="0.7176" stop-color="#58009f"/><stop offset="0.7238" stop-color="#58009f"/><stop offset="0.7269" stop-color="#63009e"/><stop offset="0.733" stop-color="#63009e"/><stop offset="0.7361" stop-color="#6d009c"/><stop offset="0.7423" stop-color="#6d009c"/><stop offset="0.7454" stop-color="#009fcb"/><stop offset="0.7485" stop-color="#009fcb"/><stop offset="0.7515" stop-color="#6d009c"/><stop offset="0.7577" stop-color="#6d009c"/><stop offset="0.7608" stop-color="#008add"/><stop offset="0.767" stop-color="#008add"/><stop offset="0.7701" stop-color="#0000dd"/><stop offset="0.7731" stop-color="#0092dd"/><stop offset="0.7793" stop-color="#0092dd"/><stop offset="0.7824" stop-color="#00a7b3"/><stop offset="0.7855" stop-color="#00a7b3"/><stop offset="0.7886" stop-color="#0000d1"/><stop offset="0.7948" stop-color="#0000d1"/><stop offset="0.7978" stop-color="#0098dd"/><stop offset="0.804" stop-color="#0098dd"/><stop offset="0.8071" stop-color="#0000c9"/><stop offset="0.8164" stop-color="#0000c9"/><stop offset="0.8194" stop-color="#0013dd"/><stop offset="0.8225" stop-color="#0013dd"/><stop offset="0.8256" stop-color="#7b008c"/><stop offset="0.8287" stop-color="#5d006b"/><stop offset="0.8318" stop-color="#5d006b"/><stop offset="0.8349" stop-color="#540060"/><stop offset="0.8503" stop-color="#540060"/><stop offset="0.8534" stop-color="#4b0055"/><stop offset="0.8688" stop-color="#4b0055"/><stop offset="0.8719" stop-color="#41004b"/><stop offset="0.8843" stop-color="#41004b"/><stop offset="0.8873" stop-color="#380040"/><stop offset="0.8997" stop-color="#380040"/><stop offset="0.9028" stop-color="#2f0035"/><stop offset="0.9182" stop-color="#2f0035"/><stop offset="0.9213" stop-color="#25002b"/><stop offset="0.9429" stop-color="#25002b"/><stop offset="0.946" stop-color="#1c0020"/><stop offset="0.9769" stop-color="#1c0020"/><stop offset="0.9799" stop-color="#130015"/><stop offset="1" stop-color="#130015"/></linearGradient>
<linearGradient id="gR18"><stop offset="0" stop-color="#7d008e"/><stop offset="0.001543" stop-color="#7d008e"/><stop offset="0.00463" stop-color="#130015"/><stop offset="0.1898" stop-color="#130015"/><stop offset="0.196" stop-color="#25002b"/><stop offset="0.1991" stop-color="#380040"/><stop offset="0.2022" stop-color="#41004b"/><stop offset="0.2052" stop-color="#700080"/><stop offset="0.2083" stop-color="#7d008e"/><stop offset="0.2176" stop-color="#860097"/><stop offset="0.2207" stop-color="#63009e"/><stop offset="0.2238" stop-color="#0d00a8"/><stop offset="0.2269" stop-color="#0000bd"/><stop offset="0.2299" stop-color="#0000d1"/><stop offset="0.233" stop-color="#0009dd"/><stop offset="0.2454" stop-color="#0078dd"/><stop offset="0.2639" stop-color="#0098dd"/><stop offset="0.267" stop-color="#009bd7"/><stop offset="0.341" stop-color="#009ecf"/><stop offset="0.375" stop-color="#00a2c3"/><stop offset="0.4182" stop-color="#00aaa8"/><stop offset="0.4799" stop-color="#00aa90"/><stop offset="0.5201" stop-color="#00aa90"/><stop offset="0.5571" stop-color="#00aa9d"/><stop offset="0.5849" stop-color="#00a4bb"/><stop offset="0.591" stop-color="#009adb"/><stop offset="0.5941" stop-color="#0092dd"/><stop offset="0.5972" stop-color="#0088dd"/><stop offset="0.6096" stop-color="#0078dd"/><stop offset="0.6127" stop-color="#0067dd"/><stop offset="0.6343" stop-color="#0025dd"/><stop offset="0.6373" stop-color="#0025dd"/><stop offset="0.6497" stop-color="#0000dd"/><stop offset="0.6744" stop-color="#0000c9"/><stop offset="0.6929" stop-color="#0000ad"/><stop offset="0.696" stop-color="#0300aa"/><stop offset="0.7022" stop-color="#1800a7"/><stop offset="0.7114" stop-color="#2300a6"/><stop offset="0.7176" stop-color="#3800a3"/><stop offset="0.7238" stop-color="#3800a3"/><stop offset="0.7269" stop-color="#4300a2"/><stop offset="0.733" stop-color="#4300a2"/><stop offset="0.7361" stop-color="#4d00a0"/><stop offset="0.7423" stop-color="#4d00a0"/><stop offset="0.7454" stop-color="#009fcb"/><stop offset="0.7485" stop-color="#009fcb"/><stop offset="0.7515" stop-color="#4d00a0"/><stop offset="0.7577" stop-color="#4d00a0"/><stop offset="0.7608" stop-color="#008add"/><stop offset="0.767" stop-color="#008add"/><stop offset="0.7701" stop-color="#0000dd"/><stop offset="0.7731" stop-color="#0092dd"/><stop offset="0.7793" stop-color="#0092dd"/><stop offset="0.7824" stop-color="#00a7b3"/><stop offset="0.7855" stop-color="#00a7b3"/><stop offset="0.7886" stop-color="#0000d1"/><stop offset="0.7948" stop-color="#0000d1"/><stop offset="0.7978" stop-color="#0098dd"/><stop offset="0.804" stop-color="#0098dd"/><stop offset="0.8071" stop-color="#0000c9"/><stop offset="0.8164" stop-color="#0000c9"/><stop offset="0.8194" stop-color="#0013dd"/><stop offset="0.8225" stop-color="#0013dd"/><stop offset="0.8256" stop-color="#7e008f"/><stop offset="0.8287" stop-color="#670075"/><stop offset="0.8318" stop-color="#670075"/><stop offset="0.8349" stop-color="#5d006b"/><stop offset="0.8503" stop-color="#5d006b"/><stop offset="0.8534" stop-color="#540060"/><stop offset="0.8657" stop-color="#540060"/><stop offset="0.8688" stop-color="#4b0055"/><stop offset="0.8812" stop-color="#4b0055"/><stop offset="0.8843" stop-color="#41004b"/><stop offset="0.8966" stop-color="#41004b"/><stop offset="0.8997" stop-color="#380040"/><stop offset="0.909" stop-color="#380040"/><stop offset="0.912" stop-color="#2f0035"/><stop offset="0.9244" stop-color="#2f0035"/><stop offset="0.9275" stop-color="#25002b"/><stop offset="0.9583" stop-color="#25002b"/><stop offset="0.9614" stop-color="#1c0020"/><stop offset="0.983" stop-color="#1c0020"/><stop offset="0.9861" stop-color="#130015"/><stop offset="1" stop-color="#130015"/></linearGradient>
<linearGradient id="gR19"><stop offset="0" stop-color="#7d008e"/><stop offset="0.001543" stop-color="#7d008e"/><stop offset="0.00463" stop-color="#000000"/><stop offset="0.2145" stop-color="#000000"/><stop offset="0.2238" stop-color="#130015"/><stop offset="0.2269" stop-color="#130015"/><stop offset="0.2299" stop-color="#09000b"/><stop offset="0.2392" stop-color="#09000b"/><stop offset="0.2423" stop-color="#130015"/><stop offset="0.2454" stop-color="#130015"/><stop offset="0.2485" stop-color="#09000b"/><stop offset="0.2824" stop-color="#09000b"/><stop offset="0.2855" stop-color="#130015"/><stop offset="0.3009" stop-color="#130015"/><stop offset="0.304" stop-color="#09000b"/><stop offset="0.3133" stop-color="#09000b"/><stop offset="0.3318" stop-color="#09000b"/><stop offset="0.3349" stop-color="#130015"/><stop offset="0.338" stop-color="#130015"/><stop offset="0.341" stop-color="#09000b"/><stop offset="0.3503" stop-color="#09000b"/><stop offset="0.3534" stop-color="#130015"/><stop offset="0.3565" stop-color="#130015"/><stop offset="0.3596" stop-color="#09000b"/><stop offset="0.3688" stop-color="#09000b"/><stop offset="0.3719" stop-color="#130015"/><stop offset="0.3812" stop-color="#130015"/><stop offset="0.3843" stop-color="#09000b"/><stop offset="0.3935" stop-color="#09000b"/><stop offset="0.3966" stop-color="#130015"/><stop offset="0.4059" stop-color="#130015"/><stop offset="0.409" stop-color="#09000b"/><stop offset="0.412" stop-color="#09000b"/><stop offset="0.4151" stop-color="#130015"/><stop offset="0.4182" stop-color="#130015"/><stop offset="0.4213" stop-color="#09000b"/><stop offset="0.4244" stop-color="#09000b"/><stop offset="0.4275" stop-color="#130015"/><stop offset="0.4367" stop-color="#09000b"/><stop offset="0.4398" stop-color="#130015"/><stop offset="0.4491" stop-color="#130015"/><stop offset="0.4522" stop-color="#09000b"/><stop offset="0.4861" stop-color="#09000b"/><stop offset="0.4892" stop-color="#130015"/><stop offset="0.4923" stop-color="#130015"/><stop offset="0.4954" stop-color="#09000b"/><stop offset="0.5046" stop-color="#09000b"/><stop offset="0.5077" stop-color="#130015"/><stop offset="0.5108" stop-color="#130015"/><stop offset="0.5139" stop-color="#09000b"/><stop offset="0.5293" stop-color="#09000b"/><stop offset="0.5324" stop-color="#130015"/><stop offset="0.5417" stop-color="#130015"/><stop offset="0.5448" stop-color="#09000b"/><stop offset="0.554" stop-color="#130015"/><stop offset="0.5571" stop-color="#09000b"/><stop offset="0.5725" stop-color="#09000b"/><stop offset="0.5756" stop-color="#130015"/><stop offset="0.5787" stop-color="#130015"/><stop offset="0.5818" stop-color="#09000b"/><stop offset="0.6281" stop-color="#09000b"/><stop offset="0.6312" stop-color="#130015"/><stop offset="0.6343" stop-color="#130015"/><stop offset="0.6373" stop-color="#09000b"/><stop offset="0.6775" stop-color="#09000b"/><stop offset="0.6806" stop-color="#130015"/><stop offset="0.6836" stop-color="#130015"/><stop offset="0.6867" stop-color="#09000b"/><stop offset="0.7083" stop-color="#09000b"/><stop offset="0.7114" stop-color="#130015"/><stop offset="0.7145" stop-color="#130015"/><stop offset="0.7176" stop-color="#09000b"/><stop offset="0.7207" stop-color="#09000b"/><stop offset="0.7238" stop-color="#130015"/><stop offset="0.7269" stop-color="#130015"/><stop offset="0.7299" stop-color="#09000b"/><stop offset="0.7454" stop-color="#09000b"/><stop offset="0.7485" stop-color="#130015"/><stop offset="0.7515" stop-color="#130015"/><stop offset="0.7546" stop-color="#09000b"/><stop offset="0.7886" stop-color="#09000b"/><stop offset="0.7917" stop-color="#130015"/><stop offset="0.8071" stop-color="#130015"/><stop offset="0.8102" stop-color="#09000b"/><stop offset="0.8256" stop-color="#09000b"/><stop offset="0.8287" stop-color="#130015"/><stop offset="0.8318" stop-color="#130015"/><stop offset="0.8349" stop-color="#09000b"/><stop offset="0.838" stop-color="#09000b"/><stop offset="0.841" stop-color="#130015"/><stop offset="0.8441" stop-color="#130015"/><stop offset="0.8472" stop-color="#09000b"/><stop offset="0.8565" stop-color="#09000b"/><stop offset="0.8596" stop-color="#130015"/><stop offset="0.8627" stop-color="#130015"/><stop offset="0.8657" stop-color="#09000b"/><stop offset="0.8688" stop-color="#09000b"/><stop offset="0.8719" stop-color="#130015"/><stop offset="0.875" stop-color="#130015"/><stop offset="0.8781" stop-color="#09000b"/><stop offset="0.9182" stop-color="#09000b"/><stop offset="0.9213" stop-color="#130015"/><stop offset="0.9367" stop-color="#130015"/><stop offset="0.946" stop-color="#000000"/><stop offset="0.9491" stop-color="#000000"/><stop offset="0.9522" stop-color="#09000b"/><stop offset="0.9676" stop-color="#09000b"/><stop offset="0.9707" stop-color="#000000"/><stop offset="0.9738" stop-color="#000000"/><stop offset="0.9769" stop-color="#09000b"/><stop offset="0.9861" stop-color="#09000b"/><stop offset="0.9892" stop-color="#000000"/><stop offset="0.9923" stop-color="#000000"/><stop offset="0.9954" stop-color="#09000b"/><stop offset="1" stop-color="#09000b"/></linearGradient>
<linearGradient id="gR20"><stop offset="0" stop-color="#7d008e"/><stop offset="0.001543" stop-color="#7d008e"/><stop offset="0.00463" stop-color="#130015"/><stop offset="0.0108" stop-color="#130015"/><stop offset="0.01389" stop-color="#1c0020"/><stop offset="0.03549" stop-color="#1c0020"/><stop offset="0.03858" stop-color="#130015"/><stop offset="0.04167" stop-color="#130015"/><stop offset="0.05093" stop-color="#25002b"/><stop offset="0.05401" stop-color="#25002b"/><stop offset="0.0571" stop-color="#1c0020"/><stop offset="0.06636" stop-color="#1c0020"/><stop offset="0.06944" stop-color="#130015"/><stop offset="0.07253" stop-color="#130015"/><stop offset="0.07562" stop-color="#1c0020"/><stop offset="0.08488" stop-color="#1c0020"/><stop offset="0.08796" stop-color="#130015"/><stop offset="0.09105" stop-color="#130015"/><stop offset="0.09414" stop-color="#1c0020"/><stop offset="0.09722" stop-color="#1c0020"/><stop offset="0.1003" stop-color="#130015"/><stop offset="0.1065" stop-color="#130015"/><stop offset="0.1096" stop-color="#130015"/><stop offset="0.1127" stop-color="#1c0020"/><stop offset="0.1157" stop-color="#1c0020"/><stop offset="0.1188" stop-color="#130015"/><stop offset="0.1219" stop-color="#130015"/><stop offset="0.125" stop-color="#1c0020"/><stop offset="0.1466" stop-color="#1c0020"/><stop offset="0.1497" stop-color="#130015"/><stop offset="0.159" stop-color="#130015"/><stop offset="0.162" stop-color="#1c0020"/><stop offset="0.1713" stop-color="#1c0020"/><stop offset="0.1744" stop-color="#130015"/><stop offset="0.1775" stop-color="#130015"/><stop offset="0.1806" stop-color="#1c0020"/><stop offset="0.2145" stop-color="#1c0020"/><stop offset="0.2176" stop-color="#25002b"/><stop offset="0.2269" stop-color="#25002b"/><stop offset="0.2361" stop-color="#130015"/><stop offset="0.2392" stop-color="#130015"/><stop offset="0.2423" stop-color="#1c0020"/><stop offset="0.2454" stop-color="#1c0020"/><stop offset="0.2485" stop-color="#130015"/><stop offset="0.2515" stop-color="#130015"/><stop offset="0.2546" stop-color="#1c0020"/><stop offset="0.2577" stop-color="#1c0020"/><stop offset="0.2608" stop-color="#130015"/><stop offset="0.2639" stop-color="#130015"/><stop offset="0.267" stop-color="#1c0020"/><stop offset="0.2762" stop-color="#130015"/><stop offset="0.2793" stop-color="#1c0020"/><stop offset="0.2886" stop-color="#1c0020"/><stop offset="0.2917" stop-color="#25002b"/><stop offset="0.2948" stop-color="#25002b"/><stop offset="0.2978" stop-color="#1c0020"/><stop offset="0.3194" stop-color="#1c0020"/><stop offset="0.3225" stop-color="#130015"/><stop offset="0.3256" stop-color="#130015"/><stop offset="0.3287" stop-color="#1c0020"/><stop offset="0.338" stop-color="#1c0020"/><stop offset="0.341" stop-color="#130015"/><stop offset="0.3503" stop-color="#130015"/><stop offset="0.3534" stop-color="#1c0020"/><stop offset="0.375" stop-color="#1c0020"/><stop offset="0.3781" stop-color="#25002b"/><stop offset="0.3812" stop-color="#25002b"/><stop offset="0.3843" stop-color="#1c0020"/><stop offset="0.3935" stop-color="#1c0020"/><stop offset="0.3966" stop-color="#25002b"/><stop offset="0.4059" stop-color="#25002b"/><stop offset="0.409" stop-color="#1c0020"/><stop offset="0.412" stop-color="#1c0020"/><stop offset="0.4151" stop-color="#25002b"/><stop offset="0.4182" stop-color="#25002b"/><stop offset="0.4213" stop-color="#1c0020"/><stop offset="0.4244" stop-color="#1c0020"/><stop offset="0.4275" stop-color="#25002b"/><stop offset="0.4367" stop-color="#1c0020"/><stop offset="0.446" stop-color="#2f0035"/><stop offset="0.4491" stop-color="#2f0035"/><stop offset="0.4522" stop-color="#25002b"/><stop offset="0.4738" stop-color="#25002b"/><stop offset="0.4769" stop-color="#1c0020"/><stop offset="0.4861" stop-color="#1c0020"/><stop offset="0.4892" stop-color="#2f0035"/><stop offset="0.4923" stop-color="#2f0035"/><stop offset="0.4954" stop-color="#25002b"/><stop offset="0.5046" stop-color="#25002b"/><stop offset="0.5077" stop-color="#2f0035"/><stop offset="0.5108" stop-color="#2f0035"/><stop offset="0.5139" stop-color="#25002b"/><stop offset="0.5231" stop-color="#25002b"/><stop offset="0.5262" stop-color="#1c0020"/><stop offset="0.5293" stop-color="#1c0020"/><stop offset="0.5324" stop-color="#2f0035"/><stop offset="0.554" stop-color="#2f0035"/><stop offset="0.5571" stop-color="#25002b"/><stop offset="0.5664" stop-color="#25002b"/><stop offset="0.5694" stop-color="#1c0020"/><stop offset="0.5725" stop-color="#1c0020"/><stop offset="0.5756" stop-color="#2f0035"/><stop offset="0.5787" stop-color="#2f0035"/><stop offset="0.5818" stop-color="#25002b"/><stop offset="0.6219" stop-color="#25002b"/><stop offset="0.625" stop-color="#1c0020"/><stop offset="0.6281" stop-color="#1c0020"/><stop offset="0.6312" stop-color="#2f0035"/><stop offset="0.6343" stop-color="#2f0035"/><stop offset="0.6373" stop-color="#25002b"/><stop offset="0.6466" stop-color="#25002b"/><stop offset="0.6497" stop-color="#1c0020"/><stop offset="0.6528" stop-color="#1c0020"/><stop offset="0.6559" stop-color="#25002b"/><stop offset="0.6651" stop-color="#1c0020"/><stop offset="0.6682" stop-color="#25002b"/><stop offset="0.6775" stop-color="#25002b"/><stop offset="0.6806" stop-color="#2f0035"/><stop offset="0.6836" stop-color="#2f0035"/><stop offset="0.6929" stop-color="#1c0020"/><stop offset="0.696" stop-color="#1c0020"/><stop offset="0.6991" stop-color="#25002b"/><stop offset="0.7083" stop-color="#25002b"/><stop offset="0.7114" stop-color="#2f0035"/><stop offset="0.7145" stop-color="#2f0035"/><stop offset="0.7176" stop-color="#25002b"/><stop offset="0.7207" stop-color="#25002b"/><stop offset="0.7238" stop-color="#2f0035"/><stop offset="0.7269" stop-color="#2f0035"/><stop offset="0.7299" stop-color="#25002b"/><stop offset="0.7454" stop-color="#25002b"/><stop offset="0.7485" stop-color="#2f0035"/><stop offset="0.7515" stop-color="#2f0035"/><stop offset="0.7546" stop-color="#25002b"/><stop offset="0.7886" stop-color="#25002b"/><stop offset="0.7917" stop-color="#2f0035"/><stop offset="0.8071" stop-color="#2f0035"/><stop offset="0.8102" stop-color="#1c0020"/><stop offset="0.8133" stop-color="#1c0020"/><stop offset="0.8164" stop-color="#25002b"/><stop offset="0.8256" stop-color="#25002b"/><stop offset="0.8287" stop-color="#2f0035"/><stop offset="0.8318" stop-color="#2f0035"/><stop offset="0.8349" stop-color="#25002b"/><stop offset="0.8441" stop-color="#2f0035"/><stop offset="0.8472" stop-color="#1c0020"/><stop offset="0.8503" stop-color="#1c0020"/><stop offset="0.8596" stop-color="#2f0035"/><stop offset="0.8627" stop-color="#2f0035"/><stop offset="0.8657" stop-color="#25002b"/><stop offset="0.875" stop-color="#2f0035"/><stop offset="0.8843" stop-color="#1c0020"/><stop offset="0.9059" stop-color="#1c0020"/><stop offset="0.909" stop-color="#130015"/><stop offset="0.9182" stop-color="#130015"/><stop offset="0.9213" stop-color="#25002b"/><stop offset="0.9367" stop-color="#25002b"/><stop offset="0.946" stop-color="#130015"/><stop offset="0.9552" stop-color="#130015"/><stop offset="0.9583" stop-color="#1c0020"/><stop offset="0.9614" stop-color="#1c0020"/><stop offset="0.9707" stop-color="#09000b"/><stop offset="0.9738" stop-color="#09000b"/><stop offset="0.9769" stop-color="#130015"/><stop offset="0.9861" stop-color="#130015"/><stop offset="0.9892" stop-color="#09000b"/><stop offset="0.9923" stop-color="#09000b"/><stop offset="0.9954" stop-color="#1c0020"/><stop offset="1" stop-color="#1c0020"/></linearGradient>
<linearGradient id="gR21"><stop offset="0" stop-color="#7d008e"/><stop offset="0.001543" stop-color="#7d008e"/><stop offset="0.00463" stop-color="#130015"/><stop offset="0.04784" stop-color="#130015"/><stop offset="0.05093" stop-color="#1c0020"/><stop offset="0.06636" stop-color="#1c0020"/><stop offset="0.06944" stop-color="#130015"/><stop offset="0.07253" stop-color="#130015"/><stop offset="0.07562" stop-color="#1c0020"/><stop offset="0.08179" stop-color="#1c0020"/><stop offset="0.08488" stop-color="#1c0020"/><stop offset="0.08796" stop-color="#130015"/><stop offset="0.1219" stop-color="#130015"/><stop offset="0.125" stop-color="#1c0020"/><stop offset="0.1343" stop-color="#1c0020"/><stop offset="0.1373" stop-color="#130015"/><stop offset="0.1806" stop-color="#130015"/><stop offset="0.1867" stop-color="#380040"/><stop offset="0.1898" stop-color="#41004b"/><stop offset="0.1929" stop-color="#79008a"/><stop offset="0.1991" stop-color="#870098"/><stop offset="0.2022" stop-color="#58009f"/><stop offset="0.2052" stop-color="#0000dd"/><stop offset="0.2083" stop-color="#0078dd"/><stop offset="0.2114" stop-color="#0098dd"/><stop offset="0.2145" stop-color="#00aa98"/><stop offset="0.2176" stop-color="#009a00"/><stop offset="0.2238" stop-color="#00dc00"/><stop offset="0.2269" stop-color="#00e200"/><stop offset="0.2485" stop-color="#00f400"/><stop offset="0.3102" stop-color="#00fa00"/><stop offset="0.4028" stop-color="#00dc00"/><stop offset="0.5571" stop-color="#00ca00"/><stop offset="0.5787" stop-color="#009f00"/><stop offset="0.5818" stop-color="#009b13"/><stop offset="0.588" stop-color="#00a353"/><stop offset="0.5941" stop-color="#00a97d"/><stop offset="0.5972" stop-color="#00aa8b"/><stop offset="0.6157" stop-color="#00aaa8"/><stop offset="0.6343" stop-color="#009ecf"/><stop offset="0.6466" stop-color="#0095dd"/><stop offset="0.6775" stop-color="#0078dd"/><stop offset="0.6806" stop-color="#0067dd"/><stop offset="0.6867" stop-color="#0054dd"/><stop offset="0.6898" stop-color="#0041dd"/><stop offset="0.7052" stop-color="#0013dd"/><stop offset="0.7083" stop-color="#0000dd"/><stop offset="0.7423" stop-color="#0000b1"/><stop offset="0.7454" stop-color="#0098dd"/><stop offset="0.7485" stop-color="#0098dd"/><stop offset="0.7515" stop-color="#0000b1"/><stop offset="0.7577" stop-color="#0000b1"/><stop offset="0.7608" stop-color="#0085dd"/><stop offset="0.767" stop-color="#0085dd"/><stop offset="0.7701" stop-color="#0000ad"/><stop offset="0.7731" stop-color="#0085dd"/><stop offset="0.7793" stop-color="#0085dd"/><stop offset="0.7824" stop-color="#0098dd"/><stop offset="0.7855" stop-color="#0098dd"/><stop offset="0.7886" stop-color="#0000ad"/><stop offset="0.7948" stop-color="#0300aa"/><stop offset="0.7978" stop-color="#008add"/><stop offset="0.804" stop-color="#008add"/><stop offset="0.8071" stop-color="#0300aa"/><stop offset="0.8164" stop-color="#0d00a8"/><stop offset="0.8194" stop-color="#002fdd"/><stop offset="0.8225" stop-color="#002fdd"/><stop offset="0.8256" stop-color="#58009f"/><stop offset="0.8287" stop-color="#870098"/><stop offset="0.9275" stop-color="#870098"/><stop offset="0.9552" stop-color="#770088"/><stop offset="0.9738" stop-color="#41004b"/><stop offset="0.9769" stop-color="#41004b"/><stop offset="0.983" stop-color="#2f0035"/><stop offset="0.9861" stop-color="#2f0035"/><stop offset="0.9954" stop-color="#1c0020"/><stop offset="1" stop-color="#1c0020"/></linearGradient></defs>
<rect width="640" height="440" fill="#fff"/>
<rect x="49" y="28.00" width="266" height="17.72" fill="url(#gL0)"/>
<rect x="49" y="44.72" width="266" height="17.72" fill="url(#gL1)"/>
<rect x="49" y="61.44" width="266" height="17.72" fill="url(#gL2)"/>
<rect x="49" y="78.15" width="266" height="17.72" fill="url(#gL3)"/>
<rect x="49" y="94.87" width="266" height="17.72" fill="url(#gL4)"/>
<rect x="49" y="111.59" width="266" height="17.72" fill="url(#gL5)"/>
<rect x="49" y="128.31" width="266" height="17.72" fill="url(#gL6)"/>
<rect x="49" y="145.03" width="266" height="17.72" fill="url(#gL7)"/>
<rect x="49" y="161.75" width="266" height="17.72" fill="url(#gL8)"/>
<rect x="49" y="178.46" width="266" height="17.72" fill="url(#gL9)"/>
<rect x="49" y="195.18" width="266" height="17.72" fill="url(#gL10)"/>
<rect x="49" y="211.90" width="266" height="17.72" fill="url(#gL11)"/>
<rect x="49" y="228.62" width="266" height="17.72" fill="url(#gL12)"/>
<rect x="49" y="245.34" width="266" height="17.72" fill="url(#gL13)"/>
<rect x="49" y="262.05" width="266" height="17.72" fill="url(#gL14)"/>
<rect x="49" y="278.77" width="266" height="17.72" fill="url(#gL15)"/>
<rect x="49" y="295.49" width="266" height="17.72" fill="url(#gL16)"/>
<rect x="49" y="312.21" width="266" height="17.72" fill="url(#gL17)"/>
<rect x="49" y="328.93" width="266" height="17.72" fill="url(#gL18)"/>
<rect x="49" y="345.65" width="266" height="17.72" fill="url(#gL19)"/>
<rect x="49" y="362.36" width="266" height="17.72" fill="url(#gL20)"/>
<rect x="49" y="379.08" width="266" height="16.72" fill="url(#gL21)"/>
<rect x="147.6" y="295.49" width="0.8" height="16.72" fill="#a8e010"/><rect x="148.3" y="295.49" width="0.9" height="16.72" fill="#e4e4dc"/><path d="M69.5 284 h5.1" stroke="#fff" stroke-width="1.1"/><text x="79.5" y="289.3" fill="#fff" font-size="13.89">0</text><path d="M69.5 235.8 h5.1" stroke="#fff" stroke-width="1.1"/><text x="79.5" y="241.1" fill="#fff" font-size="13.89">5</text><path d="M69.5 187.6 h5.1" stroke="#fff" stroke-width="1.1"/><text x="79.5" y="192.9" fill="#fff" font-size="13.89">10</text><path d="M69.5 139.4 h5.1" stroke="#fff" stroke-width="1.1"/><text x="79.5" y="144.7" fill="#fff" font-size="13.89">15</text><path d="M69.5 91.2 h5.1" stroke="#fff" stroke-width="1.1"/><text x="79.5" y="96.5" fill="#fff" font-size="13.89">20</text><path d="M69.5 43 h5.1" stroke="#fff" stroke-width="1.1"/><text x="79.5" y="48.3" fill="#fff" font-size="13.89">25</text><polyline fill="none" stroke="#fff" stroke-width="2.9" stroke-linejoin="round" stroke-linecap="round" points="49.5,20.0 49.5,284.1 101.0,284.1"/><polyline fill="none" stroke="#fff" stroke-width="2.5" stroke-linejoin="round" stroke-linecap="round" points="100.0,284.0 100.5,283.8 101.0,283.5 101.5,283.2 102.0,283.0 102.5,281.0 103.0,279.0 103.5,277.0 104.0,273.3 104.5,269.7 105.0,266.0 105.5,262.5 106.0,259.0 106.5,255.5 107.0,252.0 107.5,248.5 108.0,245.0 108.5,241.5 109.0,238.0 109.5,234.5 110.0,231.0 110.5,227.5 111.0,224.0 111.5,221.0 112.0,218.0 112.5,214.6 113.0,211.5 113.5,209.5 114.0,207.7 114.5,205.8 115.0,204.1 115.5,203.4 116.0,202.8 116.5,202.0 117.0,201.1 117.5,200.2 118.0,199.1 118.5,198.8 119.0,198.5 119.5,198.2 120.0,198.0 120.5,197.9 121.0,197.9 121.5,197.9 122.0,198.0 122.5,198.1 123.0,198.1 123.5,198.1 124.0,197.7 124.5,197.1 125.0,196.4 125.5,195.7 126.0,195.0 126.5,194.3 127.0,193.8 127.5,193.3 128.0,193.0 128.5,193.3 129.0,193.8 129.5,194.3 130.0,194.7 130.5,195.3 131.0,195.8 131.5,196.2 132.0,196.5 132.5,196.8 133.0,196.6 133.5,196.5 134.0,196.4 134.5,196.4 135.0,196.6 135.5,196.8 136.0,197.0 136.5,197.1 137.0,197.1 137.5,197.0 138.0,196.8 138.5,196.6 139.0,196.2 139.5,195.8 140.0,195.5 140.5,195.2 141.0,195.0 141.5,194.9 142.0,194.9 142.5,194.9 143.0,195.0 143.5,195.1 144.0,195.0 144.5,194.9 145.0,194.8 145.5,194.3 146.0,193.8 146.5,193.2 147.0,192.7 147.5,192.2 148.0,191.8 148.5,191.5 149.0,191.3 149.5,191.2 150.0,191.1 150.5,191.0 151.0,190.8 151.5,190.4 152.0,190.0 152.5,189.6 153.0,189.0 153.5,188.4 154.0,187.9 154.5,187.4 155.0,187.0 155.5,186.6 156.0,186.3 156.5,186.0 157.0,185.8 157.5,185.6 158.0,185.3 158.5,184.8 159.0,184.3 159.5,183.8 160.0,183.1 160.5,182.1 161.0,181.1 161.5,180.1 162.0,179.3 162.5,178.6 163.0,177.9 163.5,177.3 164.0,177.0 164.5,176.9 165.0,176.8 165.5,176.5 166.0,176.2 166.5,175.8 167.0,175.3 167.5,174.8 168.0,174.3 168.5,173.9 169.0,173.6 169.5,173.3 170.0,173.2 170.5,172.9 171.0,172.6 171.5,172.3 172.0,171.9 172.5,171.4 173.0,170.8 173.5,170.1 174.0,169.4 174.5,168.7 175.0,168.0 175.5,167.3 176.0,166.8 176.5,166.4 177.0,166.3 177.5,166.3 178.0,166.2 178.5,166.2 179.0,166.1 179.5,165.8 180.0,165.5 180.5,165.1 181.0,164.6 181.5,164.2 182.0,163.7 182.5,163.3 183.0,163.0 183.5,162.8 184.0,162.7 184.5,162.7 185.0,162.6 185.5,162.6 186.0,162.4 186.5,162.2 187.0,162.0 187.5,162.1 188.0,162.2 188.5,162.2 189.0,162.3 189.5,162.5 190.0,162.7 190.5,163.2 191.0,163.8 191.5,164.4 192.0,165.1 192.5,165.7 193.0,166.3 193.5,166.7 194.0,167.1 194.5,167.3 195.0,167.6 195.5,167.9 196.0,168.3 196.5,168.7 197.0,169.3 197.5,169.9 198.0,170.7 198.5,171.4 199.0,172.2 199.5,173.0 200.0,173.7 200.5,174.6 201.0,175.4 201.5,176.1 202.0,176.8 202.5,177.4 203.0,178.1 203.5,178.9 204.0,179.7 204.5,180.7 205.0,181.7 205.5,182.7 206.0,183.7 206.5,184.6 207.0,185.5 207.5,186.2 208.0,186.9 208.5,187.5 209.0,188.0 209.5,188.6 210.0,189.1 210.5,190.0 211.0,191.0 211.5,192.1 212.0,193.3 212.5,194.5 213.0,195.7 213.5,196.9 214.0,198.0 214.5,199.0 215.0,199.9 215.5,200.7 216.0,201.5 216.5,202.3 217.0,203.1 217.5,204.0 218.0,205.0 218.5,206.1 219.0,207.3 219.5,208.7 220.0,210.2 220.5,211.6 221.0,213.0 221.5,214.2 222.0,215.4 222.5,216.5 223.0,217.5 223.5,218.6 224.0,219.6 224.5,220.4 225.0,221.2 225.5,222.1 226.0,223.1 226.5,224.2 227.0,225.2 227.5,226.3 228.0,227.2 228.5,228.1 229.0,228.8 229.5,229.5 230.0,230.1 230.5,230.6 231.0,231.1 231.5,231.6 232.0,232.2 232.5,232.9 233.0,233.7 233.5,234.5 234.0,235.4 234.5,236.2 235.0,236.9 235.5,237.5 236.0,238.1 236.5,238.5 237.0,238.7 237.5,238.9 238.0,239.1 238.5,239.4 239.0,239.8 239.5,240.3 240.0,240.9 240.5,241.5 241.0,242.1 241.5,242.7 242.0,243.2 242.5,243.6 243.0,243.9 243.5,244.0 244.0,244.0 244.5,244.0 245.0,244.1 245.5,244.3 246.0,244.5"/><polyline fill="none" stroke="#fff" stroke-width="2.5" stroke-linejoin="round" stroke-linecap="round" points="100.0,284.0 100.5,283.8 101.0,283.6 101.5,283.3 102.0,283.1 102.5,281.4 103.0,279.8 103.5,277.9 104.0,274.6 104.5,271.4 105.0,267.9 105.5,264.5 106.0,261.2 106.5,257.8 107.0,254.4 107.5,251.0 108.0,247.6 108.5,244.2 109.0,240.8 109.5,237.4 110.0,234.0 110.5,230.6 111.0,227.2 111.5,224.2 112.0,221.2 112.5,217.8 113.0,215.0 113.5,213.1 114.0,211.2 114.5,209.4 115.0,207.5 115.5,206.5 116.0,205.4 116.5,204.3 117.0,203.2 117.5,202.1 118.0,201.0 118.5,200.5 119.0,200.1 119.5,200.0 120.0,199.9 120.5,199.9 121.0,199.9 121.5,199.9 122.0,199.8 122.5,199.7 123.0,199.5 123.5,199.2 124.0,198.7 124.5,198.0 125.0,197.3 125.5,196.7 126.0,196.1 126.5,195.7 127.0,195.4 127.5,195.1 128.0,194.8 128.5,195.1 129.0,195.5 129.5,195.9 130.0,196.1 130.5,196.5 131.0,196.7 131.5,197.0 132.0,197.3 132.5,197.7 133.0,197.7 133.5,197.7 134.0,197.9 134.5,198.1 135.0,198.4 135.5,198.6 136.0,198.7 136.5,198.7 137.0,198.5 137.5,198.2 138.0,197.9 138.5,197.6 139.0,197.2 139.5,197.0 140.0,196.8 140.5,196.7 141.0,196.7 141.5,196.8 142.0,196.9 142.5,196.9 143.0,196.9 143.5,196.8 144.0,196.6 144.5,196.3 145.0,195.9 145.5,195.4 146.0,194.9 146.5,194.4 147.0,194.1 147.5,193.8 148.0,193.6 148.5,193.5 149.0,193.4 149.5,193.3 150.0,193.1 150.5,192.8 151.0,192.4 151.5,191.9 152.0,191.3 152.5,190.8 153.0,190.2 153.5,189.8 154.0,189.4 154.5,189.1 155.0,188.9 155.5,188.7 156.0,188.5 156.5,188.3 157.0,188.0 157.5,187.6 158.0,187.0 158.5,186.4 159.0,185.7 159.5,185.0 160.0,184.3 160.5,183.3 161.0,182.3 161.5,181.5 162.0,180.7 162.5,180.0 163.0,179.3 163.5,178.6 164.0,178.1 164.5,177.9 165.0,177.6 165.5,177.1 166.0,176.7 166.5,176.2 167.0,175.7 167.5,175.3 168.0,175.0 168.5,174.9 169.0,174.8 169.5,174.7 170.0,174.7 170.5,174.4 171.0,174.0 171.5,173.5 172.0,173.0 172.5,172.3 173.0,171.6 173.5,170.9 174.0,170.2 174.5,169.6 175.0,169.1 175.5,168.7 176.0,168.4 176.5,168.3 177.0,168.3 177.5,168.2 178.0,168.1 178.5,167.8 179.0,167.5 179.5,167.1 180.0,166.6 180.5,166.2 181.0,165.7 181.5,165.4 182.0,165.1 182.5,165.0 183.0,164.9 183.5,164.9 184.0,164.9 184.5,164.8 185.0,164.7 185.5,164.4 186.0,164.1 186.5,163.7 187.0,163.4 187.5,163.4 188.0,163.5 188.5,163.7 189.0,164.0 189.5,164.3 190.0,164.8 190.5,165.4 191.0,166.1 191.5,166.7 192.0,167.2 192.5,167.7 193.0,168.0 193.5,168.3 194.0,168.5 194.5,168.7 195.0,168.9 195.5,169.4 196.0,170.0 196.5,170.7 197.0,171.4 197.5,172.2 198.0,173.0 198.5,173.7 199.0,174.4 199.5,175.0 200.0,175.5 200.5,176.2 201.0,176.8 201.5,177.5 202.0,178.2 202.5,178.9 203.0,179.8 203.5,180.8 204.0,181.8 204.5,182.9 205.0,184.0 205.5,184.9 206.0,185.7 206.5,186.5 207.0,187.1 207.5,187.7 208.0,188.2 208.5,188.8 209.0,189.4 209.5,190.0 210.0,190.8 210.5,191.9 211.0,193.0 211.5,194.3 212.0,195.5 212.5,196.6 213.0,197.7 213.5,198.7 214.0,199.7 214.5,200.6 215.0,201.5 215.5,202.3 216.0,203.2 216.5,204.2 217.0,205.3 217.5,206.4 218.0,207.6 218.5,208.8 219.0,210.0 219.5,211.4 220.0,212.6 220.5,213.8 221.0,214.9 221.5,215.9 222.0,216.9 222.5,217.9 223.0,218.9 223.5,220.0 224.0,221.3 224.5,222.2 225.0,223.3 225.5,224.4 226.0,225.5 226.5,226.5 227.0,227.4 227.5,228.3 228.0,229.0 228.5,229.6 229.0,230.2 229.5,230.7 230.0,231.4 230.5,232.0 231.0,232.6 231.5,233.4 232.0,234.2 232.5,235.0 233.0,235.8 233.5,236.6 234.0,237.3 234.5,238.0 235.0,238.5 235.5,238.9 236.0,239.3 236.5,239.7 237.0,240.0 237.5,240.3 238.0,240.8 238.5,241.3 239.0,241.9 239.5,242.5 240.0,243.1 240.5,243.7 241.0,244.2 241.5,244.5 242.0,244.8 242.5,245.1 243.0,245.2 243.5,245.3 244.0,245.4 244.5,245.6 245.0,245.9 245.5,246.4 246.0,246.8"/><polyline fill="none" stroke="#fff" stroke-width="2.5" stroke-linejoin="round" stroke-linecap="round" points="100.0,284.0 100.5,283.8 101.0,283.6 101.5,283.4 102.0,283.2 102.5,281.9 103.0,280.5 103.5,278.8 104.0,275.9 104.5,273.1 105.0,269.8 105.5,266.6 106.0,263.3 106.5,260.1 107.0,256.8 107.5,253.5 108.0,250.3 108.5,247.0 109.0,243.7 109.5,240.3 110.0,237.0 110.5,233.7 111.0,230.3 111.5,227.4 112.0,224.5 112.5,221.8 113.0,218.7 113.5,216.2 114.0,213.9 114.5,211.7 115.0,209.6 115.5,208.4 116.0,207.3 116.5,206.5 117.0,205.7 117.5,204.9 118.0,204.0 118.5,203.5 119.0,202.9 119.5,202.5 120.0,202.0 120.5,201.5 121.0,201.0 121.5,200.6 122.0,200.3 122.5,200.2 123.0,200.2 123.5,200.2 124.0,200.1 124.5,199.9 125.0,199.5 125.5,199.0 126.0,198.4 126.5,197.8 127.0,197.1 127.5,196.4 128.0,195.8 128.5,195.6 129.0,195.9 129.5,196.3 130.0,196.8 130.5,197.5 131.0,198.1 131.5,198.8 132.0,199.4 132.5,199.9 133.0,199.8 133.5,199.7 134.0,199.5 134.5,199.3 135.0,199.2 135.5,199.1 136.0,199.1 136.5,199.1 137.0,199.2 137.5,199.3 138.0,199.4 138.5,199.5 139.0,199.5 139.5,199.4 140.0,199.2 140.5,198.9 141.0,198.6 141.5,198.2 142.0,197.9 142.5,197.6 143.0,197.5 143.5,197.4 144.0,197.5 144.5,197.5 145.0,197.6 145.5,197.5 146.0,197.3 146.5,197.0 147.0,196.6 147.5,196.1 148.0,195.6 148.5,195.0 149.0,194.5 149.5,194.1 150.0,193.8 150.5,193.5 151.0,193.3 151.5,193.2 152.0,193.1 152.5,193.0 153.0,192.7 153.5,192.4 154.0,192.0 154.5,191.5 155.0,190.9 155.5,190.3 156.0,189.7 156.5,189.2 157.0,188.8 157.5,188.5 158.0,188.2 158.5,187.9 159.0,187.6 159.5,187.2 160.0,186.8 160.5,185.8 161.0,184.7 161.5,183.5 162.0,182.2 162.5,181.0 163.0,179.8 163.5,178.6 164.0,178.0 164.5,177.8 165.0,177.7 165.5,177.7 166.0,177.7 166.5,177.6 167.0,177.5 167.5,177.2 168.0,176.9 168.5,176.4 169.0,176.0 169.5,175.5 170.0,175.1 170.5,174.5 171.0,174.1 171.5,173.7 172.0,173.5 172.5,173.2 173.0,173.0 173.5,172.7 174.0,172.4 174.5,171.9 175.0,171.4 175.5,170.8 176.0,170.1 176.5,169.5 177.0,169.1 177.5,168.8 178.0,168.6 178.5,168.4 179.0,168.4 179.5,168.3 180.0,168.3 180.5,168.3 181.0,168.1 181.5,167.9 182.0,167.6 182.5,167.1 183.0,166.7 183.5,166.3 184.0,165.9 184.5,165.6 185.0,165.4 185.5,165.3 186.0,165.2 186.5,165.3 187.0,165.4 187.5,165.8 188.0,166.2 188.5,166.4 189.0,166.6 189.5,166.7 190.0,166.8 190.5,167.0 191.0,167.3 191.5,167.6 192.0,168.1 192.5,168.6 193.0,169.2 193.5,169.9 194.0,170.5 194.5,171.1 195.0,171.7 195.5,172.2 196.0,172.7 196.5,173.1 197.0,173.5 197.5,173.8 198.0,174.2 198.5,174.7 199.0,175.3 199.5,176.0 200.0,176.8 200.5,177.9 201.0,178.9 201.5,179.9 202.0,180.9 202.5,181.7 203.0,182.5 203.5,183.1 204.0,183.8 204.5,184.4 205.0,185.1 205.5,185.8 206.0,186.5 206.5,187.4 207.0,188.3 207.5,189.3 208.0,190.3 208.5,191.2 209.0,192.0 209.5,192.7 210.0,193.4 210.5,194.2 211.0,195.0 211.5,195.7 212.0,196.6 212.5,197.5 213.0,198.5 213.5,199.6 214.0,201.0 214.5,202.4 215.0,203.7 215.5,205.0 216.0,206.3 216.5,207.4 217.0,208.4 217.5,209.3 218.0,210.1 218.5,210.8 219.0,211.6 219.5,212.7 220.0,213.8 220.5,215.1 221.0,216.4 221.5,217.8 222.0,219.1 222.5,220.4 223.0,221.7 223.5,222.8 224.0,223.9 224.5,224.6 225.0,225.2 225.5,225.9 226.0,226.6 226.5,227.5 227.0,228.4 227.5,229.3 228.0,230.3 228.5,231.3 229.0,232.2 229.5,233.2 230.0,234.0 230.5,234.6 231.0,235.1 231.5,235.6 232.0,236.0 232.5,236.4 233.0,236.8 233.5,237.4 234.0,238.1 234.5,238.8 235.0,239.6 235.5,240.5 236.0,241.3 236.5,242.1 237.0,242.6 237.5,243.0 238.0,243.3 238.5,243.5 239.0,243.7 239.5,243.9 240.0,244.2 240.5,244.5 241.0,245.0 241.5,245.5 242.0,246.1 242.5,246.8 243.0,247.4 243.5,247.8 244.0,248.2 244.5,248.5 245.0,248.7 245.5,248.8 246.0,248.9"/><polyline fill="none" stroke="#fff" stroke-width="2.5" stroke-linejoin="round" stroke-linecap="round" points="100.0,284.0 100.5,283.8 101.0,283.7 101.5,283.5 102.0,283.3 102.5,282.3 103.0,281.2 103.5,279.7 104.0,277.2 104.5,274.8 105.0,271.7 105.5,268.6 106.0,265.5 106.5,262.4 107.0,259.2 107.5,256.1 108.0,252.9 108.5,249.8 109.0,246.5 109.5,243.2 110.0,240.0 110.5,236.8 111.0,233.5 111.5,230.6 112.0,227.7 112.5,224.4 113.0,221.4 113.5,219.0 114.0,217.0 114.5,215.0 115.0,213.1 115.5,211.9 116.0,210.5 116.5,209.6 117.0,208.5 117.5,207.3 118.0,206.1 118.5,205.2 119.0,204.2 119.5,203.7 120.0,203.2 120.5,202.8 121.0,202.5 121.5,202.3 122.0,202.2 122.5,202.2 123.0,202.2 123.5,202.1 124.0,201.8 124.5,201.3 125.0,200.6 125.5,199.9 126.0,199.2 126.5,198.5 127.0,197.9 127.5,197.4 128.0,197.1 128.5,197.2 129.0,197.7 129.5,198.3 130.0,198.8 130.5,199.3 131.0,199.8 131.5,200.1 132.0,200.4 132.5,200.6 133.0,200.5 133.5,200.3 134.0,200.3 134.5,200.3 135.0,200.4 135.5,200.7 136.0,200.9 136.5,201.1 137.0,201.2 137.5,201.2 138.0,201.2 138.5,201.0 139.0,200.8 139.5,200.4 140.0,200.1 140.5,199.8 141.0,199.5 141.5,199.4 142.0,199.4 142.5,199.4 143.0,199.5 143.5,199.6 144.0,199.7 144.5,199.6 145.0,199.5 145.5,199.1 146.0,198.6 146.5,198.1 147.0,197.6 147.5,197.1 148.0,196.7 148.5,196.3 149.0,196.1 149.5,196.0 150.0,195.9 150.5,195.8 151.0,195.6 151.5,195.4 152.0,195.1 152.5,194.6 153.0,194.1 153.5,193.6 154.0,193.1 154.5,192.6 155.0,192.1 155.5,191.8 156.0,191.5 156.5,191.3 157.0,191.1 157.5,191.0 158.0,190.6 158.5,190.1 159.0,189.6 159.5,188.9 160.0,188.2 160.5,186.9 161.0,185.5 161.5,184.2 162.0,182.9 162.5,181.8 163.0,180.7 163.5,179.8 164.0,179.3 164.5,179.3 165.0,179.2 165.5,179.1 166.0,178.8 166.5,178.5 167.0,178.1 167.5,177.6 168.0,177.2 168.5,176.8 169.0,176.4 169.5,176.2 170.0,176.1 170.5,175.8 171.0,175.6 171.5,175.4 172.0,175.2 172.5,174.9 173.0,174.5 173.5,173.9 174.0,173.4 174.5,172.7 175.0,172.1 175.5,171.5 176.0,171.0 176.5,170.7 177.0,170.6 177.5,170.5 178.0,170.5 178.5,170.5 179.0,170.5 179.5,170.3 180.0,170.1 180.5,169.8 181.0,169.4 181.5,168.9 182.0,168.5 182.5,168.1 183.0,167.8 183.5,167.6 184.0,167.6 184.5,167.6 185.0,167.6 185.5,167.6 186.0,167.6 186.5,167.5 187.0,167.4 187.5,167.6 188.0,167.7 188.5,167.7 189.0,167.8 189.5,167.9 190.0,168.1 190.5,168.6 191.0,169.1 191.5,169.7 192.0,170.4 192.5,171.1 193.0,171.7 193.5,172.2 194.0,172.6 194.5,172.9 195.0,173.2 195.5,173.5 196.0,173.9 196.5,174.3 197.0,174.8 197.5,175.4 198.0,176.1 198.5,176.9 199.0,177.7 199.5,178.5 200.0,179.3 200.5,180.2 201.0,181.0 201.5,181.7 202.0,182.4 202.5,183.0 203.0,183.6 203.5,184.3 204.0,185.1 204.5,185.9 205.0,186.9 205.5,187.8 206.0,188.8 206.5,189.8 207.0,190.7 207.5,191.5 208.0,192.2 208.5,192.9 209.0,193.4 209.5,193.9 210.0,194.5 210.5,195.3 211.0,196.3 211.5,197.3 212.0,198.4 212.5,199.6 213.0,200.8 213.5,202.0 214.0,203.4 214.5,204.7 215.0,205.9 215.5,207.0 216.0,208.1 216.5,209.1 217.0,210.1 217.5,211.0 218.0,211.9 218.5,212.9 219.0,214.0 219.5,215.3 220.0,216.5 220.5,217.8 221.0,219.1 221.5,220.2 222.0,221.2 222.5,222.2 223.0,223.1 223.5,224.0 224.0,225.0 224.5,225.7 225.0,226.6 225.5,227.5 226.0,228.6 226.5,229.7 227.0,230.9 227.5,231.9 228.0,232.7 228.5,233.5 229.0,234.2 229.5,234.8 230.0,235.3 230.5,235.8 231.0,236.2 231.5,236.6 232.0,237.2 232.5,237.9 233.0,238.6 233.5,239.4 234.0,240.3 234.5,241.1 235.0,241.9 235.5,242.6 236.0,243.2 236.5,243.7 237.0,244.0 237.5,244.2 238.0,244.4 238.5,244.7 239.0,245.0 239.5,245.5 240.0,246.0 240.5,246.7 241.0,247.3 241.5,247.9 242.0,248.5 242.5,249.0 243.0,249.3 243.5,249.5 244.0,249.7 244.5,249.8 245.0,249.9 245.5,250.2 246.0,250.5"/><polyline fill="none" stroke="#fff" stroke-width="2.5" stroke-linejoin="round" stroke-linecap="round" points="100.0,284.0 100.5,283.9 101.0,283.7 101.5,283.6 102.0,283.4 102.5,282.7 103.0,282.0 103.5,280.6 104.0,278.6 104.5,276.6 105.0,273.6 105.5,270.6 106.0,267.7 106.5,264.6 107.0,261.6 107.5,258.6 108.0,255.5 108.5,252.5 109.0,249.3 109.5,246.2 110.0,243.0 110.5,239.8 111.0,236.7 111.5,233.8 112.0,230.9 112.5,228.1 113.0,225.4 113.5,223.1 114.0,221.0 114.5,218.9 115.0,216.6 115.5,214.7 116.0,212.8 116.5,211.4 117.0,210.0 117.5,208.8 118.0,207.6 118.5,206.8 119.0,206.1 119.5,205.8 120.0,205.6 120.5,205.4 121.0,205.0 121.5,204.6 122.0,204.0 122.5,203.6 123.0,203.1 123.5,202.7 124.0,202.2 124.5,201.8 125.0,201.3 125.5,200.9 126.0,200.6 126.5,200.3 127.0,200.0 127.5,199.7 128.0,199.4 128.5,199.3 129.0,199.5 129.5,199.6 130.0,199.8 130.5,200.0 131.0,200.2 131.5,200.5 132.0,201.0 132.5,201.5 133.0,201.7 133.5,202.0 134.0,202.3 134.5,202.5 135.0,202.7 135.5,202.7 136.0,202.7 136.5,202.4 137.0,202.2 137.5,201.9 138.0,201.7 138.5,201.6 139.0,201.5 139.5,201.5 140.0,201.6 140.5,201.7 141.0,201.8 141.5,201.8 142.0,201.8 142.5,201.7 143.0,201.4 143.5,201.1 144.0,200.8 144.5,200.4 145.0,200.2 145.5,199.8 146.0,199.5 146.5,199.3 147.0,199.2 147.5,199.1 148.0,199.0 148.5,198.9 149.0,198.6 149.5,198.3 150.0,197.8 150.5,197.3 151.0,196.8 151.5,196.3 152.0,195.8 152.5,195.4 153.0,195.1 153.5,194.9 154.0,194.8 154.5,194.7 155.0,194.6 155.5,194.4 156.0,194.1 156.5,193.7 157.0,193.3 157.5,192.7 158.0,191.9 158.5,191.1 159.0,190.4 159.5,189.8 160.0,189.2 160.5,188.1 161.0,187.0 161.5,186.0 162.0,184.9 162.5,183.8 163.0,182.6 163.5,181.3 164.0,180.4 164.5,180.0 165.0,179.6 165.5,179.1 166.0,178.8 166.5,178.5 167.0,178.3 167.5,178.2 168.0,178.2 168.5,178.2 169.0,178.2 169.5,178.1 170.0,177.9 170.5,177.5 171.0,177.0 171.5,176.4 172.0,175.8 172.5,175.3 173.0,174.7 173.5,174.3 174.0,174.0 174.5,173.7 175.0,173.5 175.5,173.4 176.0,173.2 176.5,173.1 177.0,172.9 177.5,172.7 178.0,172.3 178.5,171.9 179.0,171.5 179.5,171.0 180.0,170.7 180.5,170.4 181.0,170.3 181.5,170.2 182.0,170.2 182.5,170.2 183.0,170.2 183.5,170.2 184.0,170.1 184.5,169.9 185.0,169.6 185.5,169.2 186.0,168.8 186.5,168.5 187.0,168.2 187.5,168.5 188.0,168.8 188.5,169.2 189.0,169.7 189.5,170.2 190.0,170.7 190.5,171.3 191.0,171.8 191.5,172.2 192.0,172.5 192.5,172.7 193.0,172.9 193.5,173.2 194.0,173.5 194.5,173.9 195.0,174.4 195.5,175.1 196.0,175.9 196.5,176.7 197.0,177.5 197.5,178.2 198.0,178.9 198.5,179.4 199.0,179.9 199.5,180.2 200.0,180.6 200.5,181.2 201.0,181.9 201.5,182.7 202.0,183.6 202.5,184.6 203.0,185.6 203.5,186.6 204.0,187.7 204.5,188.6 205.0,189.5 205.5,190.2 206.0,190.8 206.5,191.3 207.0,191.9 207.5,192.4 208.0,193.0 208.5,193.8 209.0,194.6 209.5,195.5 210.0,196.4 210.5,197.6 211.0,198.8 211.5,200.0 212.0,201.0 212.5,201.9 213.0,202.8 213.5,203.6 214.0,204.7 214.5,205.8 215.0,207.0 215.5,208.2 216.0,209.6 216.5,211.1 217.0,212.6 217.5,213.9 218.0,215.1 218.5,216.1 219.0,217.1 219.5,218.0 220.0,218.9 220.5,219.7 221.0,220.5 221.5,221.3 222.0,222.2 222.5,223.3 223.0,224.4 223.5,225.6 224.0,226.9 224.5,228.1 225.0,229.2 225.5,230.3 226.0,231.3 226.5,232.2 227.0,233.0 227.5,233.6 228.0,234.0 228.5,234.5 229.0,235.1 229.5,235.7 230.0,236.5 230.5,237.3 231.0,238.1 231.5,238.9 232.0,239.7 232.5,240.5 233.0,241.1 233.5,241.7 234.0,242.1 234.5,242.6 235.0,243.0 235.5,243.4 236.0,243.9 236.5,244.5 237.0,245.1 237.5,245.7 238.0,246.4 238.5,247.0 239.0,247.6 239.5,248.2 240.0,248.6 240.5,249.0 241.0,249.2 241.5,249.4 242.0,249.6 242.5,249.9 243.0,250.2 243.5,250.5 244.0,251.0 244.5,251.5 245.0,252.1 245.5,252.8 246.0,253.4"/><polyline fill="none" stroke="#fff" stroke-width="2.5" stroke-linejoin="round" stroke-linecap="round" points="100.0,284.0 100.5,283.9 101.0,283.8 101.5,283.7 102.0,283.6 102.5,283.2 103.0,282.8 103.5,281.4 104.0,279.9 104.5,278.3 105.0,275.4 105.5,272.6 106.0,269.8 106.5,266.9 107.0,264.0 107.5,261.1 108.0,258.2 108.5,255.2 109.0,252.2 109.5,249.1 110.0,246.0 110.5,242.9 111.0,239.8 111.5,237.0 112.0,234.2 112.5,231.4 113.0,228.7 113.5,226.2 114.0,224.2 114.5,222.0 115.0,219.7 115.5,217.5 116.0,215.4 116.5,213.9 117.0,212.5 117.5,211.1 118.0,209.9 118.5,208.9 119.0,207.9 119.5,207.7 120.0,207.4 120.5,207.0 121.0,206.6 121.5,206.1 122.0,205.4 122.5,205.0 123.0,204.5 123.5,204.0 124.0,203.5 124.5,203.1 125.0,202.7 125.5,202.3 126.0,202.0 126.5,201.7 127.0,201.4 127.5,201.1 128.0,200.8 128.5,200.6 129.0,200.9 129.5,201.0 130.0,201.1 130.5,201.3 131.0,201.5 131.5,201.8 132.0,202.2 132.5,202.7 133.0,203.0 133.5,203.3 134.0,203.6 134.5,203.8 135.0,204.0 135.5,204.0 136.0,204.0 136.5,203.8 137.0,203.6 137.5,203.3 138.0,203.1 138.5,203.0 139.0,203.0 139.5,203.0 140.0,203.1 140.5,203.2 141.0,203.3 141.5,203.4 142.0,203.3 142.5,203.2 143.0,203.0 143.5,202.7 144.0,202.3 144.5,202.0 145.0,201.7 145.5,201.4 146.0,201.1 146.5,200.9 147.0,200.8 147.5,200.7 148.0,200.6 148.5,200.5 149.0,200.2 149.5,199.9 150.0,199.5 150.5,199.0 151.0,198.4 151.5,197.9 152.0,197.5 152.5,197.1 153.0,196.8 153.5,196.6 154.0,196.5 154.5,196.4 155.0,196.3 155.5,196.2 156.0,195.9 156.5,195.5 157.0,195.1 157.5,194.6 158.0,193.7 158.5,192.9 159.0,192.1 159.5,191.5 160.0,190.9 160.5,189.6 161.0,188.4 161.5,187.3 162.0,186.1 162.5,184.9 163.0,183.6 163.5,182.1 164.0,181.2 164.5,180.8 165.0,180.4 165.5,180.0 166.0,179.6 166.5,179.4 167.0,179.2 167.5,179.1 168.0,179.1 168.5,179.1 169.0,179.1 169.5,179.1 170.0,178.9 170.5,178.5 171.0,178.1 171.5,177.5 172.0,177.0 172.5,176.4 173.0,175.9 173.5,175.5 174.0,175.2 174.5,175.0 175.0,174.9 175.5,174.8 176.0,174.6 176.5,174.5 177.0,174.4 177.5,174.1 178.0,173.8 178.5,173.4 179.0,172.9 179.5,172.5 180.0,172.2 180.5,171.9 181.0,171.8 181.5,171.7 182.0,171.7 182.5,171.7 183.0,171.8 183.5,171.8 184.0,171.7 184.5,171.5 185.0,171.2 185.5,170.9 186.0,170.5 186.5,170.2 187.0,170.0 187.5,170.3 188.0,170.6 188.5,171.0 189.0,171.5 189.5,172.0 190.0,172.5 190.5,173.1 191.0,173.6 191.5,174.0 192.0,174.3 192.5,174.5 193.0,174.8 193.5,175.0 194.0,175.3 194.5,175.7 195.0,176.2 195.5,177.0 196.0,177.8 196.5,178.6 197.0,179.4 197.5,180.1 198.0,180.7 198.5,181.3 199.0,181.7 199.5,182.1 200.0,182.5 200.5,183.1 201.0,183.8 201.5,184.6 202.0,185.4 202.5,186.4 203.0,187.4 203.5,188.4 204.0,189.5 204.5,190.4 205.0,191.2 205.5,191.9 206.0,192.5 206.5,193.1 207.0,193.6 207.5,194.2 208.0,194.8 208.5,195.5 209.0,196.3 209.5,197.2 210.0,198.2 210.5,199.4 211.0,200.6 211.5,201.7 212.0,202.7 212.5,203.7 213.0,204.5 213.5,205.3 214.0,206.5 214.5,207.7 215.0,208.9 215.5,210.3 216.0,211.8 216.5,213.3 217.0,214.9 217.5,216.3 218.0,217.4 218.5,218.4 219.0,219.4 219.5,220.3 220.0,221.1 220.5,221.8 221.0,222.5 221.5,223.3 222.0,224.2 222.5,225.1 223.0,226.2 223.5,227.4 224.0,228.7 224.5,229.9 225.0,231.0 225.5,232.1 226.0,233.1 226.5,234.0 227.0,234.9 227.5,235.5 228.0,235.9 228.5,236.3 229.0,236.8 229.5,237.5 230.0,238.2 230.5,239.0 231.0,239.8 231.5,240.6 232.0,241.4 232.5,242.1 233.0,242.8 233.5,243.3 234.0,243.8 234.5,244.2 235.0,244.6 235.5,245.1 236.0,245.6 236.5,246.2 237.0,246.9 237.5,247.5 238.0,248.1 238.5,248.8 239.0,249.4 239.5,249.9 240.0,250.4 240.5,250.7 241.0,251.0 241.5,251.2 242.0,251.4 242.5,251.7 243.0,252.0 243.5,252.4 244.0,252.9 244.5,253.4 245.0,254.1 245.5,254.7 246.0,255.4"/><polyline fill="none" stroke="#fff" stroke-width="2.5" stroke-linejoin="round" stroke-linecap="round" points="100.0,284.0 100.5,283.9 101.0,283.8 101.5,283.8 102.0,283.7 102.5,283.6 103.0,283.5 103.5,282.3 104.0,281.2 104.5,280.0 105.0,277.3 105.5,274.7 106.0,272.0 106.5,269.2 107.0,266.4 107.5,263.6 108.0,260.8 108.5,258.0 109.0,255.0 109.5,252.0 110.0,249.0 110.5,246.0 111.0,243.0 111.5,240.2 112.0,237.4 112.5,235.1 113.0,232.3 113.5,229.3 114.0,226.9 114.5,224.5 115.0,222.1 115.5,219.8 116.0,217.5 116.5,216.2 117.0,215.0 117.5,213.9 118.0,212.8 118.5,211.6 119.0,210.4 119.5,209.9 120.0,209.3 120.5,208.6 121.0,207.8 121.5,207.0 122.0,206.2 122.5,205.8 123.0,205.4 123.5,205.1 124.0,205.0 124.5,204.9 125.0,204.6 125.5,204.3 126.0,203.9 126.5,203.5 127.0,203.0 127.5,202.3 128.0,201.9 128.5,201.4 129.0,201.5 129.5,201.8 130.0,202.1 130.5,202.4 131.0,202.9 131.5,203.5 132.0,204.1 132.5,204.6 133.0,204.8 133.5,205.0 134.0,205.1 134.5,205.0 135.0,204.9 135.5,204.8 136.0,204.7 136.5,204.6 137.0,204.5 137.5,204.5 138.0,204.7 138.5,204.9 139.0,205.1 139.5,205.2 140.0,205.2 140.5,205.1 141.0,205.0 141.5,204.8 142.0,204.5 142.5,204.1 143.0,203.8 143.5,203.6 144.0,203.5 144.5,203.4 145.0,203.4 145.5,203.3 146.0,203.3 146.5,203.2 147.0,203.0 147.5,202.7 148.0,202.4 148.5,202.0 149.0,201.4 149.5,200.9 150.0,200.4 150.5,200.0 151.0,199.7 151.5,199.4 152.0,199.3 152.5,199.2 153.0,199.1 153.5,199.0 154.0,198.8 154.5,198.5 155.0,198.2 155.5,197.7 156.0,197.2 156.5,196.7 157.0,196.2 157.5,195.8 158.0,195.1 158.5,194.5 159.0,194.0 159.5,193.6 160.0,193.1 160.5,191.8 161.0,190.5 161.5,189.0 162.0,187.5 162.5,185.8 163.0,184.1 163.5,182.4 164.0,181.4 164.5,181.0 165.0,180.8 165.5,180.7 166.0,180.7 166.5,180.7 167.0,180.7 167.5,180.7 168.0,180.6 168.5,180.5 169.0,180.2 169.5,179.9 170.0,179.5 170.5,178.9 171.0,178.5 171.5,178.0 172.0,177.7 172.5,177.4 173.0,177.3 173.5,177.2 174.0,177.1 174.5,177.0 175.0,176.8 175.5,176.6 176.0,176.2 176.5,175.8 177.0,175.4 177.5,175.0 178.0,174.6 178.5,174.3 179.0,174.0 179.5,173.9 180.0,173.9 180.5,173.9 181.0,173.9 181.5,173.9 182.0,173.9 182.5,173.7 183.0,173.5 183.5,173.2 184.0,172.9 184.5,172.6 185.0,172.3 185.5,172.0 186.0,171.9 186.5,171.9 187.0,172.0 187.5,172.5 188.0,173.0 188.5,173.5 189.0,173.9 189.5,174.2 190.0,174.4 190.5,174.7 191.0,174.9 191.5,175.2 192.0,175.4 192.5,175.8 193.0,176.2 193.5,176.7 194.0,177.3 194.5,178.0 195.0,178.7 195.5,179.5 196.0,180.2 196.5,180.8 197.0,181.3 197.5,181.8 198.0,182.1 198.5,182.5 199.0,182.9 199.5,183.4 200.0,184.0 200.5,184.9 201.0,185.8 201.5,186.9 202.0,187.9 202.5,188.9 203.0,189.8 203.5,190.6 204.0,191.3 204.5,191.9 205.0,192.5 205.5,193.1 206.0,193.6 206.5,194.3 207.0,195.0 207.5,195.8 208.0,196.8 208.5,197.7 209.0,198.7 209.5,199.6 210.0,200.5 210.5,201.5 211.0,202.4 211.5,203.2 212.0,204.0 212.5,204.8 213.0,205.6 213.5,206.5 214.0,208.0 214.5,209.5 215.0,211.2 215.5,212.8 216.0,214.5 216.5,216.2 217.0,217.7 217.5,218.9 218.0,219.8 218.5,220.5 219.0,221.2 219.5,221.8 220.0,222.6 220.5,223.4 221.0,224.3 221.5,225.3 222.0,226.3 222.5,227.5 223.0,228.7 223.5,229.9 224.0,231.0 224.5,232.0 225.0,232.9 225.5,233.7 226.0,234.5 226.5,235.3 227.0,236.1 227.5,236.8 228.0,237.4 228.5,238.1 229.0,238.9 229.5,239.7 230.0,240.5 230.5,241.3 231.0,242.0 231.5,242.6 232.0,243.1 232.5,243.5 233.0,243.9 233.5,244.4 234.0,244.8 234.5,245.4 235.0,246.0 235.5,246.7 236.0,247.5 236.5,248.4 237.0,249.2 237.5,249.8 238.0,250.4 238.5,250.8 239.0,251.1 239.5,251.4 240.0,251.6 240.5,251.8 241.0,252.1 241.5,252.4 242.0,252.9 242.5,253.4 243.0,254.0 243.5,254.7 244.0,255.4 244.5,256.0 245.0,256.5 245.5,257.0 246.0,257.4"/><polyline fill="none" stroke="#fff" stroke-width="2.3" stroke-linejoin="round" stroke-linecap="round" points="100.0,284.0 102.0,283.0 103.3,277.0 104.8,266.0 106.7,252.0 108.6,238.0 110.4,224.0 112.0,210.0 114.0,196.0 116.0,187.0 117.0,184.0 120.0,185.0 125.0,183.8 128.1,177.5 130.6,176.2 133.8,179.4 135.6,178.1 138.1,175.6 140.0,178.1 143.8,178.8 145.6,180.0 147.0,184.0 150.0,187.0 155.0,189.5 160.0,190.0 165.0,189.5 171.2,187.5 176.2,183.0 180.0,182.5 182.5,180.6 186.9,177.8 190.0,179.4 195.0,183.8 198.8,188.8 202.5,193.8 206.0,200.0 210.0,208.0 215.0,216.0 220.0,224.0 225.0,234.0 230.0,242.0 235.0,248.0 240.0,253.0 246.0,258.0"/><polyline fill="none" stroke="#fff" stroke-width="2.3" stroke-linejoin="round" stroke-linecap="round" points="100.0,284.0 102.3,283.0 103.8,277.0 105.3,266.0 107.2,252.0 109.1,238.0 111.0,224.0 112.8,211.0 114.8,200.0 116.5,194.0 117.5,191.9 121.2,190.0 126.2,186.2 129.4,185.6 132.5,187.5 137.5,188.1 141.9,188.1 145.0,186.9 147.0,188.0 150.0,190.0 155.0,192.0 160.0,193.0 165.0,192.5 171.2,190.6 176.2,189.4 181.2,187.5 186.9,185.6 191.2,187.5 195.0,190.6 198.8,195.0 202.5,201.2 205.0,205.5 210.0,214.5 215.0,221.0 220.0,229.0 223.8,238.0 228.8,245.0 232.5,250.5 237.5,253.0 246.0,259.5"/><polyline fill="none" stroke="#fff" stroke-width="3" stroke-linejoin="round" stroke-linecap="round" points="148.6,195.0 148.6,20.0"/><polyline fill="none" stroke="#fff" stroke-width="4" stroke-linejoin="round" stroke-linecap="round" points="157.5,192.0 157.5,20.0"/><polyline fill="none" stroke="#fff" stroke-width="2" stroke-linejoin="round" stroke-linecap="round" points="153.6,195.0 153.8,166.0 155.0,190.0"/><polyline fill="none" stroke="#fff" stroke-width="2" stroke-linejoin="round" stroke-linecap="round" points="160.0,188.0 161.2,167.0 162.3,186.0"/><polyline fill="none" stroke="#fff" stroke-width="2.4" stroke-linejoin="round" stroke-linecap="round" points="245.0,240.0 246.3,200.0 247.5,153.0 248.7,200.0 250.6,244.7 252.0,222.0 253.0,246.7 254.5,168.0 255.5,180.0 257.0,158.8 258.5,175.0 259.6,172.0 260.8,253.2 262.5,167.5 264.4,256.2 265.4,240.0 266.6,218.0 267.6,245.0 268.6,259.7 269.0,262.0"/><polyline fill="none" stroke="#fff" stroke-width="2.4" stroke-linejoin="round" stroke-linecap="round" points="245.0,241.5 246.3,202.1 247.5,157.5 248.7,202.2 250.6,246.2 252.0,223.3 253.0,248.2 254.5,172.1 255.5,183.5 257.0,163.4 258.5,178.9 259.6,176.1 260.8,254.7 262.5,171.9 264.4,257.7 265.4,240.9 266.6,220.1 267.6,245.8 268.6,261.2 269.0,262.8"/><polyline fill="none" stroke="#fff" stroke-width="2.2" stroke-linejoin="round" stroke-linecap="round" points="246.7,175.0 246.7,258.0"/><polyline fill="none" stroke="#fff" stroke-width="2.8" stroke-linejoin="round" stroke-linecap="round" points="247.8,157.0 247.8,246.0"/><polyline fill="none" stroke="#fff" stroke-width="2.8" stroke-linejoin="round" stroke-linecap="round" points="250.2,192.0 250.2,252.0"/><polyline fill="none" stroke="#fff" stroke-width="2.8" stroke-linejoin="round" stroke-linecap="round" points="252.3,188.0 252.3,250.0"/><polyline fill="none" stroke="#fff" stroke-width="2.6" stroke-linejoin="round" stroke-linecap="round" points="254.6,171.0 254.6,255.0"/><polyline fill="none" stroke="#fff" stroke-width="3.2" stroke-linejoin="round" stroke-linecap="round" points="256.9,161.0 256.9,247.0"/><polyline fill="none" stroke="#fff" stroke-width="2.8" stroke-linejoin="round" stroke-linecap="round" points="259.2,167.0 259.2,256.0"/><polyline fill="none" stroke="#fff" stroke-width="2" stroke-linejoin="round" stroke-linecap="round" points="260.6,185.0 260.6,250.0"/><polyline fill="none" stroke="#fff" stroke-width="2.6" stroke-linejoin="round" stroke-linecap="round" points="262.5,170.0 262.5,248.0"/><polyline fill="none" stroke="#fff" stroke-width="2.4" stroke-linejoin="round" stroke-linecap="round" points="264.6,200.0 264.6,258.0"/><polyline fill="none" stroke="#fff" stroke-width="2.6" stroke-linejoin="round" stroke-linecap="round" points="266.6,220.0 266.6,262.0"/><polyline fill="none" stroke="#fff" stroke-width="2.2" stroke-linejoin="round" stroke-linecap="round" points="268.2,238.0 268.2,266.0"/><polyline fill="none" stroke="#fff" stroke-width="2.6" stroke-linejoin="round" stroke-linecap="round" points="268.5,266.0 277.5,270.4 287.5,274.8 295.0,277.8 302.5,281.5 310.0,283.5 316.0,284.2"/><polyline fill="none" stroke="#fff" stroke-width="2.6" stroke-linejoin="round" stroke-linecap="round" points="268.5,268.0 277.5,271.8 287.5,275.6 295.0,278.1 302.5,281.5 310.0,283.5 316.0,284.2"/><polyline fill="none" stroke="#fff" stroke-width="2.6" stroke-linejoin="round" stroke-linecap="round" points="268.5,270.0 277.5,273.2 287.5,276.4 295.0,278.5 302.5,281.5 310.0,283.5 316.0,284.2"/><polyline fill="none" stroke="#fff" stroke-width="2.6" stroke-linejoin="round" stroke-linecap="round" points="268.5,272.0 277.5,274.6 287.5,277.2 295.0,278.8 302.5,281.5 310.0,283.5 316.0,284.2"/><text x="319.5" y="289.3" fill="#fff" font-size="13.89" text-anchor="end">0</text><text x="319.5" y="241.1" fill="#fff" font-size="13.89" text-anchor="end">5</text><text x="319.5" y="192.9" fill="#fff" font-size="13.89" text-anchor="end">10</text><text x="319.5" y="144.7" fill="#fff" font-size="13.89" text-anchor="end">15</text><text x="319.5" y="96.5" fill="#fff" font-size="13.89" text-anchor="end">20</text><text x="319.5" y="48.3" fill="#fff" font-size="13.89" text-anchor="end">25</text>
<rect x="329" y="28.00" width="266" height="17.72" fill="url(#gR0)"/>
<rect x="329" y="44.72" width="266" height="17.72" fill="url(#gR1)"/>
<rect x="329" y="61.44" width="266" height="17.72" fill="url(#gR2)"/>
<rect x="329" y="78.15" width="266" height="17.72" fill="url(#gR3)"/>
<rect x="329" y="94.87" width="266" height="17.72" fill="url(#gR4)"/>
<rect x="329" y="111.59" width="266" height="17.72" fill="url(#gR5)"/>
<rect x="329" y="128.31" width="266" height="17.72" fill="url(#gR6)"/>
<rect x="329" y="145.03" width="266" height="17.72" fill="url(#gR7)"/>
<rect x="329" y="161.75" width="266" height="17.72" fill="url(#gR8)"/>
<rect x="329" y="178.46" width="266" height="17.72" fill="url(#gR9)"/>
<rect x="329" y="195.18" width="266" height="17.72" fill="url(#gR10)"/>
<rect x="329" y="211.90" width="266" height="17.72" fill="url(#gR11)"/>
<rect x="329" y="228.62" width="266" height="17.72" fill="url(#gR12)"/>
<rect x="329" y="245.34" width="266" height="17.72" fill="url(#gR13)"/>
<rect x="329" y="262.05" width="266" height="17.72" fill="url(#gR14)"/>
<rect x="329" y="278.77" width="266" height="17.72" fill="url(#gR15)"/>
<rect x="329" y="295.49" width="266" height="17.72" fill="url(#gR16)"/>
<rect x="329" y="312.21" width="266" height="17.72" fill="url(#gR17)"/>
<rect x="329" y="328.93" width="266" height="17.72" fill="url(#gR18)"/>
<rect x="329" y="345.65" width="266" height="17.72" fill="url(#gR19)"/>
<rect x="329" y="362.36" width="266" height="17.72" fill="url(#gR20)"/>
<rect x="329" y="379.08" width="266" height="16.72" fill="url(#gR21)"/>
<path d="M350.5 284 h5.1" stroke="#fff" stroke-width="1.1"/><text x="359.5" y="289.3" fill="#fff" font-size="13.89">0</text><path d="M350.5 235.8 h5.1" stroke="#fff" stroke-width="1.1"/><text x="359.5" y="241.1" fill="#fff" font-size="13.89">5</text><path d="M350.5 187.6 h5.1" stroke="#fff" stroke-width="1.1"/><text x="359.5" y="192.9" fill="#fff" font-size="13.89">10</text><path d="M350.5 139.4 h5.1" stroke="#fff" stroke-width="1.1"/><text x="359.5" y="144.7" fill="#fff" font-size="13.89">15</text><path d="M350.5 91.2 h5.1" stroke="#fff" stroke-width="1.1"/><text x="359.5" y="96.5" fill="#fff" font-size="13.89">20</text><path d="M350.5 43 h5.1" stroke="#fff" stroke-width="1.1"/><text x="359.5" y="48.3" fill="#fff" font-size="13.89">25</text><polyline fill="none" stroke="#fff" stroke-width="2.9" stroke-linejoin="round" stroke-linecap="round" points="329.5,20.0 329.5,284.1 381.0,284.1"/><polyline fill="none" stroke="#fff" stroke-width="2.3" stroke-linejoin="round" stroke-linecap="round" points="380.0,284.0 381.0,283.3 382.0,279.3 383.0,272.0 384.0,264.0 385.0,256.0 386.0,249.2 387.0,243.5 388.0,237.8 389.0,232.4 390.0,227.2 391.0,222.0 392.0,218.7 393.0,215.3 394.0,212.0 395.0,210.8 396.0,209.3 397.0,208.0 398.0,207.6 399.0,207.5 400.0,207.3 401.0,207.1 402.0,206.6 403.0,205.9 404.0,205.3 405.0,205.3 406.0,205.6 407.0,206.0 408.0,206.4 409.0,206.5 410.0,206.4 411.0,206.1 412.0,205.8 413.0,205.8 414.0,206.1 415.0,206.4 416.0,206.7 417.0,206.8 418.0,206.5 419.0,206.1 420.0,205.8 421.0,205.2 422.0,204.9 423.0,204.6 424.0,204.3 425.0,203.7 426.0,203.2 427.0,202.6 428.0,202.2 429.0,202.0 430.0,202.2 431.0,202.1 432.0,201.9 433.0,201.3 434.0,200.6 435.0,199.7 436.0,198.6 437.0,197.8 438.0,197.2 439.0,196.7 440.0,196.0 441.0,195.1 442.0,193.9 443.0,192.7 444.0,191.6 445.0,190.9 446.0,190.8 447.0,190.6 448.0,190.3 449.0,189.7 450.0,188.8 451.0,186.8 452.0,185.0 453.0,183.5 454.0,183.1 455.0,182.6 456.0,182.0 457.0,182.0 458.0,182.1 459.0,182.3 460.0,182.7 461.0,182.6 462.0,182.6 463.0,182.6 464.0,182.5 465.0,182.6 466.0,182.6 467.0,182.6 468.0,183.1 469.0,184.3 470.0,185.5 471.0,186.7 472.0,187.5 473.0,188.3 474.0,189.0 475.0,189.9 476.0,191.0 477.0,192.4 478.0,194.2 479.0,195.9 480.0,197.4 481.0,198.6 482.0,200.0 483.0,201.7 484.0,203.6 485.0,205.9 486.0,207.5 487.0,208.9 488.0,210.0 489.0,210.9 490.0,211.7 491.0,213.8 492.0,216.1 493.0,218.7 494.0,221.3 495.0,223.0 496.0,224.4 497.0,225.5 498.0,226.7 499.0,228.0 500.0,230.1 501.0,232.5 502.0,234.9 503.0,236.7 504.0,237.2 505.0,237.6 506.0,238.0 507.0,238.6 508.0,239.5 509.0,240.5 510.0,242.1 511.0,243.4 512.0,244.4 513.0,245.2 514.0,246.1 515.0,246.6 516.0,247.4 517.0,248.4 518.0,249.3 519.0,250.0 520.0,250.7 521.0,251.2 522.0,251.8 523.0,252.6 524.0,253.8 525.0,255.2 526.0,256.5 527.0,257.5"/><polyline fill="none" stroke="#fff" stroke-width="2.3" stroke-linejoin="round" stroke-linecap="round" points="380.0,284.0 381.0,283.4 382.0,279.7 383.0,273.0 384.0,265.6 385.0,258.2 386.0,251.4 387.0,245.8 388.0,239.9 389.0,234.2 390.0,228.8 391.0,223.4 392.0,220.0 393.0,216.5 394.0,213.3 395.0,212.0 396.0,210.9 397.0,209.4 398.0,208.6 399.0,208.1 400.0,208.0 401.0,208.0 402.0,207.9 403.0,207.5 404.0,206.9 405.0,206.6 406.0,206.4 407.0,206.6 408.0,206.9 409.0,207.3 410.0,207.6 411.0,207.5 412.0,207.3 413.0,207.0 414.0,206.8 415.0,207.0 416.0,207.4 417.0,207.7 418.0,207.8 419.0,207.6 420.0,207.2 421.0,206.2 422.0,205.6 423.0,205.2 424.0,205.0 425.0,204.7 426.0,204.6 427.0,204.1 428.0,203.6 429.0,203.1 430.0,202.9 431.0,202.7 432.0,202.6 433.0,202.4 434.0,201.9 435.0,201.1 436.0,199.8 437.0,198.7 438.0,197.8 439.0,197.3 440.0,196.8 441.0,196.2 442.0,195.3 443.0,194.2 444.0,193.0 445.0,191.9 446.0,191.5 447.0,191.2 448.0,191.1 449.0,190.8 450.0,190.2 451.0,188.3 452.0,186.3 453.0,184.5 454.0,183.9 455.0,183.4 456.0,183.0 457.0,183.3 458.0,183.6 459.0,183.7 460.0,183.7 461.0,183.2 462.0,183.0 463.0,183.0 464.0,183.2 465.0,183.6 466.0,183.8 467.0,183.8 468.0,184.1 469.0,184.8 470.0,185.9 471.0,187.1 472.0,188.3 473.0,189.5 474.0,190.4 475.0,191.2 476.0,192.1 477.0,193.2 478.0,194.8 479.0,196.7 480.0,198.5 481.0,200.0 482.0,201.6 483.0,203.1 484.0,204.6 485.0,206.5 486.0,208.0 487.0,209.6 488.0,211.1 489.0,212.3 490.0,213.3 491.0,215.2 492.0,217.1 493.0,219.3 494.0,221.8 495.0,223.6 496.0,225.3 497.0,226.8 498.0,228.0 499.0,229.1 500.0,230.8 501.0,232.9 502.0,235.2 503.0,237.2 504.0,238.1 505.0,238.7 506.0,239.1 507.0,239.4 508.0,239.9 509.0,240.8 510.0,242.3 511.0,243.9 512.0,245.2 513.0,246.3 514.0,247.1 515.0,247.3 516.0,247.7 517.0,248.5 518.0,249.4 519.0,250.4 520.0,251.4 521.0,252.1 522.0,252.7 523.0,253.2 524.0,254.0 525.0,255.2 526.0,256.5 527.0,257.8"/><polyline fill="none" stroke="#fff" stroke-width="2.3" stroke-linejoin="round" stroke-linecap="round" points="380.0,284.0 381.0,283.4 382.0,280.1 383.0,273.9 384.0,267.1 385.0,260.3 386.0,253.7 387.0,248.1 388.0,241.9 389.0,236.0 390.0,230.4 391.0,224.9 392.0,221.3 393.0,217.8 394.0,214.6 395.0,213.2 396.0,211.6 397.0,210.8 398.0,210.6 399.0,210.1 400.0,209.5 401.0,208.9 402.0,208.2 403.0,207.8 404.0,207.7 405.0,208.1 406.0,208.4 407.0,208.4 408.0,208.2 409.0,207.9 410.0,207.7 411.0,207.7 412.0,208.0 413.0,208.5 414.0,208.8 415.0,208.8 416.0,208.6 417.0,208.2 418.0,207.9 419.0,207.8 420.0,207.9 421.0,207.8 422.0,207.5 423.0,207.0 424.0,206.1 425.0,205.2 426.0,204.7 427.0,204.5 428.0,204.5 429.0,204.7 430.0,204.8 431.0,204.4 432.0,203.6 433.0,202.7 434.0,201.9 435.0,201.4 436.0,200.8 437.0,200.4 438.0,199.8 439.0,198.9 440.0,197.7 441.0,196.5 442.0,195.5 443.0,194.7 444.0,194.2 445.0,193.8 446.0,193.4 447.0,192.8 448.0,191.9 449.0,191.0 450.0,190.3 451.0,188.9 452.0,187.7 453.0,186.6 454.0,186.0 455.0,185.1 456.0,183.9 457.0,183.6 458.0,183.8 459.0,184.3 460.0,184.9 461.0,184.9 462.0,184.7 463.0,184.1 464.0,183.5 465.0,183.5 466.0,183.8 467.0,184.3 468.0,185.3 469.0,186.5 470.0,187.5 471.0,188.1 472.0,188.7 473.0,189.5 474.0,190.6 475.0,192.1 476.0,193.7 477.0,195.2 478.0,196.6 479.0,197.9 480.0,199.0 481.0,200.2 482.0,201.9 483.0,204.1 484.0,206.3 485.0,208.4 486.0,209.6 487.0,210.5 488.0,211.4 489.0,212.5 490.0,213.8 491.0,216.3 492.0,218.9 493.0,221.3 494.0,223.3 495.0,224.4 496.0,225.5 497.0,226.7 498.0,228.2 499.0,230.1 500.0,232.4 501.0,234.6 502.0,236.4 503.0,237.7 504.0,238.0 505.0,238.5 506.0,239.3 507.0,240.4 508.0,241.4 509.0,242.4 510.0,243.4 511.0,244.2 512.0,245.0 513.0,246.0 514.0,247.2 515.0,248.2 516.0,249.1 517.0,249.8 518.0,250.2 519.0,250.5 520.0,251.1 521.0,251.8 522.0,252.9 523.0,254.2 524.0,255.4 525.0,256.4 526.0,257.1 527.0,257.7"/><polyline fill="none" stroke="#fff" stroke-width="2.3" stroke-linejoin="round" stroke-linecap="round" points="380.0,284.0 381.0,283.5 382.0,280.5 383.0,274.9 384.0,268.7 385.0,262.5 386.0,256.0 387.0,250.3 388.0,244.0 389.0,237.8 390.0,232.1 391.0,226.3 392.0,222.6 393.0,219.0 394.0,215.8 395.0,214.4 396.0,213.4 397.0,211.8 398.0,210.9 399.0,210.3 400.0,210.2 401.0,210.3 402.0,210.2 403.0,209.9 404.0,209.3 405.0,208.9 406.0,208.6 407.0,208.6 408.0,208.8 409.0,209.1 410.0,209.5 411.0,209.6 412.0,209.4 413.0,209.1 414.0,208.9 415.0,209.0 416.0,209.3 417.0,209.7 418.0,209.8 419.0,209.6 420.0,209.1 421.0,208.2 422.0,207.6 423.0,207.2 424.0,207.0 425.0,206.8 426.0,206.7 427.0,206.3 428.0,205.7 429.0,205.2 430.0,204.9 431.0,204.7 432.0,204.6 433.0,204.3 434.0,203.8 435.0,203.0 436.0,201.8 437.0,200.7 438.0,199.8 439.0,199.3 440.0,198.9 441.0,198.3 442.0,197.5 443.0,196.4 444.0,195.2 445.0,194.1 446.0,193.6 447.0,193.3 448.0,193.1 449.0,192.8 450.0,192.2 451.0,190.5 452.0,188.7 453.0,187.0 454.0,186.3 455.0,185.8 456.0,185.4 457.0,185.6 458.0,185.7 459.0,185.6 460.0,185.5 461.0,184.9 462.0,184.6 463.0,184.6 464.0,184.7 465.0,185.2 466.0,185.4 467.0,185.4 468.0,185.7 469.0,186.4 470.0,187.5 471.0,188.7 472.0,190.0 473.0,191.3 474.0,192.4 475.0,193.2 476.0,194.2 477.0,195.3 478.0,196.9 479.0,198.8 480.0,200.6 481.0,202.2 482.0,203.8 483.0,205.2 484.0,206.7 485.0,208.4 486.0,209.9 487.0,211.5 488.0,213.1 489.0,214.5 490.0,215.7 491.0,217.4 492.0,219.3 493.0,221.3 494.0,223.6 495.0,225.4 496.0,227.1 497.0,228.5 498.0,229.7 499.0,230.8 500.0,232.5 501.0,234.4 502.0,236.7 503.0,238.6 504.0,239.5 505.0,240.1 506.0,240.5 507.0,240.8 508.0,241.3 509.0,242.1 510.0,243.6 511.0,245.1 512.0,246.5 513.0,247.5 514.0,248.2 515.0,248.4 516.0,248.8 517.0,249.5 518.0,250.4 519.0,251.4 520.0,252.5 521.0,253.2 522.0,253.8 523.0,254.3 524.0,254.9 525.0,256.0 526.0,257.3 527.0,258.6"/><polyline fill="none" stroke="#fff" stroke-width="2.3" stroke-linejoin="round" stroke-linecap="round" points="380.0,284.0 381.0,283.5 382.0,280.8 383.0,275.8 384.0,270.2 385.0,264.6 386.0,258.2 387.0,252.6 388.0,246.0 389.0,239.6 390.0,233.7 391.0,227.8 392.0,224.0 393.0,220.2 394.0,217.1 395.0,215.5 396.0,214.0 397.0,213.2 398.0,212.9 399.0,212.4 400.0,211.8 401.0,211.1 402.0,210.5 403.0,210.2 404.0,210.1 405.0,210.3 406.0,210.5 407.0,210.5 408.0,210.1 409.0,209.7 410.0,209.5 411.0,209.7 412.0,210.1 413.0,210.6 414.0,210.9 415.0,210.9 416.0,210.6 417.0,210.2 418.0,209.8 419.0,209.7 420.0,209.9 421.0,209.8 422.0,209.5 423.0,209.0 424.0,208.2 425.0,207.3 426.0,206.8 427.0,206.6 428.0,206.7 429.0,206.9 430.0,206.9 431.0,206.5 432.0,205.6 433.0,204.6 434.0,203.8 435.0,203.2 436.0,202.7 437.0,202.4 438.0,201.8 439.0,200.9 440.0,199.8 441.0,198.6 442.0,197.6 443.0,196.9 444.0,196.5 445.0,196.0 446.0,195.6 447.0,194.9 448.0,194.0 449.0,193.0 450.0,192.3 451.0,191.1 452.0,190.1 453.0,189.0 454.0,188.4 455.0,187.5 456.0,186.3 457.0,185.9 458.0,185.9 459.0,186.2 460.0,186.7 461.0,186.6 462.0,186.3 463.0,185.7 464.0,185.1 465.0,185.0 466.0,185.3 467.0,186.0 468.0,187.0 469.0,188.2 470.0,189.1 471.0,189.7 472.0,190.4 473.0,191.3 474.0,192.5 475.0,194.0 476.0,195.7 477.0,197.3 478.0,198.8 479.0,200.0 480.0,201.1 481.0,202.4 482.0,204.1 483.0,206.2 484.0,208.3 485.0,210.3 486.0,211.5 487.0,212.5 488.0,213.4 489.0,214.6 490.0,216.1 491.0,218.6 492.0,221.1 493.0,223.3 494.0,225.1 495.0,226.2 496.0,227.2 497.0,228.3 498.0,229.9 499.0,231.8 500.0,234.1 501.0,236.2 502.0,237.9 503.0,239.1 504.0,239.4 505.0,239.9 506.0,240.7 507.0,241.7 508.0,242.8 509.0,243.7 510.0,244.7 511.0,245.4 512.0,246.2 513.0,247.2 514.0,248.4 515.0,249.3 516.0,250.2 517.0,250.9 518.0,251.2 519.0,251.5 520.0,252.1 521.0,252.9 522.0,254.0 523.0,255.2 524.0,256.4 525.0,257.3 526.0,257.9 527.0,258.4"/><polyline fill="none" stroke="#fff" stroke-width="2.3" stroke-linejoin="round" stroke-linecap="round" points="380.0,284.0 381.0,283.6 382.0,281.3 383.0,277.0 384.0,272.2 385.0,267.3 386.0,261.1 387.0,255.5 388.0,248.6 389.0,241.9 390.0,235.7 391.0,229.6 392.0,225.6 393.0,221.7 394.0,218.7 395.0,217.0 396.0,216.1 397.0,215.2 398.0,214.4 399.0,213.4 400.0,212.6 401.0,212.1 402.0,212.0 403.0,212.0 404.0,212.2 405.0,212.2 406.0,211.9 407.0,211.3 408.0,210.7 409.0,210.4 410.0,210.8 411.0,211.4 412.0,212.0 413.0,212.3 414.0,212.1 415.0,211.7 416.0,211.3 417.0,211.1 418.0,211.1 419.0,211.4 420.0,211.6 421.0,211.3 422.0,210.7 423.0,209.8 424.0,209.0 425.0,208.3 426.0,208.3 427.0,208.4 428.0,208.5 429.0,208.4 430.0,208.0 431.0,207.3 432.0,206.4 433.0,205.6 434.0,205.2 435.0,204.9 436.0,204.4 437.0,203.8 438.0,202.8 439.0,201.7 440.0,200.6 441.0,199.8 442.0,199.2 443.0,198.8 444.0,198.3 445.0,197.5 446.0,196.7 447.0,195.7 448.0,194.8 449.0,194.2 450.0,193.9 451.0,193.0 452.0,192.0 453.0,190.6 454.0,189.6 455.0,188.4 456.0,187.4 457.0,187.3 458.0,187.6 459.0,187.9 460.0,188.1 461.0,187.7 462.0,187.0 463.0,186.2 464.0,185.7 465.0,186.0 466.0,186.8 467.0,187.5 468.0,188.3 469.0,189.1 470.0,189.7 471.0,190.2 472.0,191.1 473.0,192.5 474.0,194.2 475.0,195.8 476.0,197.3 477.0,198.5 478.0,199.6 479.0,200.8 480.0,202.2 481.0,203.9 482.0,206.0 483.0,208.0 484.0,209.8 485.0,211.3 486.0,212.2 487.0,213.2 488.0,214.5 489.0,216.2 490.0,218.1 491.0,220.5 492.0,222.7 493.0,224.4 494.0,225.7 495.0,226.8 496.0,228.1 497.0,229.7 498.0,231.5 499.0,233.4 500.0,235.3 501.0,236.9 502.0,238.4 503.0,239.5 504.0,240.2 505.0,241.1 506.0,242.1 507.0,243.0 508.0,243.7 509.0,244.2 510.0,244.9 511.0,245.8 512.0,247.0 513.0,248.3 514.0,249.6 515.0,250.4 516.0,250.9 517.0,251.1 518.0,251.3 519.0,251.8 520.0,252.8 521.0,254.0 522.0,255.2 523.0,256.2 524.0,256.9 525.0,257.4 526.0,257.9 527.0,258.6"/><polyline fill="none" stroke="#fff" stroke-width="2.3" stroke-linejoin="round" stroke-linecap="round" points="380.0,284.0 381.0,283.7 382.0,281.8 383.0,278.2 384.0,274.1 385.0,270.0 386.0,263.9 387.0,258.3 388.0,251.2 389.0,244.2 390.0,237.8 391.0,231.4 392.0,227.3 393.0,223.2 394.0,220.3 395.0,218.5 396.0,216.8 397.0,215.7 398.0,215.2 399.0,214.9 400.0,214.8 401.0,214.5 402.0,214.0 403.0,213.4 404.0,212.9 405.0,212.7 406.0,212.7 407.0,212.8 408.0,212.7 409.0,212.5 410.0,212.4 411.0,212.4 412.0,212.5 413.0,212.7 414.0,213.0 415.0,213.3 416.0,213.4 417.0,213.2 418.0,212.7 419.0,212.2 420.0,212.0 421.0,211.7 422.0,211.6 423.0,211.5 424.0,211.2 425.0,210.5 426.0,209.8 427.0,209.2 428.0,208.9 429.0,208.9 430.0,209.1 431.0,209.1 432.0,208.6 433.0,207.6 434.0,206.5 435.0,205.4 436.0,204.7 437.0,204.2 438.0,203.9 439.0,203.6 440.0,202.9 441.0,201.8 442.0,200.6 443.0,199.6 444.0,198.8 445.0,198.2 446.0,198.0 447.0,197.6 448.0,197.0 449.0,196.1 450.0,195.1 451.0,193.6 452.0,192.5 453.0,191.6 454.0,191.2 455.0,190.7 456.0,189.9 457.0,189.2 458.0,188.7 459.0,188.4 460.0,188.3 461.0,188.2 462.0,188.2 463.0,188.0 464.0,187.6 465.0,187.4 466.0,187.5 467.0,187.7 468.0,188.5 469.0,189.7 470.0,191.0 471.0,192.1 472.0,193.1 473.0,194.0 474.0,195.0 475.0,196.2 476.0,197.8 477.0,199.5 478.0,201.4 479.0,203.1 480.0,204.4 481.0,205.5 482.0,206.9 483.0,208.4 484.0,210.3 485.0,212.3 486.0,214.0 487.0,215.3 488.0,216.5 489.0,217.7 490.0,219.0 491.0,221.0 492.0,223.3 493.0,225.6 494.0,227.5 495.0,228.8 496.0,229.9 497.0,230.8 498.0,231.9 499.0,233.5 500.0,235.6 501.0,237.9 502.0,240.0 503.0,241.3 504.0,241.7 505.0,241.9 506.0,242.2 507.0,242.9 508.0,243.9 509.0,245.2 510.0,246.5 511.0,247.5 512.0,248.3 513.0,248.9 514.0,249.5 515.0,250.2 516.0,251.0 517.0,252.0 518.0,252.8 519.0,253.4 520.0,253.9 521.0,254.4 522.0,255.0 523.0,256.0 524.0,257.1 525.0,258.3 526.0,259.3 527.0,259.9"/><polyline fill="none" stroke="#fff" stroke-width="2.3" stroke-linejoin="round" stroke-linecap="round" points="380.0,284.0 381.0,283.7 382.0,282.2 383.0,279.4 384.0,276.1 385.0,272.7 386.0,266.7 387.0,261.2 388.0,253.7 389.0,246.4 390.0,239.8 391.0,233.2 392.0,228.9 393.0,224.7 394.0,221.9 395.0,219.9 396.0,219.1 397.0,218.1 398.0,217.2 399.0,216.1 400.0,215.4 401.0,215.0 402.0,214.9 403.0,215.1 404.0,215.2 405.0,215.0 406.0,214.5 407.0,213.8 408.0,213.1 409.0,212.7 410.0,213.2 411.0,213.9 412.0,214.6 413.0,214.9 414.0,214.6 415.0,214.2 416.0,213.8 417.0,213.6 418.0,213.7 419.0,213.9 420.0,214.1 421.0,213.7 422.0,213.1 423.0,212.3 424.0,211.5 425.0,211.0 426.0,211.0 427.0,211.1 428.0,211.1 429.0,211.0 430.0,210.5 431.0,209.9 432.0,208.9 433.0,208.1 434.0,207.6 435.0,207.2 436.0,206.8 437.0,206.2 438.0,205.2 439.0,204.2 440.0,203.3 441.0,202.5 442.0,202.0 443.0,201.6 444.0,201.1 445.0,200.2 446.0,199.3 447.0,198.2 448.0,197.4 449.0,196.8 450.0,196.5 451.0,195.7 452.0,194.8 453.0,193.6 454.0,192.5 455.0,191.4 456.0,190.5 457.0,190.2 458.0,190.3 459.0,190.4 460.0,190.3 461.0,189.7 462.0,188.9 463.0,188.2 464.0,187.7 465.0,188.0 466.0,188.8 467.0,189.6 468.0,190.4 469.0,191.1 470.0,191.6 471.0,192.2 472.0,193.3 473.0,194.8 474.0,196.6 475.0,198.3 476.0,199.8 477.0,201.1 478.0,202.3 479.0,203.5 480.0,205.0 481.0,206.7 482.0,208.8 483.0,210.7 484.0,212.3 485.0,213.7 486.0,214.6 487.0,215.6 488.0,217.1 489.0,219.0 490.0,221.0 491.0,223.3 492.0,225.4 493.0,226.9 494.0,228.0 495.0,229.0 496.0,230.3 497.0,231.8 498.0,233.7 499.0,235.5 500.0,237.3 501.0,238.8 502.0,240.2 503.0,241.3 504.0,242.0 505.0,242.9 506.0,243.9 507.0,244.6 508.0,245.3 509.0,245.8 510.0,246.5 511.0,247.4 512.0,248.6 513.0,249.9 514.0,251.0 515.0,251.7 516.0,252.1 517.0,252.3 518.0,252.6 519.0,253.2 520.0,254.2 521.0,255.4 522.0,256.6 523.0,257.5 524.0,258.0 525.0,258.4 526.0,258.9 527.0,259.6"/><polyline fill="none" stroke="#fff" stroke-width="2.3" stroke-linejoin="round" stroke-linecap="round" points="380.0,284.0 381.0,283.9 382.0,283.1 383.0,281.6 384.0,279.6 385.0,277.6 386.0,271.8 387.0,266.3 388.0,258.4 389.0,250.5 390.0,243.4 391.0,236.4 392.0,231.9 393.0,227.5 394.0,224.8 395.0,222.6 396.0,221.5 397.0,220.7 398.0,219.8 399.0,218.8 400.0,218.2 401.0,217.7 402.0,217.4 403.0,217.5 404.0,217.6 405.0,217.4 406.0,217.0 407.0,216.3 408.0,215.4 409.0,214.9 410.0,215.3 411.0,215.9 412.0,216.7 413.0,217.2 414.0,217.1 415.0,216.8 416.0,216.3 417.0,215.9 418.0,215.7 419.0,215.8 420.0,216.0 421.0,215.9 422.0,215.6 423.0,214.9 424.0,214.1 425.0,213.4 426.0,213.2 427.0,213.1 428.0,213.3 429.0,213.3 430.0,213.1 431.0,212.5 432.0,211.4 433.0,210.3 434.0,209.5 435.0,209.0 436.0,208.8 437.0,208.4 438.0,207.7 439.0,206.8 440.0,205.8 441.0,204.9 442.0,204.2 443.0,203.8 444.0,203.4 445.0,202.8 446.0,201.9 447.0,200.9 448.0,199.8 449.0,199.0 450.0,198.5 451.0,197.9 452.0,197.3 453.0,196.5 454.0,195.5 455.0,194.4 456.0,193.3 457.0,192.7 458.0,192.4 459.0,192.3 460.0,192.1 461.0,191.7 462.0,191.1 463.0,190.3 464.0,189.5 465.0,189.6 466.0,190.3 467.0,191.1 468.0,192.1 469.0,193.1 470.0,193.8 471.0,194.3 472.0,195.3 473.0,196.7 474.0,198.4 475.0,200.3 476.0,202.1 477.0,203.7 478.0,205.0 479.0,206.2 480.0,207.5 481.0,209.0 482.0,210.9 483.0,212.9 484.0,214.6 485.0,216.0 486.0,217.1 487.0,218.0 488.0,219.4 489.0,221.2 490.0,223.3 491.0,225.7 492.0,227.8 493.0,229.4 494.0,230.4 495.0,231.2 496.0,232.2 497.0,233.5 498.0,235.3 499.0,237.3 500.0,239.2 501.0,240.8 502.0,242.2 503.0,243.1 504.0,243.5 505.0,244.2 506.0,245.1 507.0,246.0 508.0,246.9 509.0,247.6 510.0,248.3 511.0,249.0 512.0,249.9 513.0,251.0 514.0,252.0 515.0,252.8 516.0,253.4 517.0,253.7 518.0,254.0 519.0,254.4 520.0,255.2 521.0,256.3 522.0,257.5 523.0,258.5 524.0,259.3 525.0,259.7 526.0,260.1 527.0,260.5"/><polyline fill="none" stroke="#fff" stroke-width="2.3" stroke-linejoin="round" stroke-linecap="round" points="380.0,284.0 381.0,284.0 382.0,284.0 383.0,284.0 384.0,283.5 385.0,283.0 386.0,277.5 387.0,272.0 388.0,263.5 389.0,255.0 390.0,247.5 391.0,240.0 392.0,235.2 393.0,230.5 394.0,228.0 395.0,225.5 396.0,224.6 397.0,223.0 398.0,221.7 399.0,220.8 400.0,221.0 401.0,221.2 402.0,221.3 403.0,221.1 404.0,220.6 405.0,219.6 406.0,218.7 407.0,218.2 408.0,217.9 409.0,217.9 410.0,218.6 411.0,219.0 412.0,219.2 413.0,219.0 414.0,218.7 415.0,218.7 416.0,219.0 417.0,219.2 418.0,219.2 419.0,218.8 420.0,218.1 421.0,217.5 422.0,217.1 423.0,217.0 424.0,217.0 425.0,217.0 426.0,216.7 427.0,216.2 428.0,215.5 429.0,215.0 430.0,214.7 431.0,214.8 432.0,214.3 433.0,213.7 434.0,212.8 435.0,211.6 436.0,210.7 437.0,209.9 438.0,209.3 439.0,209.1 440.0,208.9 441.0,208.5 442.0,207.8 443.0,206.7 444.0,205.6 445.0,204.5 446.0,203.8 447.0,203.3 448.0,203.0 449.0,202.5 450.0,201.8 451.0,200.7 452.0,199.6 453.0,198.5 454.0,197.8 455.0,197.4 456.0,197.0 457.0,196.5 458.0,195.7 459.0,194.6 460.0,193.5 461.0,192.9 462.0,192.5 463.0,192.4 464.0,192.3 465.0,192.6 466.0,192.9 467.0,193.0 468.0,193.4 469.0,194.1 470.0,195.2 471.0,196.5 472.0,198.3 473.0,200.0 474.0,201.3 475.0,202.5 476.0,203.8 477.0,205.4 478.0,207.2 479.0,209.2 480.0,211.1 481.0,212.7 482.0,214.0 483.0,215.1 484.0,216.2 485.0,217.5 486.0,219.1 487.0,220.9 488.0,222.9 489.0,224.8 490.0,226.5 491.0,228.0 492.0,229.6 493.0,231.1 494.0,232.4 495.0,233.9 496.0,235.3 497.0,236.4 498.0,237.6 499.0,238.9 500.0,240.3 501.0,242.0 502.0,244.0 503.0,245.5 504.0,246.2 505.0,246.7 506.0,246.9 507.0,247.0 508.0,247.5 509.0,248.6 510.0,249.9 511.0,251.3 512.0,252.5 513.0,253.2 514.0,253.3 515.0,253.5 516.0,253.8 517.0,254.3 518.0,255.3 519.0,256.5 520.0,257.5 521.0,258.2 522.0,258.6 523.0,259.0 524.0,259.5 525.0,260.3 526.0,261.3 527.0,262.4"/><polyline fill="none" stroke="#fff" stroke-width="2.3" stroke-linejoin="round" stroke-linecap="round" points="380.0,284.0 381.0,283.0 382.5,272.0 385.0,252.0 388.0,235.0 391.2,217.0 395.0,206.2 398.0,197.0 400.0,194.2 403.8,193.7 406.9,191.8 409.4,191.0 411.2,193.1 413.8,196.2 417.5,196.8 421.2,198.7 425.0,198.1 428.0,197.0 432.0,199.0 436.0,198.0 440.0,196.0 445.0,192.0 450.0,189.5"/><polyline fill="none" stroke="#fff" stroke-width="2.6" stroke-linejoin="round" stroke-linecap="round" points="428.9,215.0 428.9,36.5"/><polyline fill="none" stroke="#fff" stroke-width="3" stroke-linejoin="round" stroke-linecap="round" points="438.2,210.0 438.2,75.5"/><polyline fill="none" stroke="#fff" stroke-width="2.4" stroke-linejoin="round" stroke-linecap="round" points="525.3,256.2 526.6,200.0 527.8,159.4 529.0,205.0 530.2,228.0 531.3,190.0 532.3,167.5 533.4,195.0 534.6,230.0 535.8,182.0 537.2,190.0 538.7,177.0 540.0,192.0 541.2,184.0 542.5,178.0 543.8,190.0 544.8,215.0 546.0,267.8 547.5,205.0 549.0,215.0 550.2,270.1"/><polyline fill="none" stroke="#fff" stroke-width="2.4" stroke-linejoin="round" stroke-linecap="round" points="525.3,257.7 526.6,203.5 527.8,165.4 529.0,208.3 530.2,229.9 531.3,194.3 532.3,173.1 533.4,199.0 534.6,232.0 535.8,186.9 537.2,194.5 538.7,182.3 540.0,196.4 541.2,189.0 542.5,183.4 543.8,194.7 544.8,218.2 546.0,269.3 547.5,208.9 549.0,218.4 550.2,271.6"/><polyline fill="none" stroke="#fff" stroke-width="3.6" stroke-linejoin="round" stroke-linecap="round" points="527.6,162.0 527.6,261.0"/><polyline fill="none" stroke="#fff" stroke-width="3.6" stroke-linejoin="round" stroke-linecap="round" points="530.6,196.0 530.6,255.0"/><polyline fill="none" stroke="#fff" stroke-width="2.6" stroke-linejoin="round" stroke-linecap="round" points="532.2,170.0 532.2,226.0"/><polyline fill="none" stroke="#fff" stroke-width="2.8" stroke-linejoin="round" stroke-linecap="round" points="534.3,184.0 534.3,226.0"/><polyline fill="none" stroke="#fff" stroke-width="2.6" stroke-linejoin="round" stroke-linecap="round" points="536.4,186.0 536.4,224.0"/><polyline fill="none" stroke="#fff" stroke-width="2.8" stroke-linejoin="round" stroke-linecap="round" points="538.6,179.0 538.6,256.0"/><polyline fill="none" stroke="#fff" stroke-width="2.6" stroke-linejoin="round" stroke-linecap="round" points="540.8,187.0 540.8,241.0"/><polyline fill="none" stroke="#fff" stroke-width="2.4" stroke-linejoin="round" stroke-linecap="round" points="542.6,181.0 542.6,240.0"/><polyline fill="none" stroke="#fff" stroke-width="2" stroke-linejoin="round" stroke-linecap="round" points="544.2,192.0 544.2,216.0"/><polyline fill="none" stroke="#fff" stroke-width="2.6" stroke-linejoin="round" stroke-linecap="round" points="546.4,212.0 546.4,268.0"/><polyline fill="none" stroke="#fff" stroke-width="2.8" stroke-linejoin="round" stroke-linecap="round" points="548.4,207.0 548.4,270.0"/><polyline fill="none" stroke="#fff" stroke-width="3.2" stroke-linejoin="round" stroke-linecap="round" points="549.5,268.0 551.5,272.0 560.0,275.8 570.0,278.3 580.0,281.5 590.0,283.2 596.0,283.8"/><polyline fill="none" stroke="#fff" stroke-width="2.5" stroke-linejoin="round" stroke-linecap="round" points="551.5,270.8 560.0,274.6 570.0,277.1 580.0,280.3 590.0,282.0 596.0,282.6"/><polyline fill="none" stroke="#fff" stroke-width="2.3" stroke-linejoin="round" stroke-linecap="round" points="380.0,284.0 383.0,283.3 387.0,281.0 390.0,278.9 395.0,277.2 398.0,276.2 400.0,275.8 402.0,275.8 404.0,276.0 406.0,276.4 408.0,276.7 410.0,276.6 412.0,276.2 414.0,275.9 416.0,275.8 418.0,276.1 420.0,276.5 422.0,276.7 424.0,276.6 426.0,276.2 428.0,275.9 430.0,275.8 432.0,276.1 434.0,276.5 436.0,276.7 438.0,276.6 440.0,276.2 442.0,275.9 444.0,275.9 446.0,276.1 448.0,276.5 450.0,276.7 452.0,276.7 454.0,276.4 456.0,276.2 458.0,276.2 460.0,276.6 462.0,277.1 464.0,277.4 466.0,277.3 468.0,277.1 470.0,276.8 472.0,276.9 474.0,277.3 476.0,277.8 478.0,278.1 480.0,278.0 482.0,277.8 484.0,277.5 486.0,277.6 488.0,278.0 490.0,278.5 492.0,278.8 494.0,278.8 496.0,278.5 498.0,278.3 500.0,278.3 502.0,278.7 504.0,279.2 506.0,279.5 508.0,279.5 510.0,279.2 512.0,279.0 514.0,279.1 516.0,279.5 518.0,280.0 520.0,280.2 522.0,280.2 524.0,279.9 526.0,279.7 528.0,279.7 530.0,280.1 532.0,280.6 534.0,280.8 536.0,280.8 538.0,280.5 540.0,280.2 542.0,280.3 544.0,280.7 546.0,281.2 548.0,281.4 550.0,281.4 552.0,281.1 554.0,280.8 556.0,280.9 558.0,281.3 560.0,281.8 562.0,282.1 564.0,282.0 566.0,281.7 568.0,281.5 570.0,281.7 572.0,282.1 574.0,282.6 576.0,282.8 578.0,282.8 580.0,282.5 582.0,282.3 584.0,282.4 586.0,282.9 588.0,283.3 590.0,283.6 592.0,283.5 594.0,283.3"/>
<text transform="translate(182,15.6) scale(0.996,1.045)" font-size="16.67" text-anchor="middle">14.8 (LBC8=2024) X</text>
<text transform="translate(462,15.6) scale(0.996,1.045)" font-size="16.67" text-anchor="middle">14.8 (LBC8=2024) Y</text>
<text transform="translate(32.7,41.56) scale(0.955,1)" font-size="13.89" text-anchor="end">On</text>
<text transform="translate(612.4,41.56) scale(0.955,1)" font-size="13.89">On</text>
<text transform="translate(32.7,58.26) scale(0.955,1)" font-size="13.89" text-anchor="end">Y</text>
<text transform="translate(612.4,58.26) scale(0.955,1)" font-size="13.89">Y</text>
<text transform="translate(32.7,74.97) scale(0.955,1)" font-size="13.89" text-anchor="end">Off</text>
<text transform="translate(612.4,74.97) scale(0.955,1)" font-size="13.89">Off</text>
<text transform="translate(32.7,91.67) scale(0.955,1)" font-size="13.89" text-anchor="end">P</text>
<text transform="translate(612.4,91.67) scale(0.955,1)" font-size="13.89">P</text>
<text transform="translate(32.7,108.37) scale(0.955,1)" font-size="13.89" text-anchor="end">O</text>
<text transform="translate(612.4,108.37) scale(0.955,1)" font-size="13.89">O</text>
<text transform="translate(32.7,125.08) scale(0.955,1)" font-size="13.89" text-anchor="end">N</text>
<text transform="translate(612.4,125.08) scale(0.955,1)" font-size="13.89">N</text>
<text transform="translate(32.7,141.78) scale(0.955,1)" font-size="13.89" text-anchor="end">M</text>
<text transform="translate(612.4,141.78) scale(0.955,1)" font-size="13.89">M</text>
<text transform="translate(32.7,158.48) scale(0.955,1)" font-size="13.89" text-anchor="end">L</text>
<text transform="translate(612.4,158.48) scale(0.955,1)" font-size="13.89">L</text>
<text transform="translate(32.7,175.18) scale(0.955,1)" font-size="13.89" text-anchor="end">K</text>
<text transform="translate(612.4,175.18) scale(0.955,1)" font-size="13.89">K</text>
<text transform="translate(32.7,191.89) scale(0.955,1)" font-size="13.89" text-anchor="end">J</text>
<text transform="translate(612.4,191.89) scale(0.955,1)" font-size="13.89">J</text>
<text transform="translate(32.7,208.59) scale(0.955,1)" font-size="13.89" text-anchor="end">I</text>
<text transform="translate(612.4,208.59) scale(0.955,1)" font-size="13.89">I</text>
<text transform="translate(32.7,225.29) scale(0.955,1)" font-size="13.89" text-anchor="end">H</text>
<text transform="translate(612.4,225.29) scale(0.955,1)" font-size="13.89">H</text>
<text transform="translate(32.7,242.00) scale(0.955,1)" font-size="13.89" text-anchor="end">G</text>
<text transform="translate(612.4,242.00) scale(0.955,1)" font-size="13.89">G</text>
<text transform="translate(32.7,258.70) scale(0.955,1)" font-size="13.89" text-anchor="end">F</text>
<text transform="translate(612.4,258.70) scale(0.955,1)" font-size="13.89">F</text>
<text transform="translate(32.7,275.40) scale(0.955,1)" font-size="13.89" text-anchor="end">E</text>
<text transform="translate(612.4,275.40) scale(0.955,1)" font-size="13.89">E</text>
<text transform="translate(32.7,292.11) scale(0.955,1)" font-size="13.89" text-anchor="end" word-spacing="1.3">** D</text>
<text transform="translate(612.4,292.11) scale(0.955,1)" font-size="13.89" word-spacing="1.3">D **</text>
<text transform="translate(32.7,308.81) scale(0.955,1)" font-size="13.89" text-anchor="end">C</text>
<text transform="translate(612.4,308.81) scale(0.955,1)" font-size="13.89">C</text>
<text transform="translate(32.7,325.51) scale(0.955,1)" font-size="13.89" text-anchor="end">B</text>
<text transform="translate(612.4,325.51) scale(0.955,1)" font-size="13.89">B</text>
<text transform="translate(32.7,342.22) scale(0.955,1)" font-size="13.89" text-anchor="end" word-spacing="1.3">** A</text>
<text transform="translate(612.4,342.22) scale(0.955,1)" font-size="13.89">A</text>
<text transform="translate(32.7,358.92) scale(0.955,1)" font-size="13.89" text-anchor="end">Off</text>
<text transform="translate(612.4,358.92) scale(0.955,1)" font-size="13.89">Off</text>
<text transform="translate(32.7,375.62) scale(0.955,1)" font-size="13.89" text-anchor="end">X</text>
<text transform="translate(612.4,375.62) scale(0.955,1)" font-size="13.89">X</text>
<text transform="translate(32.7,391.03) scale(0.955,1)" font-size="13.89" text-anchor="end">On</text>
<text transform="translate(612.4,392.33) scale(0.955,1)" font-size="13.89">On</text>
<text x="39.4" y="289.3" fill="#fff" font-size="13.89" text-anchor="end">0</text>
<text x="39.4" y="241.1" fill="#fff" font-size="13.89" text-anchor="end">5</text>
<text x="39.4" y="192.9" fill="#fff" font-size="13.89" text-anchor="end">10</text>
<text x="39.4" y="144.7" fill="#fff" font-size="13.89" text-anchor="end">15</text>
<text x="39.4" y="96.5" fill="#fff" font-size="13.89" text-anchor="end">20</text>
<text x="39.4" y="48.3" fill="#fff" font-size="13.89" text-anchor="end">25</text>
<path d="M49.41 408.6v5" stroke="#000" stroke-width="1.1"/>
<text transform="translate(48.91,426) scale(0.94,1)" font-size="9.72" text-anchor="middle">0</text>
<path d="M90.07 408.6v5" stroke="#000" stroke-width="1.1"/>
<text transform="translate(89.57,426) scale(0.94,1)" font-size="9.72" text-anchor="middle">50</text>
<path d="M130.74 408.6v5" stroke="#000" stroke-width="1.1"/>
<text transform="translate(130.24,426) scale(0.94,1)" font-size="9.72" text-anchor="middle">100</text>
<path d="M171.40 408.6v5" stroke="#000" stroke-width="1.1"/>
<text transform="translate(170.90,426) scale(0.94,1)" font-size="9.72" text-anchor="middle">150</text>
<path d="M212.07 408.6v5" stroke="#000" stroke-width="1.1"/>
<text transform="translate(211.57,426) scale(0.94,1)" font-size="9.72" text-anchor="middle">200</text>
<path d="M252.73 408.6v5" stroke="#000" stroke-width="1.1"/>
<text transform="translate(252.23,426) scale(0.94,1)" font-size="9.72" text-anchor="middle">250</text>
<path d="M293.40 408.6v5" stroke="#000" stroke-width="1.1"/>
<text transform="translate(292.90,426) scale(0.94,1)" font-size="9.72" text-anchor="middle">300</text>
<path d="M329.41 408.6v5" stroke="#000" stroke-width="1.1"/>
<text transform="translate(328.91,426) scale(0.94,1)" font-size="9.72" text-anchor="middle">0</text>
<path d="M370.07 408.6v5" stroke="#000" stroke-width="1.1"/>
<text transform="translate(369.57,426) scale(0.94,1)" font-size="9.72" text-anchor="middle">50</text>
<path d="M410.74 408.6v5" stroke="#000" stroke-width="1.1"/>
<text transform="translate(410.24,426) scale(0.94,1)" font-size="9.72" text-anchor="middle">100</text>
<path d="M451.40 408.6v5" stroke="#000" stroke-width="1.1"/>
<text transform="translate(450.90,426) scale(0.94,1)" font-size="9.72" text-anchor="middle">150</text>
<path d="M492.07 408.6v5" stroke="#000" stroke-width="1.1"/>
<text transform="translate(491.57,426) scale(0.94,1)" font-size="9.72" text-anchor="middle">200</text>
<path d="M532.73 408.6v5" stroke="#000" stroke-width="1.1"/>
<text transform="translate(532.23,426) scale(0.94,1)" font-size="9.72" text-anchor="middle">250</text>
<path d="M573.40 408.6v5" stroke="#000" stroke-width="1.1"/>
<text transform="translate(572.90,426) scale(0.94,1)" font-size="9.72" text-anchor="middle">300</text>
</svg>
</body></html>
